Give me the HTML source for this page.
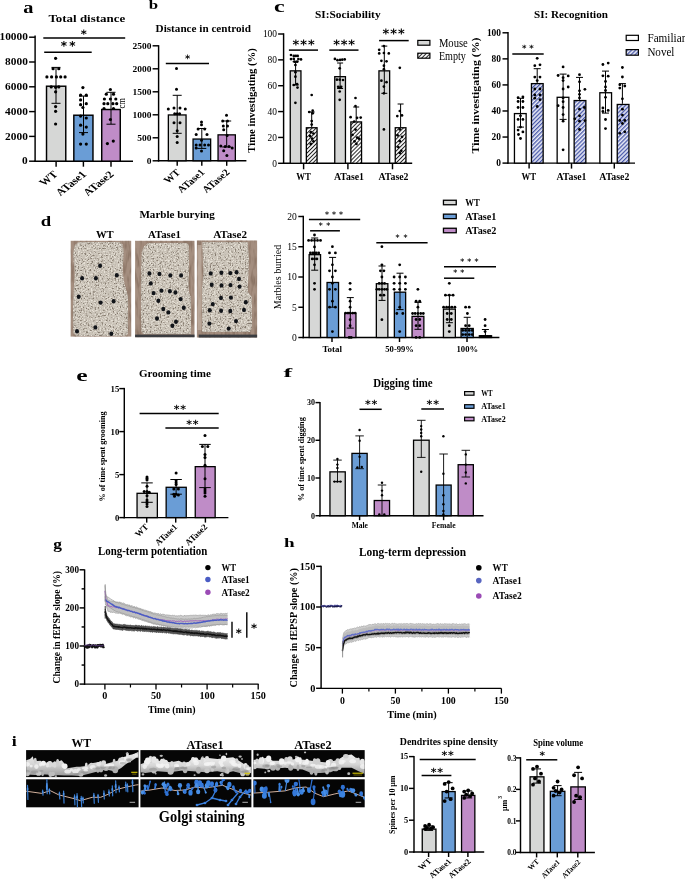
<!DOCTYPE html>
<html><head><meta charset="utf-8"><title>Figure</title>
<style>
html,body{margin:0;padding:0;background:#fff;}
svg{display:block;}
svg text{font-family:'Liberation Serif', 'Times New Roman', serif;font-weight:bold;}
</style></head>
<body>
<svg width="685" height="881" viewBox="0 0 685 881">
<rect width="685" height="881" fill="#ffffff"/>
<defs>
<pattern id="hatchK" patternUnits="userSpaceOnUse" width="2.8" height="2.8" patternTransform="rotate(45)">
<rect width="2.8" height="2.8" fill="#fff"/><rect width="1.0" height="2.8" fill="#222"/></pattern>
<pattern id="hatchB" patternUnits="userSpaceOnUse" width="2.9" height="2.9" patternTransform="rotate(45)">
<rect width="2.9" height="2.9" fill="#eceef8"/><rect width="1.3" height="2.9" fill="#4656a8"/></pattern>
<filter id="speckle" x="0" y="0" width="100%" height="100%" color-interpolation-filters="sRGB">
<feTurbulence type="fractalNoise" baseFrequency="0.6" numOctaves="2" seed="4" result="n"/>
<feColorMatrix in="n" type="matrix" values="0 0 0 0 0.52  0 0 0 0 0.48  0 0 0 0 0.43  5 0 0 0 -2.75" result="s"/>
<feComposite in="s" in2="SourceGraphic" operator="in" result="sp"/>
<feTurbulence type="fractalNoise" baseFrequency="0.7" numOctaves="1" seed="17" result="n2"/>
<feColorMatrix in="n2" type="matrix" values="0 0 0 0 0.90  0 0 0 0 0.88  0 0 0 0 0.84  0 6 0 0 -3.0" result="s2"/>
<feComposite in="s2" in2="SourceGraphic" operator="in" result="sp2"/>
<feMerge result="m"><feMergeNode in="SourceGraphic"/><feMergeNode in="sp2"/><feMergeNode in="sp"/></feMerge>
<feGaussianBlur in="m" stdDeviation="0.35"/>
</filter>
<filter id="grain" x="0" y="0" width="100%" height="100%" color-interpolation-filters="sRGB">
<feTurbulence type="fractalNoise" baseFrequency="0.35 0.08" numOctaves="2" seed="9" result="n"/>
<feColorMatrix in="n" type="matrix" values="0 0 0 0 0.45  0 0 0 0 0.36  0 0 0 0 0.30  3 0 0 0 -1.3" result="s"/>
<feComposite in="s" in2="SourceGraphic" operator="in"/>
</filter>
<linearGradient id="dgrad" x1="0" y1="0" x2="0" y2="1"><stop offset="0" stop-color="#ececec"/><stop offset="0.5" stop-color="#d6d6d6"/><stop offset="1" stop-color="#9a9a9a"/></linearGradient>
<filter id="soft" x="-5%" y="-20%" width="110%" height="140%"><feGaussianBlur stdDeviation="0.6"/></filter>
</defs>
<text x="23.2" y="12.8" font-size="16.5" textLength="10.2" lengthAdjust="spacingAndGlyphs">a</text>
<text x="48.4" y="22.4" font-size="10.5" textLength="76.8" lengthAdjust="spacingAndGlyphs">Total distance</text>
<line x1="35.1" y1="35.48" x2="35.1" y2="161.92" stroke="#000" stroke-width="1.45"/>
<line x1="29.1" y1="161.2" x2="35.1" y2="161.2" stroke="#000" stroke-width="1.45"/>
<text x="27.8" y="164.36" font-size="9.3" text-anchor="end" textLength="5.67" lengthAdjust="spacingAndGlyphs">0</text>
<line x1="29.1" y1="136.4" x2="35.1" y2="136.4" stroke="#000" stroke-width="1.45"/>
<text x="27.8" y="139.56" font-size="9.3" text-anchor="end" textLength="22.69" lengthAdjust="spacingAndGlyphs">2000</text>
<line x1="29.1" y1="111.6" x2="35.1" y2="111.6" stroke="#000" stroke-width="1.45"/>
<text x="27.8" y="114.76" font-size="9.3" text-anchor="end" textLength="22.69" lengthAdjust="spacingAndGlyphs">4000</text>
<line x1="29.1" y1="86.8" x2="35.1" y2="86.8" stroke="#000" stroke-width="1.45"/>
<text x="27.8" y="89.96" font-size="9.3" text-anchor="end" textLength="22.69" lengthAdjust="spacingAndGlyphs">6000</text>
<line x1="29.1" y1="62" x2="35.1" y2="62" stroke="#000" stroke-width="1.45"/>
<text x="27.8" y="65.16" font-size="9.3" text-anchor="end" textLength="22.69" lengthAdjust="spacingAndGlyphs">8000</text>
<line x1="29.1" y1="37.2" x2="35.1" y2="37.2" stroke="#000" stroke-width="1.45"/>
<text x="27.8" y="40.36" font-size="9.3" text-anchor="end" textLength="28.36" lengthAdjust="spacingAndGlyphs">10000</text>
<line x1="34.38" y1="161.2" x2="133" y2="161.2" stroke="#000" stroke-width="1.45"/>
<line x1="56.1" y1="161.2" x2="56.1" y2="166.7" stroke="#000" stroke-width="1.45"/>
<line x1="83.4" y1="161.2" x2="83.4" y2="166.7" stroke="#000" stroke-width="1.45"/>
<line x1="111" y1="161.2" x2="111" y2="166.7" stroke="#000" stroke-width="1.45"/>
<rect x="46.52" y="86.22" width="19.25" height="74.95" fill="#d6d7d6" stroke="#000" stroke-width="1.45"/>
<rect x="73.82" y="115.22" width="19.15" height="45.95" fill="#6a9dd6" stroke="#000" stroke-width="1.45"/>
<rect x="101.72" y="109.52" width="18.55" height="51.65" fill="#bf8cc7" stroke="#000" stroke-width="1.45"/>
<line x1="56" y1="67.4" x2="56" y2="103.3" stroke="#000" stroke-width="1.0"/>
<line x1="51.5" y1="67.4" x2="60.5" y2="67.4" stroke="#000" stroke-width="1.0"/>
<line x1="51.5" y1="103.3" x2="60.5" y2="103.3" stroke="#000" stroke-width="1.0"/>
<line x1="83.5" y1="96.1" x2="83.5" y2="132.6" stroke="#000" stroke-width="1.0"/>
<line x1="79" y1="96.1" x2="88" y2="96.1" stroke="#000" stroke-width="1.0"/>
<line x1="79" y1="132.6" x2="88" y2="132.6" stroke="#000" stroke-width="1.0"/>
<line x1="111" y1="92.3" x2="111" y2="124.2" stroke="#000" stroke-width="1.0"/>
<line x1="106.5" y1="92.3" x2="115.5" y2="92.3" stroke="#000" stroke-width="1.0"/>
<line x1="106.5" y1="124.2" x2="115.5" y2="124.2" stroke="#000" stroke-width="1.0"/>
<circle cx="55.6" cy="58.3" r="1.6" fill="#000"/>
<circle cx="53.1" cy="68.7" r="1.6" fill="#000"/>
<circle cx="58.8" cy="68.7" r="1.6" fill="#000"/>
<circle cx="46.9" cy="76.9" r="1.6" fill="#000"/>
<circle cx="51.6" cy="76.9" r="1.6" fill="#000"/>
<circle cx="56.4" cy="76.9" r="1.6" fill="#000"/>
<circle cx="60.7" cy="76.9" r="1.6" fill="#000"/>
<circle cx="65.1" cy="76.9" r="1.6" fill="#000"/>
<circle cx="51.2" cy="86.9" r="1.6" fill="#000"/>
<circle cx="55.6" cy="87.3" r="1.6" fill="#000"/>
<circle cx="58.8" cy="86.9" r="1.6" fill="#000"/>
<circle cx="55.6" cy="91.8" r="1.6" fill="#000"/>
<circle cx="55.6" cy="106.6" r="1.6" fill="#000"/>
<circle cx="55.6" cy="111.3" r="1.6" fill="#000"/>
<circle cx="55.6" cy="124" r="1.6" fill="#000"/>
<circle cx="82.9" cy="87.6" r="1.6" fill="#000"/>
<circle cx="80.6" cy="95.2" r="1.6" fill="#000"/>
<circle cx="86.3" cy="95.2" r="1.6" fill="#000"/>
<circle cx="80.6" cy="99.9" r="1.6" fill="#000"/>
<circle cx="86.3" cy="103.7" r="1.6" fill="#000"/>
<circle cx="80.6" cy="104.7" r="1.6" fill="#000"/>
<circle cx="82.9" cy="107.5" r="1.6" fill="#000"/>
<circle cx="80.6" cy="116.1" r="1.6" fill="#000"/>
<circle cx="86.3" cy="118" r="1.6" fill="#000"/>
<circle cx="80.6" cy="125.2" r="1.6" fill="#000"/>
<circle cx="86.3" cy="127.1" r="1.6" fill="#000"/>
<circle cx="82.9" cy="134.1" r="1.6" fill="#000"/>
<circle cx="80.6" cy="144.1" r="1.6" fill="#000"/>
<circle cx="86.3" cy="144.1" r="1.6" fill="#000"/>
<circle cx="110.4" cy="89.5" r="1.6" fill="#000"/>
<circle cx="106.3" cy="94.2" r="1.6" fill="#000"/>
<circle cx="113.5" cy="94.2" r="1.6" fill="#000"/>
<circle cx="104.4" cy="99" r="1.6" fill="#000"/>
<circle cx="110.4" cy="99" r="1.6" fill="#000"/>
<circle cx="115.8" cy="99" r="1.6" fill="#000"/>
<circle cx="104" cy="103.7" r="1.6" fill="#000"/>
<circle cx="107.8" cy="103.7" r="1.6" fill="#000"/>
<circle cx="112.9" cy="103.7" r="1.6" fill="#000"/>
<circle cx="116.7" cy="103.7" r="1.6" fill="#000"/>
<circle cx="104" cy="108.5" r="1.6" fill="#000"/>
<circle cx="113.5" cy="108.5" r="1.6" fill="#000"/>
<circle cx="110.4" cy="119.5" r="1.6" fill="#000"/>
<circle cx="107.4" cy="143.6" r="1.6" fill="#000"/>
<circle cx="113.3" cy="141.1" r="1.6" fill="#000"/>
<text x="125.3" y="108.6" font-size="10.5" transform="rotate(-90 125.3 108.6)" style="font-weight:normal" textLength="10.4" lengthAdjust="spacingAndGlyphs">cm</text>
<line x1="43.3" y1="38" x2="125.2" y2="38" stroke="#000" stroke-width="1.5"/>
<text x="80.87" y="38.04" font-size="11.5" text-rendering="geometricPrecision" style="font-family:'DejaVu Sans', sans-serif">*</text>
<line x1="44.2" y1="52.2" x2="91.7" y2="52.2" stroke="#000" stroke-width="1.5"/>
<text x="60.69" y="50.4" font-size="12" text-rendering="geometricPrecision" style="font-family:'DejaVu Sans', sans-serif">*</text>
<text x="69.19" y="50.4" font-size="12" text-rendering="geometricPrecision" style="font-family:'DejaVu Sans', sans-serif">*</text>
<text x="0" y="0" font-size="9.8" transform="translate(58.5 175) scale(1.25 1) rotate(-45)" text-anchor="end">WT</text>
<text x="0" y="0" font-size="9.8" transform="translate(87 175) scale(1.25 1) rotate(-45)" text-anchor="end">ATase1</text>
<text x="0" y="0" font-size="9.8" transform="translate(114.5 175) scale(1.25 1) rotate(-45)" text-anchor="end">ATase2</text>
<text x="148.8" y="9.4" font-size="12.5" textLength="9.38" lengthAdjust="spacingAndGlyphs">b</text>
<text x="155.6" y="32.3" font-size="10.4" textLength="95.3" lengthAdjust="spacingAndGlyphs">Distance in centroid</text>
<line x1="158.6" y1="45.17" x2="158.6" y2="161.53" stroke="#000" stroke-width="1.45"/>
<line x1="152.6" y1="160.8" x2="158.6" y2="160.8" stroke="#000" stroke-width="1.45"/>
<text x="151.5" y="163.86" font-size="9" text-anchor="end" textLength="4.73" lengthAdjust="spacingAndGlyphs">0</text>
<line x1="152.6" y1="137.8" x2="158.6" y2="137.8" stroke="#000" stroke-width="1.45"/>
<text x="151.5" y="140.86" font-size="9" text-anchor="end" textLength="14.18" lengthAdjust="spacingAndGlyphs">500</text>
<line x1="152.6" y1="114.8" x2="158.6" y2="114.8" stroke="#000" stroke-width="1.45"/>
<text x="151.5" y="117.86" font-size="9" text-anchor="end" textLength="18.9" lengthAdjust="spacingAndGlyphs">1000</text>
<line x1="152.6" y1="91.8" x2="158.6" y2="91.8" stroke="#000" stroke-width="1.45"/>
<text x="151.5" y="94.86" font-size="9" text-anchor="end" textLength="18.9" lengthAdjust="spacingAndGlyphs">1500</text>
<line x1="152.6" y1="68.8" x2="158.6" y2="68.8" stroke="#000" stroke-width="1.45"/>
<text x="151.5" y="71.86" font-size="9" text-anchor="end" textLength="18.9" lengthAdjust="spacingAndGlyphs">2000</text>
<line x1="152.6" y1="45.8" x2="158.6" y2="45.8" stroke="#000" stroke-width="1.45"/>
<text x="151.5" y="48.86" font-size="9" text-anchor="end" textLength="18.9" lengthAdjust="spacingAndGlyphs">2500</text>
<line x1="157.88" y1="160.8" x2="246.4" y2="160.8" stroke="#000" stroke-width="1.45"/>
<line x1="177.2" y1="160.8" x2="177.2" y2="165.8" stroke="#000" stroke-width="1.45"/>
<line x1="201.8" y1="160.8" x2="201.8" y2="165.8" stroke="#000" stroke-width="1.45"/>
<line x1="226.7" y1="160.8" x2="226.7" y2="165.8" stroke="#000" stroke-width="1.45"/>
<rect x="168.35" y="114.95" width="17.7" height="45.8" fill="#d6d7d6" stroke="#000" stroke-width="1.3"/>
<rect x="193.05" y="139.05" width="17.6" height="21.7" fill="#6a9dd6" stroke="#000" stroke-width="1.3"/>
<rect x="218.05" y="134.85" width="17.3" height="25.9" fill="#bf8cc7" stroke="#000" stroke-width="1.3"/>
<line x1="177.2" y1="95.3" x2="177.2" y2="133.3" stroke="#000" stroke-width="1.0"/>
<line x1="172.7" y1="95.3" x2="181.7" y2="95.3" stroke="#000" stroke-width="1.0"/>
<line x1="172.7" y1="133.3" x2="181.7" y2="133.3" stroke="#000" stroke-width="1.0"/>
<line x1="201.8" y1="128.5" x2="201.8" y2="148.4" stroke="#000" stroke-width="1.0"/>
<line x1="197.3" y1="128.5" x2="206.3" y2="128.5" stroke="#000" stroke-width="1.0"/>
<line x1="197.3" y1="148.4" x2="206.3" y2="148.4" stroke="#000" stroke-width="1.0"/>
<line x1="226.7" y1="121" x2="226.7" y2="147" stroke="#000" stroke-width="1.0"/>
<line x1="222.2" y1="121" x2="231.2" y2="121" stroke="#000" stroke-width="1.0"/>
<line x1="222.2" y1="147" x2="231.2" y2="147" stroke="#000" stroke-width="1.0"/>
<circle cx="176.5" cy="68.5" r="1.5" fill="#000"/>
<circle cx="176.5" cy="89.3" r="1.5" fill="#000"/>
<circle cx="168.3" cy="109" r="1.5" fill="#000"/>
<circle cx="174" cy="108" r="1.5" fill="#000"/>
<circle cx="180" cy="108" r="1.5" fill="#000"/>
<circle cx="185.3" cy="109" r="1.5" fill="#000"/>
<circle cx="174.7" cy="113.7" r="1.5" fill="#000"/>
<circle cx="177.2" cy="113.7" r="1.5" fill="#000"/>
<circle cx="179.6" cy="113.7" r="1.5" fill="#000"/>
<circle cx="174" cy="122.8" r="1.5" fill="#000"/>
<circle cx="180" cy="122.8" r="1.5" fill="#000"/>
<circle cx="177.2" cy="130.8" r="1.5" fill="#000"/>
<circle cx="177.2" cy="136.5" r="1.5" fill="#000"/>
<circle cx="177.2" cy="142.6" r="1.5" fill="#000"/>
<circle cx="201.5" cy="121.9" r="1.5" fill="#000"/>
<circle cx="201.5" cy="124.7" r="1.5" fill="#000"/>
<circle cx="198.1" cy="128.9" r="1.5" fill="#000"/>
<circle cx="204.7" cy="128.9" r="1.5" fill="#000"/>
<circle cx="196.2" cy="134.6" r="1.5" fill="#000"/>
<circle cx="207" cy="134.6" r="1.5" fill="#000"/>
<circle cx="201.5" cy="140.3" r="1.5" fill="#000"/>
<circle cx="196.2" cy="145" r="1.5" fill="#000"/>
<circle cx="200" cy="145" r="1.5" fill="#000"/>
<circle cx="204.7" cy="145" r="1.5" fill="#000"/>
<circle cx="208.5" cy="145" r="1.5" fill="#000"/>
<circle cx="201.5" cy="151.1" r="1.5" fill="#000"/>
<circle cx="196.2" cy="147.9" r="1.5" fill="#000"/>
<circle cx="226.5" cy="115.2" r="1.5" fill="#000"/>
<circle cx="222.7" cy="120.9" r="1.5" fill="#000"/>
<circle cx="227.5" cy="120.9" r="1.5" fill="#000"/>
<circle cx="223.3" cy="126.1" r="1.5" fill="#000"/>
<circle cx="227.5" cy="126.1" r="1.5" fill="#000"/>
<circle cx="223.7" cy="129.8" r="1.5" fill="#000"/>
<circle cx="227.1" cy="135.5" r="1.5" fill="#000"/>
<circle cx="220.8" cy="146" r="1.5" fill="#000"/>
<circle cx="225.2" cy="146.4" r="1.5" fill="#000"/>
<circle cx="229" cy="146.4" r="1.5" fill="#000"/>
<circle cx="232.2" cy="147.9" r="1.5" fill="#000"/>
<circle cx="223.7" cy="150.7" r="1.5" fill="#000"/>
<circle cx="226.9" cy="155.5" r="1.5" fill="#000"/>
<line x1="165.8" y1="63.6" x2="209" y2="63.6" stroke="#000" stroke-width="1.5"/>
<text x="185.05" y="62.15" font-size="10" text-rendering="geometricPrecision" style="font-family:'DejaVu Sans', sans-serif">*</text>
<text x="0" y="0" font-size="9.4" transform="translate(181 173) scale(1.18 1) rotate(-45)" text-anchor="end">WT</text>
<text x="0" y="0" font-size="9.4" transform="translate(205.5 173) scale(1.18 1) rotate(-45)" text-anchor="end">ATase1</text>
<text x="0" y="0" font-size="9.4" transform="translate(230.5 173) scale(1.18 1) rotate(-45)" text-anchor="end">ATase2</text>
<text x="273.9" y="11.5" font-size="16" textLength="10.65" lengthAdjust="spacingAndGlyphs">c</text>
<text x="314.9" y="18" font-size="10.7" textLength="65.7" lengthAdjust="spacingAndGlyphs">SI:Sociability</text>
<text x="255.5" y="152.7" font-size="11" transform="rotate(-90 255.5 152.7)" textLength="104.5" lengthAdjust="spacingAndGlyphs">Time investigating (%)</text>
<line x1="283.6" y1="33.27" x2="283.6" y2="164.03" stroke="#000" stroke-width="1.45"/>
<line x1="278.1" y1="163.3" x2="283.6" y2="163.3" stroke="#000" stroke-width="1.45"/>
<text x="277" y="166.56" font-size="9.6" style="font-weight:normal" text-anchor="end" textLength="4.7" lengthAdjust="spacingAndGlyphs">0</text>
<line x1="278.1" y1="137.44" x2="283.6" y2="137.44" stroke="#000" stroke-width="1.45"/>
<text x="277" y="140.7" font-size="9.6" style="font-weight:normal" text-anchor="end" textLength="9.41" lengthAdjust="spacingAndGlyphs">20</text>
<line x1="278.1" y1="111.58" x2="283.6" y2="111.58" stroke="#000" stroke-width="1.45"/>
<text x="277" y="114.84" font-size="9.6" style="font-weight:normal" text-anchor="end" textLength="9.41" lengthAdjust="spacingAndGlyphs">40</text>
<line x1="278.1" y1="85.72" x2="283.6" y2="85.72" stroke="#000" stroke-width="1.45"/>
<text x="277" y="88.98" font-size="9.6" style="font-weight:normal" text-anchor="end" textLength="9.41" lengthAdjust="spacingAndGlyphs">60</text>
<line x1="278.1" y1="59.86" x2="283.6" y2="59.86" stroke="#000" stroke-width="1.45"/>
<text x="277" y="63.12" font-size="9.6" style="font-weight:normal" text-anchor="end" textLength="9.41" lengthAdjust="spacingAndGlyphs">80</text>
<line x1="278.1" y1="34" x2="283.6" y2="34" stroke="#000" stroke-width="1.45"/>
<text x="277" y="37.26" font-size="9.6" style="font-weight:normal" text-anchor="end" textLength="14.11" lengthAdjust="spacingAndGlyphs">100</text>
<line x1="282.88" y1="163.3" x2="412.2" y2="163.3" stroke="#000" stroke-width="1.45"/>
<line x1="303.6" y1="163.3" x2="303.6" y2="169.3" stroke="#000" stroke-width="1.45"/>
<line x1="347.9" y1="163.3" x2="347.9" y2="169.3" stroke="#000" stroke-width="1.45"/>
<line x1="392.5" y1="163.3" x2="392.5" y2="169.3" stroke="#000" stroke-width="1.45"/>
<rect x="290.25" y="70.85" width="10.7" height="92.45" fill="#d6d7d6" stroke="#000" stroke-width="1.3"/>
<rect x="334.75" y="76.67" width="10.7" height="86.63" fill="#d6d7d6" stroke="#000" stroke-width="1.3"/>
<rect x="378.95" y="70.85" width="10.7" height="92.45" fill="#d6d7d6" stroke="#000" stroke-width="1.3"/>
<rect x="306.35" y="127.75" width="10.7" height="35.55" fill="url(#hatchK)" stroke="#000" stroke-width="1.3"/>
<rect x="350.85" y="121.93" width="10.7" height="41.37" fill="url(#hatchK)" stroke="#000" stroke-width="1.3"/>
<rect x="395.25" y="127.75" width="10.7" height="35.55" fill="url(#hatchK)" stroke="#000" stroke-width="1.3"/>
<line x1="295.6" y1="61.7" x2="295.6" y2="85" stroke="#000" stroke-width="1.0"/>
<line x1="292.6" y1="61.7" x2="298.6" y2="61.7" stroke="#000" stroke-width="1.0"/>
<line x1="292.6" y1="85" x2="298.6" y2="85" stroke="#000" stroke-width="1.0"/>
<line x1="340.1" y1="63" x2="340.1" y2="88.5" stroke="#000" stroke-width="1.0"/>
<line x1="337.1" y1="63" x2="343.1" y2="63" stroke="#000" stroke-width="1.0"/>
<line x1="337.1" y1="88.5" x2="343.1" y2="88.5" stroke="#000" stroke-width="1.0"/>
<line x1="384.3" y1="46.1" x2="384.3" y2="93.3" stroke="#000" stroke-width="1.0"/>
<line x1="381.3" y1="46.1" x2="387.3" y2="46.1" stroke="#000" stroke-width="1.0"/>
<line x1="381.3" y1="93.3" x2="387.3" y2="93.3" stroke="#000" stroke-width="1.0"/>
<line x1="311.7" y1="112" x2="311.7" y2="127.1" stroke="#000" stroke-width="1.0"/>
<line x1="308.7" y1="112" x2="314.7" y2="112" stroke="#000" stroke-width="1.0"/>
<line x1="356.2" y1="107" x2="356.2" y2="121.28" stroke="#000" stroke-width="1.0"/>
<line x1="353.2" y1="107" x2="359.2" y2="107" stroke="#000" stroke-width="1.0"/>
<line x1="400.6" y1="104" x2="400.6" y2="127.1" stroke="#000" stroke-width="1.0"/>
<line x1="397.6" y1="104" x2="403.6" y2="104" stroke="#000" stroke-width="1.0"/>
<circle cx="291" cy="55" r="1.35" fill="#000"/>
<circle cx="293.8" cy="55.9" r="1.35" fill="#000"/>
<circle cx="295.8" cy="55.9" r="1.35" fill="#000"/>
<circle cx="297.7" cy="55.9" r="1.35" fill="#000"/>
<circle cx="291" cy="59.1" r="1.35" fill="#000"/>
<circle cx="293.8" cy="58.9" r="1.35" fill="#000"/>
<circle cx="298.4" cy="59.1" r="1.35" fill="#000"/>
<circle cx="301" cy="59.4" r="1.35" fill="#000"/>
<circle cx="294.5" cy="61.7" r="1.35" fill="#000"/>
<circle cx="297.1" cy="61.7" r="1.35" fill="#000"/>
<circle cx="295.4" cy="65" r="1.35" fill="#000"/>
<circle cx="295.4" cy="72.2" r="1.35" fill="#000"/>
<circle cx="295.4" cy="76.7" r="1.35" fill="#000"/>
<circle cx="293.8" cy="85" r="1.35" fill="#000"/>
<circle cx="297.1" cy="84.2" r="1.35" fill="#000"/>
<circle cx="297.5" cy="87.6" r="1.35" fill="#000"/>
<circle cx="295.4" cy="102.8" r="1.35" fill="#000"/>
<circle cx="311.7" cy="95" r="1.35" fill="#000"/>
<circle cx="309.2" cy="112" r="1.35" fill="#000"/>
<circle cx="312.7" cy="110.7" r="1.35" fill="#000"/>
<circle cx="312.7" cy="113.3" r="1.35" fill="#000"/>
<circle cx="311.7" cy="121.1" r="1.35" fill="#000"/>
<circle cx="311.7" cy="124.6" r="1.35" fill="#000"/>
<circle cx="310.8" cy="132.2" r="1.35" fill="#000"/>
<circle cx="313.4" cy="133.5" r="1.35" fill="#000"/>
<circle cx="310.1" cy="136.1" r="1.35" fill="#000"/>
<circle cx="312.1" cy="138.7" r="1.35" fill="#000"/>
<circle cx="313.4" cy="141.3" r="1.35" fill="#000"/>
<circle cx="310.8" cy="143.9" r="1.35" fill="#000"/>
<circle cx="334.9" cy="58.9" r="1.35" fill="#000"/>
<circle cx="337.5" cy="60.2" r="1.35" fill="#000"/>
<circle cx="340.1" cy="59.9" r="1.35" fill="#000"/>
<circle cx="342.3" cy="59.7" r="1.35" fill="#000"/>
<circle cx="344.7" cy="59.4" r="1.35" fill="#000"/>
<circle cx="339.7" cy="68.3" r="1.35" fill="#000"/>
<circle cx="336.9" cy="79.7" r="1.35" fill="#000"/>
<circle cx="339.7" cy="79.7" r="1.35" fill="#000"/>
<circle cx="343" cy="80" r="1.35" fill="#000"/>
<circle cx="338.2" cy="86.8" r="1.35" fill="#000"/>
<circle cx="341.2" cy="86.8" r="1.35" fill="#000"/>
<circle cx="339.7" cy="87.8" r="1.35" fill="#000"/>
<circle cx="339.7" cy="91.5" r="1.35" fill="#000"/>
<circle cx="339.7" cy="99.8" r="1.35" fill="#000"/>
<circle cx="355.5" cy="98" r="1.35" fill="#000"/>
<circle cx="355.5" cy="106.1" r="1.35" fill="#000"/>
<circle cx="350.6" cy="117.2" r="1.35" fill="#000"/>
<circle cx="357.1" cy="117.8" r="1.35" fill="#000"/>
<circle cx="360.7" cy="117.6" r="1.35" fill="#000"/>
<circle cx="354.2" cy="121.5" r="1.35" fill="#000"/>
<circle cx="355.5" cy="129.6" r="1.35" fill="#000"/>
<circle cx="352.5" cy="134.8" r="1.35" fill="#000"/>
<circle cx="357.1" cy="137.6" r="1.35" fill="#000"/>
<circle cx="359" cy="138.7" r="1.35" fill="#000"/>
<circle cx="354.5" cy="141.3" r="1.35" fill="#000"/>
<circle cx="356.4" cy="143.9" r="1.35" fill="#000"/>
<circle cx="383.9" cy="46.1" r="1.35" fill="#000"/>
<circle cx="379.2" cy="49.8" r="1.35" fill="#000"/>
<circle cx="379.2" cy="53.4" r="1.35" fill="#000"/>
<circle cx="383.9" cy="53" r="1.35" fill="#000"/>
<circle cx="388.8" cy="53.4" r="1.35" fill="#000"/>
<circle cx="381.4" cy="60.8" r="1.35" fill="#000"/>
<circle cx="386.5" cy="61.3" r="1.35" fill="#000"/>
<circle cx="383.9" cy="65.7" r="1.35" fill="#000"/>
<circle cx="383.9" cy="69.2" r="1.35" fill="#000"/>
<circle cx="381.4" cy="80.7" r="1.35" fill="#000"/>
<circle cx="386.5" cy="82.2" r="1.35" fill="#000"/>
<circle cx="383.9" cy="86.6" r="1.35" fill="#000"/>
<circle cx="383.9" cy="93.3" r="1.35" fill="#000"/>
<circle cx="383.9" cy="129.4" r="1.35" fill="#000"/>
<circle cx="399.8" cy="67.8" r="1.35" fill="#000"/>
<circle cx="399.8" cy="111" r="1.35" fill="#000"/>
<circle cx="397.3" cy="116.1" r="1.35" fill="#000"/>
<circle cx="402" cy="115.4" r="1.35" fill="#000"/>
<circle cx="399.8" cy="129.4" r="1.35" fill="#000"/>
<circle cx="397.6" cy="135.3" r="1.35" fill="#000"/>
<circle cx="402" cy="136.8" r="1.35" fill="#000"/>
<circle cx="399.8" cy="141.2" r="1.35" fill="#000"/>
<circle cx="398.3" cy="147.1" r="1.35" fill="#000"/>
<circle cx="401.3" cy="150.8" r="1.35" fill="#000"/>
<circle cx="399.8" cy="153" r="1.35" fill="#000"/>
<line x1="288.9" y1="50.1" x2="318" y2="50.1" stroke="#000" stroke-width="1.5"/>
<text x="292.39" y="48.52" font-size="12.8" text-rendering="geometricPrecision" style="font-family:'DejaVu Sans', sans-serif">*</text>
<text x="300.24" y="48.52" font-size="12.8" text-rendering="geometricPrecision" style="font-family:'DejaVu Sans', sans-serif">*</text>
<text x="308.09" y="48.52" font-size="12.8" text-rendering="geometricPrecision" style="font-family:'DejaVu Sans', sans-serif">*</text>
<line x1="329.3" y1="50.1" x2="358.5" y2="50.1" stroke="#000" stroke-width="1.5"/>
<text x="333.14" y="48.52" font-size="12.8" text-rendering="geometricPrecision" style="font-family:'DejaVu Sans', sans-serif">*</text>
<text x="340.74" y="48.52" font-size="12.8" text-rendering="geometricPrecision" style="font-family:'DejaVu Sans', sans-serif">*</text>
<text x="348.34" y="48.52" font-size="12.8" text-rendering="geometricPrecision" style="font-family:'DejaVu Sans', sans-serif">*</text>
<line x1="379.1" y1="40.6" x2="408.7" y2="40.6" stroke="#000" stroke-width="1.5"/>
<text x="382.54" y="38.12" font-size="12.8" text-rendering="geometricPrecision" style="font-family:'DejaVu Sans', sans-serif">*</text>
<text x="390.24" y="38.12" font-size="12.8" text-rendering="geometricPrecision" style="font-family:'DejaVu Sans', sans-serif">*</text>
<text x="397.94" y="38.12" font-size="12.8" text-rendering="geometricPrecision" style="font-family:'DejaVu Sans', sans-serif">*</text>
<text x="303.5" y="179.6" font-size="9.6" text-anchor="middle" textLength="14.6" lengthAdjust="spacingAndGlyphs">WT</text>
<text x="349" y="179.6" font-size="9.6" text-anchor="middle" textLength="30" lengthAdjust="spacingAndGlyphs">ATase1</text>
<text x="393.5" y="179.6" font-size="9.6" text-anchor="middle" textLength="30" lengthAdjust="spacingAndGlyphs">ATase2</text>
<rect x="417.8" y="40.4" width="12.1" height="4.8" fill="#d6d7d6" stroke="#000" stroke-width="1.2"/>
<rect x="417.8" y="53.2" width="12.1" height="5" fill="url(#hatchK)" stroke="#000" stroke-width="1.2"/>
<text x="438.9" y="46.7" font-size="11.5" style="font-weight:normal" textLength="28.9" lengthAdjust="spacingAndGlyphs">Mouse</text>
<text x="438.9" y="59.5" font-size="11.5" style="font-weight:normal" textLength="27" lengthAdjust="spacingAndGlyphs">Empty</text>
<text x="534" y="17.7" font-size="10.7" textLength="74" lengthAdjust="spacingAndGlyphs">SI: Recognition</text>
<text x="479.2" y="153.5" font-size="11" transform="rotate(-90 479.2 153.5)" textLength="116" lengthAdjust="spacingAndGlyphs">Time investigating (%)</text>
<line x1="508" y1="32.07" x2="508" y2="163.82" stroke="#000" stroke-width="1.45"/>
<line x1="502.5" y1="163.1" x2="508" y2="163.1" stroke="#000" stroke-width="1.45"/>
<text x="501" y="166.36" font-size="9.6" text-anchor="end" textLength="4.7" lengthAdjust="spacingAndGlyphs">0</text>
<line x1="502.5" y1="137.04" x2="508" y2="137.04" stroke="#000" stroke-width="1.45"/>
<text x="501" y="140.3" font-size="9.6" text-anchor="end" textLength="9.41" lengthAdjust="spacingAndGlyphs">20</text>
<line x1="502.5" y1="110.98" x2="508" y2="110.98" stroke="#000" stroke-width="1.45"/>
<text x="501" y="114.24" font-size="9.6" text-anchor="end" textLength="9.41" lengthAdjust="spacingAndGlyphs">40</text>
<line x1="502.5" y1="84.92" x2="508" y2="84.92" stroke="#000" stroke-width="1.45"/>
<text x="501" y="88.18" font-size="9.6" text-anchor="end" textLength="9.41" lengthAdjust="spacingAndGlyphs">60</text>
<line x1="502.5" y1="58.86" x2="508" y2="58.86" stroke="#000" stroke-width="1.45"/>
<text x="501" y="62.12" font-size="9.6" text-anchor="end" textLength="9.41" lengthAdjust="spacingAndGlyphs">80</text>
<line x1="502.5" y1="32.8" x2="508" y2="32.8" stroke="#000" stroke-width="1.45"/>
<text x="501" y="36.06" font-size="9.6" text-anchor="end" textLength="14.11" lengthAdjust="spacingAndGlyphs">100</text>
<line x1="507.27" y1="163.1" x2="635" y2="163.1" stroke="#000" stroke-width="1.45"/>
<line x1="529.1" y1="163.1" x2="529.1" y2="168.6" stroke="#000" stroke-width="1.45"/>
<line x1="571.5" y1="163.1" x2="571.5" y2="168.6" stroke="#000" stroke-width="1.45"/>
<line x1="614.3" y1="163.1" x2="614.3" y2="168.6" stroke="#000" stroke-width="1.45"/>
<rect x="514.45" y="113.58" width="11.7" height="49.52" fill="#fff" stroke="#000" stroke-width="1.3"/>
<rect x="531.45" y="83.62" width="11.7" height="79.48" fill="url(#hatchB)" stroke="#000" stroke-width="1.3"/>
<rect x="557.15" y="97.3" width="11.7" height="65.8" fill="#fff" stroke="#000" stroke-width="1.3"/>
<rect x="574.15" y="100.55" width="11.7" height="62.55" fill="url(#hatchB)" stroke="#000" stroke-width="1.3"/>
<rect x="599.85" y="92.74" width="11.7" height="70.36" fill="#fff" stroke="#000" stroke-width="1.3"/>
<rect x="617.25" y="104.46" width="11.7" height="58.64" fill="url(#hatchB)" stroke="#000" stroke-width="1.3"/>
<line x1="520.5" y1="98.3" x2="520.5" y2="127.1" stroke="#000" stroke-width="1.0"/>
<line x1="517" y1="98.3" x2="524" y2="98.3" stroke="#000" stroke-width="1.0"/>
<line x1="517" y1="127.1" x2="524" y2="127.1" stroke="#000" stroke-width="1.0"/>
<line x1="563.1" y1="74.1" x2="563.1" y2="119.4" stroke="#000" stroke-width="1.0"/>
<line x1="559.6" y1="74.1" x2="566.6" y2="74.1" stroke="#000" stroke-width="1.0"/>
<line x1="559.6" y1="119.4" x2="566.6" y2="119.4" stroke="#000" stroke-width="1.0"/>
<line x1="605.5" y1="71.1" x2="605.5" y2="113.1" stroke="#000" stroke-width="1.0"/>
<line x1="602" y1="71.1" x2="609" y2="71.1" stroke="#000" stroke-width="1.0"/>
<line x1="602" y1="113.1" x2="609" y2="113.1" stroke="#000" stroke-width="1.0"/>
<line x1="537.2" y1="68.7" x2="537.2" y2="82.97" stroke="#000" stroke-width="1.0"/>
<line x1="533.7" y1="68.7" x2="540.7" y2="68.7" stroke="#000" stroke-width="1.0"/>
<line x1="579.5" y1="77.4" x2="579.5" y2="99.9" stroke="#000" stroke-width="1.0"/>
<line x1="576" y1="77.4" x2="583" y2="77.4" stroke="#000" stroke-width="1.0"/>
<line x1="622.4" y1="83.6" x2="622.4" y2="103.81" stroke="#000" stroke-width="1.0"/>
<line x1="618.9" y1="83.6" x2="625.9" y2="83.6" stroke="#000" stroke-width="1.0"/>
<circle cx="518.1" cy="97.7" r="1.4" fill="#000"/>
<circle cx="522.9" cy="97" r="1.4" fill="#000"/>
<circle cx="518.1" cy="101.5" r="1.4" fill="#000"/>
<circle cx="522.9" cy="101.5" r="1.4" fill="#000"/>
<circle cx="518.1" cy="107.5" r="1.4" fill="#000"/>
<circle cx="522.9" cy="107.5" r="1.4" fill="#000"/>
<circle cx="520.5" cy="115.8" r="1.4" fill="#000"/>
<circle cx="518.1" cy="119.4" r="1.4" fill="#000"/>
<circle cx="522.9" cy="119.4" r="1.4" fill="#000"/>
<circle cx="520.5" cy="127.1" r="1.4" fill="#000"/>
<circle cx="518.1" cy="130.1" r="1.4" fill="#000"/>
<circle cx="522.9" cy="131.9" r="1.4" fill="#000"/>
<circle cx="520.5" cy="138.5" r="1.4" fill="#000"/>
<circle cx="518.5" cy="134.5" r="1.4" fill="#000"/>
<circle cx="537.2" cy="58.3" r="1.4" fill="#000"/>
<circle cx="534.8" cy="65.7" r="1.4" fill="#000"/>
<circle cx="540" cy="64.8" r="1.4" fill="#000"/>
<circle cx="534.8" cy="77.1" r="1.4" fill="#000"/>
<circle cx="540" cy="77.1" r="1.4" fill="#000"/>
<circle cx="537.2" cy="80.6" r="1.4" fill="#000"/>
<circle cx="534.8" cy="89" r="1.4" fill="#000"/>
<circle cx="540" cy="89" r="1.4" fill="#000"/>
<circle cx="534.8" cy="94.9" r="1.4" fill="#000"/>
<circle cx="540" cy="94.9" r="1.4" fill="#000"/>
<circle cx="534.8" cy="98.2" r="1.4" fill="#000"/>
<circle cx="540" cy="99.7" r="1.4" fill="#000"/>
<circle cx="537.2" cy="106.5" r="1.4" fill="#000"/>
<circle cx="563.1" cy="66.9" r="1.4" fill="#000"/>
<circle cx="558.1" cy="75.5" r="1.4" fill="#000"/>
<circle cx="568.2" cy="75.9" r="1.4" fill="#000"/>
<circle cx="563.1" cy="77.7" r="1.4" fill="#000"/>
<circle cx="563.1" cy="80.6" r="1.4" fill="#000"/>
<circle cx="568.2" cy="87" r="1.4" fill="#000"/>
<circle cx="563.1" cy="89" r="1.4" fill="#000"/>
<circle cx="563.1" cy="97.9" r="1.4" fill="#000"/>
<circle cx="563.1" cy="101.7" r="1.4" fill="#000"/>
<circle cx="558.1" cy="105.7" r="1.4" fill="#000"/>
<circle cx="563.1" cy="107.5" r="1.4" fill="#000"/>
<circle cx="563.1" cy="114.6" r="1.4" fill="#000"/>
<circle cx="563.1" cy="121.2" r="1.4" fill="#000"/>
<circle cx="563.1" cy="149.8" r="1.4" fill="#000"/>
<circle cx="579.5" cy="74.7" r="1.4" fill="#000"/>
<circle cx="579.5" cy="81.8" r="1.4" fill="#000"/>
<circle cx="584.9" cy="89.3" r="1.4" fill="#000"/>
<circle cx="579.5" cy="90.8" r="1.4" fill="#000"/>
<circle cx="579.5" cy="94.3" r="1.4" fill="#000"/>
<circle cx="579.5" cy="97.9" r="1.4" fill="#000"/>
<circle cx="579.5" cy="109.2" r="1.4" fill="#000"/>
<circle cx="584.3" cy="107.5" r="1.4" fill="#000"/>
<circle cx="579.5" cy="115.8" r="1.4" fill="#000"/>
<circle cx="574.8" cy="118.8" r="1.4" fill="#000"/>
<circle cx="579.5" cy="121.2" r="1.4" fill="#000"/>
<circle cx="584.9" cy="120.6" r="1.4" fill="#000"/>
<circle cx="579.5" cy="129.5" r="1.4" fill="#000"/>
<circle cx="602.9" cy="64.5" r="1.4" fill="#000"/>
<circle cx="608.2" cy="63.1" r="1.4" fill="#000"/>
<circle cx="602.9" cy="75.8" r="1.4" fill="#000"/>
<circle cx="608.2" cy="76.2" r="1.4" fill="#000"/>
<circle cx="605.5" cy="81.4" r="1.4" fill="#000"/>
<circle cx="605.5" cy="86.9" r="1.4" fill="#000"/>
<circle cx="605.5" cy="90.5" r="1.4" fill="#000"/>
<circle cx="605.5" cy="97.3" r="1.4" fill="#000"/>
<circle cx="602.9" cy="108" r="1.4" fill="#000"/>
<circle cx="602.9" cy="111.5" r="1.4" fill="#000"/>
<circle cx="608.2" cy="110.4" r="1.4" fill="#000"/>
<circle cx="605.5" cy="119.5" r="1.4" fill="#000"/>
<circle cx="605.5" cy="128.6" r="1.4" fill="#000"/>
<circle cx="622.4" cy="67.5" r="1.4" fill="#000"/>
<circle cx="622.4" cy="77" r="1.4" fill="#000"/>
<circle cx="619.8" cy="84.8" r="1.4" fill="#000"/>
<circle cx="624.8" cy="86" r="1.4" fill="#000"/>
<circle cx="619.8" cy="88.1" r="1.4" fill="#000"/>
<circle cx="622.4" cy="98.8" r="1.4" fill="#000"/>
<circle cx="622.4" cy="109.2" r="1.4" fill="#000"/>
<circle cx="622.4" cy="115.1" r="1.4" fill="#000"/>
<circle cx="619.8" cy="120.5" r="1.4" fill="#000"/>
<circle cx="624.8" cy="120.5" r="1.4" fill="#000"/>
<circle cx="622.4" cy="123.5" r="1.4" fill="#000"/>
<circle cx="619.8" cy="133.3" r="1.4" fill="#000"/>
<circle cx="624.8" cy="131.8" r="1.4" fill="#000"/>
<line x1="512.3" y1="54" x2="543.7" y2="54" stroke="#000" stroke-width="1.5"/>
<text x="522.03" y="50.76" font-size="8.5" text-rendering="geometricPrecision" style="font-family:'DejaVu Sans', sans-serif">*</text>
<text x="529.13" y="50.76" font-size="8.5" text-rendering="geometricPrecision" style="font-family:'DejaVu Sans', sans-serif">*</text>
<text x="528.9" y="179.8" font-size="9.6" text-anchor="middle" textLength="14.6" lengthAdjust="spacingAndGlyphs">WT</text>
<text x="571.5" y="179.8" font-size="9.6" text-anchor="middle" textLength="30" lengthAdjust="spacingAndGlyphs">ATase1</text>
<text x="614.3" y="179.8" font-size="9.6" text-anchor="middle" textLength="30" lengthAdjust="spacingAndGlyphs">ATase2</text>
<rect x="626.2" y="35.3" width="12.2" height="5.2" fill="#fff" stroke="#000" stroke-width="1.2"/>
<rect x="626.2" y="49.6" width="12.2" height="5.6" fill="url(#hatchB)" stroke="#000" stroke-width="1.2"/>
<text x="647.4" y="42" font-size="11.5" style="font-weight:normal" textLength="38" lengthAdjust="spacingAndGlyphs">Familiar</text>
<text x="647.4" y="56" font-size="11.5" style="font-weight:normal" textLength="27" lengthAdjust="spacingAndGlyphs">Novel</text>
<text x="40.8" y="225.6" font-size="15" textLength="10.43" lengthAdjust="spacingAndGlyphs">d</text>
<text x="139.4" y="218.3" font-size="10.7" textLength="75.4" lengthAdjust="spacingAndGlyphs">Marble burying</text>
<text x="96" y="237.9" font-size="11.2" textLength="17.7" lengthAdjust="spacingAndGlyphs">WT</text>
<text x="148" y="237.9" font-size="11.2" textLength="33" lengthAdjust="spacingAndGlyphs">ATase1</text>
<text x="213.2" y="237.9" font-size="11.2" textLength="33.8" lengthAdjust="spacingAndGlyphs">ATase2</text>
<rect x="70.7" y="240.8" width="60.5" height="95.8" fill="#a48e7f"/>
<rect x="70.7" y="240.8" width="60.5" height="95.8" fill="#a48e7f" filter="url(#grain)" opacity="0.5"/>
<polygon points="75.5,245.5 79,242.6 118.5,242.4 121.6,244.5 122.9,250.2 121.9,273 123.8,284.3 127.6,297.6 127.8,330 126.5,334.5 123,335.6 77,335.8 74.2,333 73.5,310.9 75.4,273 73.8,254" fill="#cac3b8" filter="url(#speckle)" stroke="#bdb5aa" stroke-width="1.5" stroke-linejoin="round"/>
<ellipse cx="100.1" cy="265.7" rx="2.0" ry="2.2" fill="#111419"/>
<ellipse cx="82.1" cy="278.3" rx="2.0" ry="2.2" fill="#111419"/>
<ellipse cx="95.9" cy="278.3" rx="2.0" ry="2.2" fill="#111419"/>
<ellipse cx="116.8" cy="275.2" rx="2.0" ry="2.2" fill="#111419"/>
<ellipse cx="78.7" cy="296.7" rx="2.0" ry="2.2" fill="#111419"/>
<ellipse cx="100.7" cy="302.6" rx="2.0" ry="2.2" fill="#111419"/>
<ellipse cx="113.6" cy="301.2" rx="2.0" ry="2.2" fill="#111419"/>
<ellipse cx="77" cy="331.2" rx="2.0" ry="2.2" fill="#111419"/>
<ellipse cx="95.4" cy="327.4" rx="2.0" ry="2.2" fill="#111419"/>
<ellipse cx="111.3" cy="333.7" rx="2.0" ry="2.2" fill="#111419"/>
<rect x="135.1" y="240.8" width="59.4" height="96.4" fill="#a48e7f"/>
<rect x="135.1" y="240.8" width="59.4" height="96.4" fill="#a48e7f" filter="url(#grain)" opacity="0.5"/>
<rect x="135.1" y="334.6" width="59.4" height="2.6" fill="#3a3c40"/>
<polygon points="142.5,252 144.5,247 148,244.2 152,243 185.5,243 187.8,245 188.2,260 187.8,290 189.8,297 191,310 190.8,330 189.5,333.8 144,333.8 142.2,331 141.5,300 142,270" fill="#cac3b8" filter="url(#speckle)" stroke="#bdb5aa" stroke-width="1.5" stroke-linejoin="round"/>
<ellipse cx="149.4" cy="273.5" rx="2.0" ry="2.2" fill="#111419"/>
<ellipse cx="159.5" cy="273.9" rx="2.0" ry="2.2" fill="#111419"/>
<ellipse cx="170.3" cy="275.4" rx="2.0" ry="2.2" fill="#111419"/>
<ellipse cx="181.1" cy="275.4" rx="2.0" ry="2.2" fill="#111419"/>
<ellipse cx="150.8" cy="283.4" rx="2.0" ry="2.2" fill="#111419"/>
<ellipse cx="161.4" cy="290.6" rx="2.0" ry="2.2" fill="#111419"/>
<ellipse cx="169.9" cy="291.2" rx="2.0" ry="2.2" fill="#111419"/>
<ellipse cx="175.4" cy="292.5" rx="2.0" ry="2.2" fill="#111419"/>
<ellipse cx="153.6" cy="293.1" rx="2.0" ry="2.2" fill="#111419"/>
<ellipse cx="158.4" cy="300.7" rx="2.0" ry="2.2" fill="#111419"/>
<ellipse cx="180.7" cy="299.1" rx="2.0" ry="2.2" fill="#111419"/>
<ellipse cx="163.3" cy="309" rx="2.0" ry="2.2" fill="#111419"/>
<ellipse cx="168.4" cy="312.4" rx="2.0" ry="2.2" fill="#111419"/>
<ellipse cx="183.8" cy="307.7" rx="2.0" ry="2.2" fill="#111419"/>
<ellipse cx="157" cy="318.5" rx="2.0" ry="2.2" fill="#111419"/>
<ellipse cx="176" cy="321.7" rx="2.0" ry="2.2" fill="#111419"/>
<ellipse cx="172.4" cy="325.7" rx="2.0" ry="2.2" fill="#111419"/>
<rect x="196.9" y="240.5" width="60.2" height="97" fill="#a48e7f"/>
<rect x="196.9" y="240.5" width="60.2" height="97" fill="#a48e7f" filter="url(#grain)" opacity="0.5"/>
<rect x="197.5" y="245" width="4" height="85" fill="#c8b8aa" opacity="0.6"/>
<rect x="198.7" y="334.6" width="58.4" height="2.9" fill="#3a3c40"/>
<polygon points="202.9,242.2 247,242.2 248.2,258.8 247,292.2 251.1,297 251.1,328 249.4,331.5 202.9,331.5 202.3,297 204.1,270.8" fill="#cac3b8" filter="url(#speckle)" stroke="#bdb5aa" stroke-width="1.5" stroke-linejoin="round"/>
<ellipse cx="210.7" cy="273.4" rx="2.0" ry="2.2" fill="#111419"/>
<ellipse cx="221.4" cy="272.7" rx="2.0" ry="2.2" fill="#111419"/>
<ellipse cx="230.3" cy="273.1" rx="2.0" ry="2.2" fill="#111419"/>
<ellipse cx="236.6" cy="272.2" rx="2.0" ry="2.2" fill="#111419"/>
<ellipse cx="239" cy="278.9" rx="2.0" ry="2.2" fill="#111419"/>
<ellipse cx="211.7" cy="284.8" rx="2.0" ry="2.2" fill="#111419"/>
<ellipse cx="221.5" cy="285.4" rx="2.0" ry="2.2" fill="#111419"/>
<ellipse cx="230.5" cy="285.1" rx="2.0" ry="2.2" fill="#111419"/>
<ellipse cx="239.6" cy="286.6" rx="2.0" ry="2.2" fill="#111419"/>
<ellipse cx="221" cy="297.9" rx="2.0" ry="2.2" fill="#111419"/>
<ellipse cx="230.9" cy="297.6" rx="2.0" ry="2.2" fill="#111419"/>
<ellipse cx="245.8" cy="302.3" rx="2.0" ry="2.2" fill="#111419"/>
<ellipse cx="212.8" cy="304.1" rx="2.0" ry="2.2" fill="#111419"/>
<ellipse cx="209.8" cy="310.3" rx="2.0" ry="2.2" fill="#111419"/>
<ellipse cx="221.1" cy="310.7" rx="2.0" ry="2.2" fill="#111419"/>
<ellipse cx="230.3" cy="311" rx="2.0" ry="2.2" fill="#111419"/>
<ellipse cx="244" cy="309.9" rx="2.0" ry="2.2" fill="#111419"/>
<ellipse cx="209.4" cy="323.6" rx="2.0" ry="2.2" fill="#111419"/>
<ellipse cx="236" cy="321.1" rx="2.0" ry="2.2" fill="#111419"/>
<ellipse cx="228.7" cy="328.6" rx="2.0" ry="2.2" fill="#111419"/>
<line x1="303.3" y1="215.78" x2="303.3" y2="338.23" stroke="#000" stroke-width="1.45"/>
<line x1="298.3" y1="337.5" x2="303.3" y2="337.5" stroke="#000" stroke-width="1.45"/>
<text x="296.8" y="340.76" font-size="9.6" style="font-weight:normal" text-anchor="end">0</text>
<line x1="298.3" y1="307.25" x2="303.3" y2="307.25" stroke="#000" stroke-width="1.45"/>
<text x="296.8" y="310.51" font-size="9.6" style="font-weight:normal" text-anchor="end">5</text>
<line x1="298.3" y1="277" x2="303.3" y2="277" stroke="#000" stroke-width="1.45"/>
<text x="296.8" y="280.26" font-size="9.6" style="font-weight:normal" text-anchor="end">10</text>
<line x1="298.3" y1="246.75" x2="303.3" y2="246.75" stroke="#000" stroke-width="1.45"/>
<text x="296.8" y="250.01" font-size="9.6" style="font-weight:normal" text-anchor="end">15</text>
<line x1="298.3" y1="216.5" x2="303.3" y2="216.5" stroke="#000" stroke-width="1.45"/>
<text x="296.8" y="219.76" font-size="9.6" style="font-weight:normal" text-anchor="end">20</text>
<line x1="302.57" y1="337.5" x2="499.4" y2="337.5" stroke="#000" stroke-width="1.45"/>
<line x1="332" y1="337.5" x2="332" y2="342" stroke="#000" stroke-width="1.45"/>
<line x1="399.5" y1="337.5" x2="399.5" y2="342" stroke="#000" stroke-width="1.45"/>
<line x1="467" y1="337.5" x2="467" y2="342" stroke="#000" stroke-width="1.45"/>
<text x="281.2" y="309.2" font-size="10" transform="rotate(-90 281.2 309.2)" style="font-weight:normal" textLength="64.4" lengthAdjust="spacingAndGlyphs">Marbles burried</text>
<rect x="309.15" y="254.66" width="11.4" height="82.84" fill="#d6d7d6" stroke="#000" stroke-width="1.3"/>
<rect x="327.05" y="282.49" width="11.5" height="55.01" fill="#6a9dd6" stroke="#000" stroke-width="1.3"/>
<rect x="344.75" y="313.34" width="11.2" height="24.15" fill="#bf8cc7" stroke="#000" stroke-width="1.3"/>
<rect x="376.35" y="283.7" width="11.5" height="53.8" fill="#d6d7d6" stroke="#000" stroke-width="1.3"/>
<rect x="394.35" y="292.17" width="11.3" height="45.33" fill="#6a9dd6" stroke="#000" stroke-width="1.3"/>
<rect x="412.05" y="316.37" width="11.8" height="21.13" fill="#bf8cc7" stroke="#000" stroke-width="1.3"/>
<rect x="443.45" y="309.11" width="11.9" height="28.39" fill="#d6d7d6" stroke="#000" stroke-width="1.3"/>
<rect x="461.05" y="328.47" width="12.2" height="9.03" fill="#6a9dd6" stroke="#000" stroke-width="1.3"/>
<rect x="479.35" y="335.73" width="12.2" height="1.77" fill="#bf8cc7" stroke="#000" stroke-width="1.3"/>
<line x1="314.7" y1="238" x2="314.7" y2="270.2" stroke="#000" stroke-width="1.0"/>
<line x1="311.2" y1="238" x2="318.2" y2="238" stroke="#000" stroke-width="1.0"/>
<line x1="311.2" y1="270.2" x2="318.2" y2="270.2" stroke="#000" stroke-width="1.0"/>
<line x1="332.6" y1="257.4" x2="332.6" y2="307.2" stroke="#000" stroke-width="1.0"/>
<line x1="329.1" y1="257.4" x2="336.1" y2="257.4" stroke="#000" stroke-width="1.0"/>
<line x1="329.1" y1="307.2" x2="336.1" y2="307.2" stroke="#000" stroke-width="1.0"/>
<line x1="350.3" y1="297.6" x2="350.3" y2="328.1" stroke="#000" stroke-width="1.0"/>
<line x1="346.8" y1="297.6" x2="353.8" y2="297.6" stroke="#000" stroke-width="1.0"/>
<line x1="346.8" y1="328.1" x2="353.8" y2="328.1" stroke="#000" stroke-width="1.0"/>
<line x1="382" y1="266" x2="382" y2="300.4" stroke="#000" stroke-width="1.0"/>
<line x1="378.5" y1="266" x2="385.5" y2="266" stroke="#000" stroke-width="1.0"/>
<line x1="378.5" y1="300.4" x2="385.5" y2="300.4" stroke="#000" stroke-width="1.0"/>
<line x1="400" y1="273.2" x2="400" y2="309.6" stroke="#000" stroke-width="1.0"/>
<line x1="396.5" y1="273.2" x2="403.5" y2="273.2" stroke="#000" stroke-width="1.0"/>
<line x1="396.5" y1="309.6" x2="403.5" y2="309.6" stroke="#000" stroke-width="1.0"/>
<line x1="418" y1="302.4" x2="418" y2="329.3" stroke="#000" stroke-width="1.0"/>
<line x1="414.5" y1="302.4" x2="421.5" y2="302.4" stroke="#000" stroke-width="1.0"/>
<line x1="414.5" y1="329.3" x2="421.5" y2="329.3" stroke="#000" stroke-width="1.0"/>
<line x1="449.4" y1="295.2" x2="449.4" y2="322.7" stroke="#000" stroke-width="1.0"/>
<line x1="445.9" y1="295.2" x2="452.9" y2="295.2" stroke="#000" stroke-width="1.0"/>
<line x1="445.9" y1="322.7" x2="452.9" y2="322.7" stroke="#000" stroke-width="1.0"/>
<line x1="467.2" y1="317.3" x2="467.2" y2="337.5" stroke="#000" stroke-width="1.0"/>
<line x1="463.7" y1="317.3" x2="470.7" y2="317.3" stroke="#000" stroke-width="1.0"/>
<line x1="463.7" y1="337.5" x2="470.7" y2="337.5" stroke="#000" stroke-width="1.0"/>
<line x1="485.4" y1="329.5" x2="485.4" y2="337.5" stroke="#000" stroke-width="1.0"/>
<line x1="481.9" y1="329.5" x2="488.9" y2="329.5" stroke="#000" stroke-width="1.0"/>
<line x1="481.9" y1="337.5" x2="488.9" y2="337.5" stroke="#000" stroke-width="1.0"/>
<circle cx="314.5" cy="235" r="1.4" fill="#000"/>
<circle cx="308.6" cy="240.4" r="1.4" fill="#000"/>
<circle cx="311.6" cy="240.4" r="1.4" fill="#000"/>
<circle cx="314.5" cy="240.4" r="1.4" fill="#000"/>
<circle cx="317.5" cy="240.4" r="1.4" fill="#000"/>
<circle cx="320.5" cy="240.4" r="1.4" fill="#000"/>
<circle cx="314.5" cy="246.9" r="1.4" fill="#000"/>
<circle cx="310.4" cy="252.9" r="1.4" fill="#000"/>
<circle cx="312.8" cy="252.9" r="1.4" fill="#000"/>
<circle cx="314.5" cy="252.9" r="1.4" fill="#000"/>
<circle cx="316.3" cy="252.9" r="1.4" fill="#000"/>
<circle cx="318.7" cy="252.9" r="1.4" fill="#000"/>
<circle cx="312.2" cy="258.9" r="1.4" fill="#000"/>
<circle cx="314.5" cy="258.9" r="1.4" fill="#000"/>
<circle cx="316.9" cy="258.9" r="1.4" fill="#000"/>
<circle cx="314.5" cy="264.8" r="1.4" fill="#000"/>
<circle cx="314.5" cy="283.3" r="1.4" fill="#000"/>
<circle cx="314.5" cy="289.3" r="1.4" fill="#000"/>
<circle cx="332.4" cy="246.7" r="1.4" fill="#000"/>
<circle cx="329.5" cy="252.9" r="1.4" fill="#000"/>
<circle cx="335.4" cy="252.9" r="1.4" fill="#000"/>
<circle cx="332.4" cy="264.8" r="1.4" fill="#000"/>
<circle cx="329.5" cy="270.8" r="1.4" fill="#000"/>
<circle cx="335.4" cy="270.8" r="1.4" fill="#000"/>
<circle cx="332.4" cy="277" r="1.4" fill="#000"/>
<circle cx="332.4" cy="283.3" r="1.4" fill="#000"/>
<circle cx="329.5" cy="289.3" r="1.4" fill="#000"/>
<circle cx="335.4" cy="289.3" r="1.4" fill="#000"/>
<circle cx="332.4" cy="301.2" r="1.4" fill="#000"/>
<circle cx="329.5" cy="307.2" r="1.4" fill="#000"/>
<circle cx="335.4" cy="307.2" r="1.4" fill="#000"/>
<circle cx="332.4" cy="331.6" r="1.4" fill="#000"/>
<circle cx="350.1" cy="283.3" r="1.4" fill="#000"/>
<circle cx="350.1" cy="289.3" r="1.4" fill="#000"/>
<circle cx="350.1" cy="301.2" r="1.4" fill="#000"/>
<circle cx="350.1" cy="307.2" r="1.4" fill="#000"/>
<circle cx="345.6" cy="313.1" r="1.4" fill="#000"/>
<circle cx="348" cy="313.1" r="1.4" fill="#000"/>
<circle cx="350.1" cy="313.1" r="1.4" fill="#000"/>
<circle cx="352.7" cy="313.1" r="1.4" fill="#000"/>
<circle cx="355.1" cy="313.1" r="1.4" fill="#000"/>
<circle cx="350.1" cy="319.7" r="1.4" fill="#000"/>
<circle cx="350.1" cy="325.7" r="1.4" fill="#000"/>
<circle cx="349.2" cy="337.4" r="1.4" fill="#000"/>
<circle cx="351.2" cy="337.4" r="1.4" fill="#000"/>
<circle cx="381.9" cy="246.7" r="1.4" fill="#000"/>
<circle cx="381.9" cy="264.8" r="1.4" fill="#000"/>
<circle cx="380.4" cy="270.8" r="1.4" fill="#000"/>
<circle cx="383.9" cy="270.8" r="1.4" fill="#000"/>
<circle cx="381.9" cy="277" r="1.4" fill="#000"/>
<circle cx="379.2" cy="283.3" r="1.4" fill="#000"/>
<circle cx="381.9" cy="283.3" r="1.4" fill="#000"/>
<circle cx="384.5" cy="283.3" r="1.4" fill="#000"/>
<circle cx="376.8" cy="289.3" r="1.4" fill="#000"/>
<circle cx="379.2" cy="289.3" r="1.4" fill="#000"/>
<circle cx="381.9" cy="289.3" r="1.4" fill="#000"/>
<circle cx="384.5" cy="289.3" r="1.4" fill="#000"/>
<circle cx="386.9" cy="289.3" r="1.4" fill="#000"/>
<circle cx="380.4" cy="295.2" r="1.4" fill="#000"/>
<circle cx="383.9" cy="295.2" r="1.4" fill="#000"/>
<circle cx="381.9" cy="319.7" r="1.4" fill="#000"/>
<circle cx="399.7" cy="264.8" r="1.4" fill="#000"/>
<circle cx="394.1" cy="277" r="1.4" fill="#000"/>
<circle cx="399.7" cy="277" r="1.4" fill="#000"/>
<circle cx="405.4" cy="277" r="1.4" fill="#000"/>
<circle cx="394.1" cy="283.3" r="1.4" fill="#000"/>
<circle cx="399.7" cy="283.3" r="1.4" fill="#000"/>
<circle cx="405.4" cy="283.3" r="1.4" fill="#000"/>
<circle cx="394.1" cy="289.3" r="1.4" fill="#000"/>
<circle cx="399.7" cy="289.3" r="1.4" fill="#000"/>
<circle cx="405.4" cy="289.3" r="1.4" fill="#000"/>
<circle cx="399.7" cy="307.2" r="1.4" fill="#000"/>
<circle cx="396.8" cy="313.5" r="1.4" fill="#000"/>
<circle cx="402.8" cy="313.5" r="1.4" fill="#000"/>
<circle cx="399.7" cy="331.6" r="1.4" fill="#000"/>
<circle cx="417.9" cy="289.3" r="1.4" fill="#000"/>
<circle cx="416.1" cy="301.2" r="1.4" fill="#000"/>
<circle cx="419.7" cy="301.2" r="1.4" fill="#000"/>
<circle cx="417.9" cy="307.2" r="1.4" fill="#000"/>
<circle cx="412.6" cy="313.5" r="1.4" fill="#000"/>
<circle cx="415.2" cy="313.5" r="1.4" fill="#000"/>
<circle cx="417.9" cy="313.5" r="1.4" fill="#000"/>
<circle cx="420.7" cy="313.5" r="1.4" fill="#000"/>
<circle cx="423.3" cy="313.5" r="1.4" fill="#000"/>
<circle cx="416.1" cy="319.5" r="1.4" fill="#000"/>
<circle cx="419.7" cy="319.5" r="1.4" fill="#000"/>
<circle cx="416.1" cy="325.7" r="1.4" fill="#000"/>
<circle cx="419.7" cy="325.7" r="1.4" fill="#000"/>
<circle cx="416.1" cy="337.4" r="1.4" fill="#000"/>
<circle cx="419.7" cy="337.4" r="1.4" fill="#000"/>
<circle cx="449.3" cy="283.3" r="1.4" fill="#000"/>
<circle cx="445.4" cy="295.2" r="1.4" fill="#000"/>
<circle cx="449.3" cy="295.2" r="1.4" fill="#000"/>
<circle cx="453.1" cy="295.2" r="1.4" fill="#000"/>
<circle cx="443.6" cy="307.2" r="1.4" fill="#000"/>
<circle cx="446.6" cy="307.2" r="1.4" fill="#000"/>
<circle cx="449.3" cy="307.2" r="1.4" fill="#000"/>
<circle cx="451.9" cy="307.2" r="1.4" fill="#000"/>
<circle cx="454.9" cy="307.2" r="1.4" fill="#000"/>
<circle cx="447.2" cy="313.5" r="1.4" fill="#000"/>
<circle cx="451.3" cy="313.5" r="1.4" fill="#000"/>
<circle cx="447.2" cy="319.5" r="1.4" fill="#000"/>
<circle cx="451.3" cy="319.5" r="1.4" fill="#000"/>
<circle cx="449.3" cy="325.7" r="1.4" fill="#000"/>
<circle cx="449.3" cy="331.6" r="1.4" fill="#000"/>
<circle cx="465.6" cy="307.2" r="1.4" fill="#000"/>
<circle cx="469.2" cy="307.2" r="1.4" fill="#000"/>
<circle cx="467.4" cy="313.5" r="1.4" fill="#000"/>
<circle cx="465.6" cy="325.7" r="1.4" fill="#000"/>
<circle cx="469.2" cy="325.7" r="1.4" fill="#000"/>
<circle cx="462.7" cy="330.4" r="1.4" fill="#000"/>
<circle cx="465.6" cy="330.4" r="1.4" fill="#000"/>
<circle cx="469.2" cy="330.4" r="1.4" fill="#000"/>
<circle cx="472.2" cy="330.4" r="1.4" fill="#000"/>
<circle cx="462.7" cy="334.6" r="1.4" fill="#000"/>
<circle cx="465.6" cy="334.6" r="1.4" fill="#000"/>
<circle cx="469.2" cy="334.6" r="1.4" fill="#000"/>
<circle cx="472.2" cy="334.6" r="1.4" fill="#000"/>
<circle cx="485.1" cy="319.5" r="1.4" fill="#000"/>
<circle cx="485.1" cy="325.7" r="1.4" fill="#000"/>
<circle cx="485.1" cy="331.6" r="1.4" fill="#000"/>
<circle cx="481" cy="336.3" r="1.4" fill="#000"/>
<circle cx="483.2" cy="336.3" r="1.4" fill="#000"/>
<circle cx="485.4" cy="336.3" r="1.4" fill="#000"/>
<circle cx="487.6" cy="336.3" r="1.4" fill="#000"/>
<circle cx="489.8" cy="336.3" r="1.4" fill="#000"/>
<line x1="308.9" y1="219.4" x2="360.2" y2="219.4" stroke="#000" stroke-width="1.5"/>
<text x="324.96" y="216.99" font-size="7.6" text-rendering="geometricPrecision" style="font-family:'DejaVu Sans', sans-serif">*</text>
<text x="331.96" y="216.99" font-size="7.6" text-rendering="geometricPrecision" style="font-family:'DejaVu Sans', sans-serif">*</text>
<text x="338.96" y="216.99" font-size="7.6" text-rendering="geometricPrecision" style="font-family:'DejaVu Sans', sans-serif">*</text>
<line x1="310.1" y1="230.8" x2="339.9" y2="230.8" stroke="#000" stroke-width="1.5"/>
<text x="318.66" y="227.79" font-size="7.6" text-rendering="geometricPrecision" style="font-family:'DejaVu Sans', sans-serif">*</text>
<text x="326.26" y="227.79" font-size="7.6" text-rendering="geometricPrecision" style="font-family:'DejaVu Sans', sans-serif">*</text>
<line x1="376.3" y1="242.8" x2="427.6" y2="242.8" stroke="#000" stroke-width="1.5"/>
<text x="395.56" y="240.09" font-size="7.6" text-rendering="geometricPrecision" style="font-family:'DejaVu Sans', sans-serif">*</text>
<text x="403.46" y="240.09" font-size="7.6" text-rendering="geometricPrecision" style="font-family:'DejaVu Sans', sans-serif">*</text>
<line x1="444" y1="266.8" x2="496" y2="266.8" stroke="#000" stroke-width="1.5"/>
<text x="460.31" y="263.79" font-size="7.6" text-rendering="geometricPrecision" style="font-family:'DejaVu Sans', sans-serif">*</text>
<text x="467.36" y="263.79" font-size="7.6" text-rendering="geometricPrecision" style="font-family:'DejaVu Sans', sans-serif">*</text>
<text x="474.41" y="263.79" font-size="7.6" text-rendering="geometricPrecision" style="font-family:'DejaVu Sans', sans-serif">*</text>
<line x1="444" y1="278.2" x2="474.3" y2="278.2" stroke="#000" stroke-width="1.5"/>
<text x="453.36" y="275.19" font-size="7.6" text-rendering="geometricPrecision" style="font-family:'DejaVu Sans', sans-serif">*</text>
<text x="460.36" y="275.19" font-size="7.6" text-rendering="geometricPrecision" style="font-family:'DejaVu Sans', sans-serif">*</text>
<text x="332.2" y="351.5" font-size="9.2" text-anchor="middle" textLength="19.6" lengthAdjust="spacingAndGlyphs">Total</text>
<text x="399.6" y="351.5" font-size="9.2" text-anchor="middle" textLength="28.6" lengthAdjust="spacingAndGlyphs">50-99%</text>
<text x="467.3" y="351.5" font-size="9.2" text-anchor="middle" textLength="21.6" lengthAdjust="spacingAndGlyphs">100%</text>
<rect x="443.45" y="200.25" width="12.8" height="4.5" fill="#d6d7d6" stroke="#000" stroke-width="1.3"/>
<text x="465.2" y="205.9" font-size="10" textLength="14.5" lengthAdjust="spacingAndGlyphs">WT</text>
<rect x="443.45" y="214.15" width="12.8" height="4.5" fill="#6a9dd6" stroke="#000" stroke-width="1.3"/>
<text x="465.2" y="219.8" font-size="10" textLength="31.3" lengthAdjust="spacingAndGlyphs">ATase1</text>
<rect x="443.45" y="228.25" width="12.8" height="4.5" fill="#bf8cc7" stroke="#000" stroke-width="1.3"/>
<text x="465.2" y="233.9" font-size="10" textLength="31.3" lengthAdjust="spacingAndGlyphs">ATase2</text>
<text x="76.2" y="380.6" font-size="16" textLength="11.36" lengthAdjust="spacingAndGlyphs">e</text>
<text x="139" y="376.5" font-size="10.9" textLength="71.9" lengthAdjust="spacingAndGlyphs">Grooming time</text>
<line x1="124.3" y1="387.88" x2="124.3" y2="518.33" stroke="#000" stroke-width="1.45"/>
<line x1="119.3" y1="517.6" x2="124.3" y2="517.6" stroke="#000" stroke-width="1.45"/>
<text x="119.3" y="520.73" font-size="9.2" text-anchor="end" textLength="4.37" lengthAdjust="spacingAndGlyphs">0</text>
<line x1="119.3" y1="474.6" x2="124.3" y2="474.6" stroke="#000" stroke-width="1.45"/>
<text x="119.3" y="477.73" font-size="9.2" text-anchor="end" textLength="4.37" lengthAdjust="spacingAndGlyphs">5</text>
<line x1="119.3" y1="431.6" x2="124.3" y2="431.6" stroke="#000" stroke-width="1.45"/>
<text x="119.3" y="434.73" font-size="9.2" text-anchor="end" textLength="8.74" lengthAdjust="spacingAndGlyphs">10</text>
<line x1="119.3" y1="388.6" x2="124.3" y2="388.6" stroke="#000" stroke-width="1.45"/>
<text x="119.3" y="391.73" font-size="9.2" text-anchor="end" textLength="8.74" lengthAdjust="spacingAndGlyphs">15</text>
<line x1="123.58" y1="517.6" x2="228.4" y2="517.6" stroke="#000" stroke-width="1.45"/>
<line x1="146.7" y1="517.6" x2="146.7" y2="522.6" stroke="#000" stroke-width="1.45"/>
<line x1="175.7" y1="517.6" x2="175.7" y2="522.6" stroke="#000" stroke-width="1.45"/>
<line x1="205.4" y1="517.6" x2="205.4" y2="522.6" stroke="#000" stroke-width="1.45"/>
<text x="104.8" y="501.5" font-size="9" transform="rotate(-90 104.8 501.5)" textLength="90" lengthAdjust="spacingAndGlyphs">% of time spent grooming</text>
<rect x="137.05" y="493.31" width="20.3" height="24.29" fill="#d6d7d6" stroke="#000" stroke-width="1.3"/>
<rect x="166.15" y="487.29" width="20.1" height="30.31" fill="#6a9dd6" stroke="#000" stroke-width="1.3"/>
<rect x="195.25" y="466.65" width="19.9" height="50.95" fill="#bf8cc7" stroke="#000" stroke-width="1.3"/>
<line x1="147" y1="482.9" x2="147" y2="502.3" stroke="#000" stroke-width="1.0"/>
<line x1="141.25" y1="482.9" x2="152.75" y2="482.9" stroke="#000" stroke-width="1.0"/>
<line x1="141.25" y1="502.3" x2="152.75" y2="502.3" stroke="#000" stroke-width="1.0"/>
<line x1="176.1" y1="479.5" x2="176.1" y2="494.2" stroke="#000" stroke-width="1.0"/>
<line x1="170.35" y1="479.5" x2="181.85" y2="479.5" stroke="#000" stroke-width="1.0"/>
<line x1="170.35" y1="494.2" x2="181.85" y2="494.2" stroke="#000" stroke-width="1.0"/>
<line x1="205" y1="444.4" x2="205" y2="487.6" stroke="#000" stroke-width="1.0"/>
<line x1="199.25" y1="444.4" x2="210.75" y2="444.4" stroke="#000" stroke-width="1.0"/>
<line x1="199.25" y1="487.6" x2="210.75" y2="487.6" stroke="#000" stroke-width="1.0"/>
<circle cx="147" cy="476.9" r="1.5" fill="#000"/>
<circle cx="147" cy="478.6" r="1.5" fill="#000"/>
<circle cx="147" cy="480.1" r="1.5" fill="#000"/>
<circle cx="147" cy="486.3" r="1.5" fill="#000"/>
<circle cx="144.2" cy="491.4" r="1.5" fill="#000"/>
<circle cx="147" cy="491.4" r="1.5" fill="#000"/>
<circle cx="149.3" cy="492.3" r="1.5" fill="#000"/>
<circle cx="147" cy="495.8" r="1.5" fill="#000"/>
<circle cx="147" cy="500" r="1.5" fill="#000"/>
<circle cx="147" cy="501.9" r="1.5" fill="#000"/>
<circle cx="147" cy="503.9" r="1.5" fill="#000"/>
<circle cx="147" cy="506.4" r="1.5" fill="#000"/>
<circle cx="176.1" cy="473" r="1.5" fill="#000"/>
<circle cx="176.1" cy="480.7" r="1.5" fill="#000"/>
<circle cx="176.1" cy="482.7" r="1.5" fill="#000"/>
<circle cx="176.1" cy="484.6" r="1.5" fill="#000"/>
<circle cx="173.8" cy="489.1" r="1.5" fill="#000"/>
<circle cx="178.4" cy="489.1" r="1.5" fill="#000"/>
<circle cx="173.8" cy="494.2" r="1.5" fill="#000"/>
<circle cx="176.1" cy="494.2" r="1.5" fill="#000"/>
<circle cx="178.4" cy="494.9" r="1.5" fill="#000"/>
<circle cx="174.5" cy="496.2" r="1.5" fill="#000"/>
<circle cx="205" cy="435.5" r="1.5" fill="#000"/>
<circle cx="202.4" cy="446.4" r="1.5" fill="#000"/>
<circle cx="207.8" cy="446.4" r="1.5" fill="#000"/>
<circle cx="205" cy="454.4" r="1.5" fill="#000"/>
<circle cx="205" cy="457.6" r="1.5" fill="#000"/>
<circle cx="205" cy="465.3" r="1.5" fill="#000"/>
<circle cx="205" cy="478.8" r="1.5" fill="#000"/>
<circle cx="205" cy="489.1" r="1.5" fill="#000"/>
<circle cx="205" cy="491" r="1.5" fill="#000"/>
<circle cx="205" cy="492.9" r="1.5" fill="#000"/>
<circle cx="205" cy="496.2" r="1.5" fill="#000"/>
<line x1="139.6" y1="413.5" x2="218.7" y2="413.5" stroke="#000" stroke-width="1.5"/>
<text x="173.84" y="412.97" font-size="11" text-rendering="geometricPrecision" style="font-family:'DejaVu Sans', sans-serif">*</text>
<text x="180.24" y="412.97" font-size="11" text-rendering="geometricPrecision" style="font-family:'DejaVu Sans', sans-serif">*</text>
<line x1="165.4" y1="428" x2="218.7" y2="428" stroke="#000" stroke-width="1.5"/>
<text x="186.34" y="428.17" font-size="11" text-rendering="geometricPrecision" style="font-family:'DejaVu Sans', sans-serif">*</text>
<text x="192.74" y="428.17" font-size="11" text-rendering="geometricPrecision" style="font-family:'DejaVu Sans', sans-serif">*</text>
<text x="0" y="0" font-size="8.6" transform="translate(149 527.5) scale(1.05 1) rotate(-45)" text-anchor="end">WT</text>
<text x="0" y="0" font-size="8.6" transform="translate(178 527.5) scale(1.05 1) rotate(-45)" text-anchor="end">ATase1</text>
<text x="0" y="0" font-size="8.6" transform="translate(208 527.5) scale(1.05 1) rotate(-45)" text-anchor="end">ATase2</text>
<text x="283.5" y="376.7" font-size="12.5" textLength="8.74" lengthAdjust="spacingAndGlyphs">f</text>
<text x="373.2" y="387.4" font-size="11.5" textLength="59.5" lengthAdjust="spacingAndGlyphs">Digging time</text>
<line x1="320" y1="401.97" x2="320" y2="516.43" stroke="#000" stroke-width="1.45"/>
<line x1="315.5" y1="515.7" x2="320" y2="515.7" stroke="#000" stroke-width="1.45"/>
<text x="315" y="518.56" font-size="8.4" text-anchor="end" textLength="3.99" lengthAdjust="spacingAndGlyphs">0</text>
<line x1="315.5" y1="478" x2="320" y2="478" stroke="#000" stroke-width="1.45"/>
<text x="315" y="480.86" font-size="8.4" text-anchor="end" textLength="7.98" lengthAdjust="spacingAndGlyphs">10</text>
<line x1="315.5" y1="440.3" x2="320" y2="440.3" stroke="#000" stroke-width="1.45"/>
<text x="315" y="443.16" font-size="8.4" text-anchor="end" textLength="7.98" lengthAdjust="spacingAndGlyphs">20</text>
<line x1="315.5" y1="402.6" x2="320" y2="402.6" stroke="#000" stroke-width="1.45"/>
<text x="315" y="405.46" font-size="8.4" text-anchor="end" textLength="7.98" lengthAdjust="spacingAndGlyphs">30</text>
<line x1="319.27" y1="515.7" x2="483.5" y2="515.7" stroke="#000" stroke-width="1.45"/>
<line x1="359.6" y1="515.7" x2="359.6" y2="520.2" stroke="#000" stroke-width="1.45"/>
<line x1="443.6" y1="515.7" x2="443.6" y2="520.2" stroke="#000" stroke-width="1.45"/>
<text x="304" y="501.2" font-size="8.6" transform="rotate(-90 304 501.2)" textLength="84" lengthAdjust="spacingAndGlyphs">% of time spent digging</text>
<rect x="329.95" y="471.86" width="15.3" height="43.84" fill="#d6d7d6" stroke="#000" stroke-width="1.3"/>
<rect x="351.95" y="453.39" width="15.2" height="62.31" fill="#6a9dd6" stroke="#000" stroke-width="1.3"/>
<rect x="374.25" y="500.52" width="15.3" height="15.18" fill="#bf8cc7" stroke="#000" stroke-width="1.3"/>
<rect x="413.55" y="440.2" width="15.6" height="75.5" fill="#d6d7d6" stroke="#000" stroke-width="1.3"/>
<rect x="436.15" y="485.06" width="15" height="30.64" fill="#6a9dd6" stroke="#000" stroke-width="1.3"/>
<rect x="458.15" y="464.7" width="15.2" height="51" fill="#bf8cc7" stroke="#000" stroke-width="1.3"/>
<line x1="337.5" y1="460.1" x2="337.5" y2="481.6" stroke="#000" stroke-width="0.9"/>
<line x1="333.25" y1="460.1" x2="341.75" y2="460.1" stroke="#000" stroke-width="0.9"/>
<line x1="333.25" y1="481.6" x2="341.75" y2="481.6" stroke="#000" stroke-width="0.9"/>
<line x1="359.6" y1="435.9" x2="359.6" y2="468.7" stroke="#000" stroke-width="0.9"/>
<line x1="355.35" y1="435.9" x2="363.85" y2="435.9" stroke="#000" stroke-width="0.9"/>
<line x1="355.35" y1="468.7" x2="363.85" y2="468.7" stroke="#000" stroke-width="0.9"/>
<line x1="382" y1="485" x2="382" y2="515.7" stroke="#000" stroke-width="0.9"/>
<line x1="377.75" y1="485" x2="386.25" y2="485" stroke="#000" stroke-width="0.9"/>
<line x1="377.75" y1="515.7" x2="386.25" y2="515.7" stroke="#000" stroke-width="0.9"/>
<line x1="421.3" y1="420.3" x2="421.3" y2="457.4" stroke="#000" stroke-width="0.9"/>
<line x1="417.05" y1="420.3" x2="425.55" y2="420.3" stroke="#000" stroke-width="0.9"/>
<line x1="417.05" y1="457.4" x2="425.55" y2="457.4" stroke="#000" stroke-width="0.9"/>
<line x1="443.6" y1="454" x2="443.6" y2="515.7" stroke="#000" stroke-width="0.9"/>
<line x1="439.35" y1="454" x2="447.85" y2="454" stroke="#000" stroke-width="0.9"/>
<line x1="439.35" y1="515.7" x2="447.85" y2="515.7" stroke="#000" stroke-width="0.9"/>
<line x1="465.8" y1="450.3" x2="465.8" y2="477" stroke="#000" stroke-width="0.9"/>
<line x1="461.55" y1="450.3" x2="470.05" y2="450.3" stroke="#000" stroke-width="0.9"/>
<line x1="461.55" y1="477" x2="470.05" y2="477" stroke="#000" stroke-width="0.9"/>
<circle cx="337.4" cy="458.9" r="1.2" fill="#000"/>
<circle cx="337.4" cy="464.6" r="1.2" fill="#000"/>
<circle cx="337.4" cy="468" r="1.2" fill="#000"/>
<circle cx="334.5" cy="481.6" r="1.2" fill="#000"/>
<circle cx="337.4" cy="481.6" r="1.2" fill="#000"/>
<circle cx="340.4" cy="481.6" r="1.2" fill="#000"/>
<circle cx="359.6" cy="430" r="1.2" fill="#000"/>
<circle cx="359.6" cy="440.8" r="1.2" fill="#000"/>
<circle cx="359.6" cy="456.7" r="1.2" fill="#000"/>
<circle cx="357.4" cy="467.5" r="1.2" fill="#000"/>
<circle cx="361.8" cy="466.9" r="1.2" fill="#000"/>
<circle cx="382" cy="482.7" r="1.2" fill="#000"/>
<circle cx="382" cy="490.6" r="1.2" fill="#000"/>
<circle cx="382" cy="495.2" r="1.2" fill="#000"/>
<circle cx="379.3" cy="514.4" r="1.2" fill="#000"/>
<circle cx="384.3" cy="514.4" r="1.2" fill="#000"/>
<circle cx="421.2" cy="426.1" r="1.2" fill="#000"/>
<circle cx="421.2" cy="429.5" r="1.2" fill="#000"/>
<circle cx="421.2" cy="432.9" r="1.2" fill="#000"/>
<circle cx="421.2" cy="436.3" r="1.2" fill="#000"/>
<circle cx="421.2" cy="471.8" r="1.2" fill="#000"/>
<circle cx="443.4" cy="436.3" r="1.2" fill="#000"/>
<circle cx="443.4" cy="473.7" r="1.2" fill="#000"/>
<circle cx="443.4" cy="495.2" r="1.2" fill="#000"/>
<circle cx="443.4" cy="504.2" r="1.2" fill="#000"/>
<circle cx="443.4" cy="511" r="1.2" fill="#000"/>
<circle cx="443.4" cy="514.4" r="1.2" fill="#000"/>
<circle cx="465.8" cy="454.4" r="1.2" fill="#000"/>
<circle cx="465.8" cy="464.6" r="1.2" fill="#000"/>
<circle cx="465.8" cy="472.5" r="1.2" fill="#000"/>
<circle cx="465.8" cy="483.4" r="1.2" fill="#000"/>
<line x1="359.5" y1="409.3" x2="381.7" y2="409.3" stroke="#000" stroke-width="1.5"/>
<text x="364.89" y="407.97" font-size="11" text-rendering="geometricPrecision" style="font-family:'DejaVu Sans', sans-serif">*</text>
<text x="371.6" y="407.97" font-size="11" text-rendering="geometricPrecision" style="font-family:'DejaVu Sans', sans-serif">*</text>
<line x1="421.3" y1="409" x2="444" y2="409" stroke="#000" stroke-width="1.5"/>
<text x="426.49" y="407.97" font-size="11" text-rendering="geometricPrecision" style="font-family:'DejaVu Sans', sans-serif">*</text>
<text x="433.19" y="407.97" font-size="11" text-rendering="geometricPrecision" style="font-family:'DejaVu Sans', sans-serif">*</text>
<text x="359.8" y="527.6" font-size="8" text-anchor="middle" textLength="16.3" lengthAdjust="spacingAndGlyphs">Male</text>
<text x="443.7" y="527.6" font-size="8" text-anchor="middle" textLength="23.7" lengthAdjust="spacingAndGlyphs">Female</text>
<rect x="464.6" y="391.6" width="9.4" height="3.6" fill="#d6d7d6" stroke="#000" stroke-width="1.2"/>
<text x="481.2" y="396" font-size="8.2" textLength="11.5" lengthAdjust="spacingAndGlyphs">WT</text>
<rect x="464.6" y="404.7" width="9.4" height="3.6" fill="#6a9dd6" stroke="#000" stroke-width="1.2"/>
<text x="481.2" y="409.1" font-size="8.2" textLength="24.5" lengthAdjust="spacingAndGlyphs">ATase1</text>
<rect x="464.6" y="417.2" width="9.4" height="3.6" fill="#bf8cc7" stroke="#000" stroke-width="1.2"/>
<text x="481.2" y="421.6" font-size="8.2" textLength="24.5" lengthAdjust="spacingAndGlyphs">ATase2</text>
<text x="53.2" y="549.1" font-size="14.5" textLength="8.7" lengthAdjust="spacingAndGlyphs">g</text>
<text x="97.9" y="554.5" font-size="12" textLength="109.5" lengthAdjust="spacingAndGlyphs">Long-term potentiation</text>
<line x1="84.6" y1="569.38" x2="84.6" y2="684.83" stroke="#000" stroke-width="1.45"/>
<line x1="79.6" y1="684.1" x2="84.6" y2="684.1" stroke="#000" stroke-width="1.45"/>
<text x="79" y="687.36" font-size="9.6" text-anchor="end" textLength="4.56" lengthAdjust="spacingAndGlyphs">0</text>
<line x1="79.6" y1="646" x2="84.6" y2="646" stroke="#000" stroke-width="1.45"/>
<text x="79" y="649.26" font-size="9.6" text-anchor="end" textLength="13.68" lengthAdjust="spacingAndGlyphs">100</text>
<line x1="79.6" y1="607.9" x2="84.6" y2="607.9" stroke="#000" stroke-width="1.45"/>
<text x="79" y="611.16" font-size="9.6" text-anchor="end" textLength="13.68" lengthAdjust="spacingAndGlyphs">200</text>
<line x1="79.6" y1="569.8" x2="84.6" y2="569.8" stroke="#000" stroke-width="1.45"/>
<text x="79" y="573.06" font-size="9.6" text-anchor="end" textLength="13.68" lengthAdjust="spacingAndGlyphs">300</text>
<line x1="81.6" y1="665.05" x2="84.6" y2="665.05" stroke="#000" stroke-width="1.45"/>
<line x1="81.6" y1="626.95" x2="84.6" y2="626.95" stroke="#000" stroke-width="1.45"/>
<line x1="81.6" y1="588.85" x2="84.6" y2="588.85" stroke="#000" stroke-width="1.45"/>
<line x1="83.95" y1="684.1" x2="258.6" y2="684.1" stroke="#000" stroke-width="1.3"/>
<line x1="104.9" y1="684.1" x2="104.9" y2="689.5" stroke="#000" stroke-width="1.3"/>
<text x="104.9" y="698.9" font-size="9.7" text-anchor="middle" textLength="5.09" lengthAdjust="spacingAndGlyphs">0</text>
<line x1="156" y1="684.1" x2="156" y2="689.5" stroke="#000" stroke-width="1.3"/>
<text x="156" y="698.9" font-size="9.7" text-anchor="middle" textLength="10.19" lengthAdjust="spacingAndGlyphs">50</text>
<line x1="207.1" y1="684.1" x2="207.1" y2="689.5" stroke="#000" stroke-width="1.3"/>
<text x="207.1" y="698.9" font-size="9.7" text-anchor="middle" textLength="15.28" lengthAdjust="spacingAndGlyphs">100</text>
<line x1="258.2" y1="684.1" x2="258.2" y2="689.5" stroke="#000" stroke-width="1.3"/>
<text x="258.2" y="698.9" font-size="9.7" text-anchor="middle" textLength="15.28" lengthAdjust="spacingAndGlyphs">150</text>
<line x1="130.45" y1="684.1" x2="130.45" y2="687.5" stroke="#000" stroke-width="1.2"/>
<line x1="181.55" y1="684.1" x2="181.55" y2="687.5" stroke="#000" stroke-width="1.2"/>
<line x1="232.65" y1="684.1" x2="232.65" y2="687.5" stroke="#000" stroke-width="1.2"/>
<text x="147.9" y="712.8" font-size="10.4" textLength="47.6" lengthAdjust="spacingAndGlyphs">Time (min)</text>
<text x="59.6" y="683.5" font-size="10.2" transform="rotate(-90 59.6 683.5)" textLength="112.5" lengthAdjust="spacingAndGlyphs">Change in fEPSP slope (%)</text>
<polyline points="84.46,647.08 84.97,646.25 85.48,646.71 85.99,646.08 86.5,646.01 87.02,647.49 87.53,647.62 88.04,645.41 88.55,646.95 89.06,647 89.57,644.96 90.08,646.36 90.59,645.37 91.1,646.32 91.61,645.88 92.12,647.17 92.64,645.87 93.15,645.24 93.66,646.15 94.17,645.56 94.68,645.73 95.19,647.34 95.7,645.48 96.21,645.92 96.72,646.68 97.23,647.39 97.75,645.16 98.26,646.2 98.77,645.53 99.28,645.09 99.79,645.52 100.3,644.96 100.81,646.36 101.32,645.26 101.83,646.2 102.34,644.89 102.86,645.03 103.37,647.1 103.88,646.99 104.39,646.76" fill="none" stroke="#111" stroke-width="2.4" stroke-linejoin="round"/>
<polyline points="84.46,645.43 85.48,645.23 86.5,645.13 87.53,644.89 88.55,645.18 89.57,644.88 90.59,646.22 91.61,645.54 92.64,644.79 93.66,645.22 94.68,644.82 95.7,646 96.72,645.44 97.75,645.76 98.77,645.29 99.79,645.22 100.81,646.06 101.83,645.73 102.86,645.61 103.88,644.62" fill="none" stroke="#7a4fb0" stroke-width="0.7" stroke-linejoin="round"/>
<polygon points="104.9,585.27 105.41,589.57 105.92,593.67 106.43,595.54 106.94,597.04 107.46,598.5 107.97,600.33 108.48,600.27 108.99,600.37 109.5,600.44 110.01,601.16 110.52,601.19 111.03,601.54 111.54,601.04 112.05,601.18 112.57,601.72 113.08,601.06 113.59,601.12 114.1,601.4 114.61,601.48 115.12,601.87 115.63,602.06 116.14,601.74 116.65,602.18 117.16,602.15 117.68,602.19 118.19,602.43 118.7,602.17 119.21,602.27 119.72,602.04 120.23,602.36 120.74,602.44 121.25,602.71 121.76,602.76 122.27,603.09 122.79,603.39 123.3,603.01 123.81,603.18 124.32,603.47 124.83,603.74 125.34,604.21 125.85,604.44 126.36,604.57 126.87,604.9 127.38,604.54 127.9,604.99 128.41,604.82 128.92,605.34 129.43,605.07 129.94,605.29 130.45,606.07 130.96,606.04 131.47,605.63 131.98,606.1 132.49,605.84 133,606.42 133.52,606.8 134.03,606.5 134.54,606.52 135.05,607.04 135.56,607.31 136.07,607.25 136.58,606.9 137.09,607.19 137.6,607.81 138.12,607.89 138.63,608.18 139.14,608.4 139.65,608.02 140.16,608.67 140.67,608.56 141.18,608.83 141.69,609.2 142.2,608.97 142.71,609.61 143.23,609.4 143.74,609.98 144.25,609.93 144.76,610.27 145.27,610.41 145.78,610.06 146.29,610.36 146.8,610.93 147.31,610.66 147.82,611.36 148.34,611.36 148.85,611.15 149.36,611.46 149.87,612.01 150.38,611.48 150.89,612.21 151.4,612.32 151.91,612.07 152.42,612.55 152.93,612.72 153.44,613.04 153.96,613.17 154.47,612.93 154.98,613.33 155.49,613.2 156,613.52 156.51,613.54 157.02,613.23 157.53,613.67 158.04,613.67 158.56,613.53 159.07,614.12 159.58,614.22 160.09,613.72 160.6,613.87 161.11,614.38 161.62,614.5 162.13,614.16 162.64,614.08 163.15,614.72 163.67,614.22 164.18,614.35 164.69,614.64 165.2,614.86 165.71,615.17 166.22,615.3 166.73,614.63 167.24,615.22 167.75,614.91 168.26,615.29 168.78,614.89 169.29,615.1 169.8,615.37 170.31,615.5 170.82,615.12 171.33,615.66 171.84,615.57 172.35,615.36 172.86,615.18 173.37,615.39 173.88,615.69 174.4,615.24 174.91,615.82 175.42,616 175.93,615.85 176.44,615.75 176.95,616.05 177.46,615.96 177.97,615.81 178.48,615.66 179,615.99 179.51,615.82 180.02,615.41 180.53,615.34 181.04,615.59 181.55,615.56 182.06,615.65 182.57,615.98 183.08,616.06 183.59,616.08 184.11,615.4 184.62,615.56 185.13,615.36 185.64,616.08 186.15,615.61 186.66,615.72 187.17,615.52 187.68,615.81 188.19,615.27 188.7,615.96 189.22,615.58 189.73,615.42 190.24,615.27 190.75,615.38 191.26,615.38 191.77,615.3 192.28,615.18 192.79,615.59 193.3,615.32 193.81,615.14 194.32,615.14 194.84,615.47 195.35,615.17 195.86,615.09 196.37,615.29 196.88,615.23 197.39,615.42 197.9,615.27 198.41,615.25 198.92,615.65 199.44,615.22 199.95,614.95 200.46,615.04 200.97,615.16 201.48,615.41 201.99,615.15 202.5,615.27 203.01,615.37 203.52,615.07 204.03,615.65 204.55,615.14 205.06,615.69 205.57,615.25 206.08,615.34 206.59,615.54 207.1,615.18 207.61,615.26 208.12,615.09 208.63,614.78 209.14,615.21 209.66,615.32 210.17,615.02 210.68,614.66 211.19,614.95 211.7,614.9 212.21,614.26 212.72,614.37 213.23,614.46 213.74,614.04 214.25,614.39 214.77,614.06 215.28,614.34 215.79,614.09 216.3,613.72 216.81,613.57 217.32,613.52 217.83,613.87 218.34,613.7 218.85,613.89 219.36,614.01 219.88,613.71 220.39,613.43 220.9,613.41 221.41,613.49 221.92,613.29 222.43,613.79 222.94,613.85 223.45,613.61 223.96,613.73 224.47,613.76 224.99,613.59 225.5,613.4 226.01,613.49 226.52,613.6 227.03,613.19 227.54,613.06 227.54,624.11 227.03,624.23 226.52,624.65 226.01,624.54 225.5,624.45 224.99,624.63 224.47,624.81 223.96,624.78 223.45,624.66 222.94,624.9 222.43,624.83 221.92,624.34 221.41,624.54 220.9,624.46 220.39,624.48 219.88,624.76 219.36,625.06 218.85,624.94 218.34,624.75 217.83,624.92 217.32,624.56 216.81,624.62 216.3,624.77 215.79,625.14 215.28,625.39 214.77,625.11 214.25,625.44 213.74,625.09 213.23,625.51 212.72,625.42 212.21,625.31 211.7,625.94 211.19,626 210.68,625.71 210.17,626.07 209.66,626.37 209.14,626.26 208.63,625.83 208.12,626.14 207.61,626.3 207.1,626.23 206.59,626.58 206.08,626.39 205.57,626.3 205.06,626.74 204.55,626.19 204.03,626.7 203.52,626.12 203.01,626.42 202.5,626.32 201.99,626.2 201.48,626.46 200.97,626.2 200.46,626.09 199.95,626 199.44,626.27 198.92,626.7 198.41,626.3 197.9,626.32 197.39,626.47 196.88,626.28 196.37,626.34 195.86,626.14 195.35,626.21 194.84,626.52 194.32,626.19 193.81,626.19 193.3,626.37 192.79,626.64 192.28,626.23 191.77,626.35 191.26,626.43 190.75,626.43 190.24,626.32 189.73,626.46 189.22,626.63 188.7,627.01 188.19,626.32 187.68,626.86 187.17,626.56 186.66,626.77 186.15,626.66 185.64,627.12 185.13,626.41 184.62,626.61 184.11,626.45 183.59,627.13 183.08,627.11 182.57,627.03 182.06,626.7 181.55,626.61 181.04,626.64 180.53,626.39 180.02,626.46 179.51,626.86 179,627.04 178.48,626.7 177.97,626.86 177.46,627.01 176.95,627.09 176.44,626.8 175.93,626.9 175.42,627.05 174.91,626.87 174.4,626.29 173.88,626.74 173.37,626.44 172.86,626.22 172.35,626.41 171.84,626.62 171.33,626.71 170.82,626.17 170.31,626.55 169.8,626.42 169.29,626.15 168.78,625.94 168.26,626.34 167.75,625.96 167.24,626.27 166.73,625.68 166.22,626.35 165.71,626.22 165.2,625.9 164.69,625.69 164.18,625.4 163.67,625.27 163.15,625.77 162.64,625.13 162.13,625.21 161.62,625.55 161.11,625.43 160.6,624.92 160.09,624.77 159.58,625.27 159.07,625.17 158.56,624.58 158.04,624.72 157.53,624.71 157.02,624.28 156.51,624.59 156,624.57 155.49,624.25 154.98,624.38 154.47,623.98 153.96,624.21 153.44,624.08 152.93,623.77 152.42,623.6 151.91,623.12 151.4,623.37 150.89,623.26 150.38,622.53 149.87,623.06 149.36,622.51 148.85,622.2 148.34,622.41 147.82,622.41 147.31,621.71 146.8,621.97 146.29,621.41 145.78,621.1 145.27,621.46 144.76,621.32 144.25,620.98 143.74,621.03 143.23,620.45 142.71,620.66 142.2,620.02 141.69,620.25 141.18,619.87 140.67,619.61 140.16,619.72 139.65,619.07 139.14,619.45 138.63,619.23 138.12,618.94 137.6,618.86 137.09,618.24 136.58,617.95 136.07,618.3 135.56,618.36 135.05,618.09 134.54,617.57 134.03,617.55 133.52,617.85 133,617.47 132.49,616.89 131.98,617.15 131.47,616.68 130.96,617.09 130.45,617.12 129.94,616.34 129.43,616.12 128.92,616.39 128.41,615.87 127.9,616.04 127.38,615.59 126.87,615.95 126.36,615.62 125.85,615.49 125.34,615.26 124.83,614.79 124.32,614.52 123.81,614.23 123.3,614.06 122.79,614.44 122.27,614.13 121.76,613.81 121.25,613.76 120.74,613.49 120.23,613.41 119.72,613.09 119.21,613.32 118.7,613.22 118.19,613.48 117.68,613.24 117.16,613.2 116.65,613.23 116.14,612.79 115.63,613.11 115.12,612.92 114.61,612.53 114.1,612.45 113.59,612.17 113.08,612.1 112.57,612.77 112.05,612.23 111.54,612.09 111.03,612.59 110.52,612.24 110.01,612.21 109.5,611.49 108.99,611.42 108.48,611.32 107.97,611.38 107.46,609.55 106.94,608.08 106.43,606.59 105.92,604.72 105.41,600.62 104.9,596.32" fill="#c6c6c6" opacity="0.9"/>
<polyline points="104.9,585.27 105.41,589.57 105.92,593.67 106.43,595.54 106.94,597.04 107.46,598.5 107.97,600.33 108.48,600.27 108.99,600.37 109.5,600.44 110.01,601.16 110.52,601.19 111.03,601.54 111.54,601.04 112.05,601.18 112.57,601.72 113.08,601.06 113.59,601.12 114.1,601.4 114.61,601.48 115.12,601.87 115.63,602.06 116.14,601.74 116.65,602.18 117.16,602.15 117.68,602.19 118.19,602.43 118.7,602.17 119.21,602.27 119.72,602.04 120.23,602.36 120.74,602.44 121.25,602.71 121.76,602.76 122.27,603.09 122.79,603.39 123.3,603.01 123.81,603.18 124.32,603.47 124.83,603.74 125.34,604.21 125.85,604.44 126.36,604.57 126.87,604.9 127.38,604.54 127.9,604.99 128.41,604.82 128.92,605.34 129.43,605.07 129.94,605.29 130.45,606.07 130.96,606.04 131.47,605.63 131.98,606.1 132.49,605.84 133,606.42 133.52,606.8 134.03,606.5 134.54,606.52 135.05,607.04 135.56,607.31 136.07,607.25 136.58,606.9 137.09,607.19 137.6,607.81 138.12,607.89 138.63,608.18 139.14,608.4 139.65,608.02 140.16,608.67 140.67,608.56 141.18,608.83 141.69,609.2 142.2,608.97 142.71,609.61 143.23,609.4 143.74,609.98 144.25,609.93 144.76,610.27 145.27,610.41 145.78,610.06 146.29,610.36 146.8,610.93 147.31,610.66 147.82,611.36 148.34,611.36 148.85,611.15 149.36,611.46 149.87,612.01 150.38,611.48 150.89,612.21 151.4,612.32 151.91,612.07 152.42,612.55 152.93,612.72 153.44,613.04 153.96,613.17 154.47,612.93 154.98,613.33 155.49,613.2 156,613.52 156.51,613.54 157.02,613.23 157.53,613.67 158.04,613.67 158.56,613.53 159.07,614.12 159.58,614.22 160.09,613.72 160.6,613.87 161.11,614.38 161.62,614.5 162.13,614.16 162.64,614.08 163.15,614.72 163.67,614.22 164.18,614.35 164.69,614.64 165.2,614.86 165.71,615.17 166.22,615.3 166.73,614.63 167.24,615.22 167.75,614.91 168.26,615.29 168.78,614.89 169.29,615.1 169.8,615.37 170.31,615.5 170.82,615.12 171.33,615.66 171.84,615.57 172.35,615.36 172.86,615.18 173.37,615.39 173.88,615.69 174.4,615.24 174.91,615.82 175.42,616 175.93,615.85 176.44,615.75 176.95,616.05 177.46,615.96 177.97,615.81 178.48,615.66 179,615.99 179.51,615.82 180.02,615.41 180.53,615.34 181.04,615.59 181.55,615.56 182.06,615.65 182.57,615.98 183.08,616.06 183.59,616.08 184.11,615.4 184.62,615.56 185.13,615.36 185.64,616.08 186.15,615.61 186.66,615.72 187.17,615.52 187.68,615.81 188.19,615.27 188.7,615.96 189.22,615.58 189.73,615.42 190.24,615.27 190.75,615.38 191.26,615.38 191.77,615.3 192.28,615.18 192.79,615.59 193.3,615.32 193.81,615.14 194.32,615.14 194.84,615.47 195.35,615.17 195.86,615.09 196.37,615.29 196.88,615.23 197.39,615.42 197.9,615.27 198.41,615.25 198.92,615.65 199.44,615.22 199.95,614.95 200.46,615.04 200.97,615.16 201.48,615.41 201.99,615.15 202.5,615.27 203.01,615.37 203.52,615.07 204.03,615.65 204.55,615.14 205.06,615.69 205.57,615.25 206.08,615.34 206.59,615.54 207.1,615.18 207.61,615.26 208.12,615.09 208.63,614.78 209.14,615.21 209.66,615.32 210.17,615.02 210.68,614.66 211.19,614.95 211.7,614.9 212.21,614.26 212.72,614.37 213.23,614.46 213.74,614.04 214.25,614.39 214.77,614.06 215.28,614.34 215.79,614.09 216.3,613.72 216.81,613.57 217.32,613.52 217.83,613.87 218.34,613.7 218.85,613.89 219.36,614.01 219.88,613.71 220.39,613.43 220.9,613.41 221.41,613.49 221.92,613.29 222.43,613.79 222.94,613.85 223.45,613.61 223.96,613.73 224.47,613.76 224.99,613.59 225.5,613.4 226.01,613.49 226.52,613.6 227.03,613.19 227.54,613.06" fill="none" stroke="#8a8a8a" stroke-width="0.7" stroke-linejoin="round" opacity="0.8"/>
<polyline points="104.9,596.32 105.41,600.62 105.92,604.72 106.43,606.59 106.94,608.08 107.46,609.55 107.97,611.38 108.48,611.32 108.99,611.42 109.5,611.49 110.01,612.21 110.52,612.24 111.03,612.59 111.54,612.09 112.05,612.23 112.57,612.77 113.08,612.1 113.59,612.17 114.1,612.45 114.61,612.53 115.12,612.92 115.63,613.11 116.14,612.79 116.65,613.23 117.16,613.2 117.68,613.24 118.19,613.48 118.7,613.22 119.21,613.32 119.72,613.09 120.23,613.41 120.74,613.49 121.25,613.76 121.76,613.81 122.27,614.13 122.79,614.44 123.3,614.06 123.81,614.23 124.32,614.52 124.83,614.79 125.34,615.26 125.85,615.49 126.36,615.62 126.87,615.95 127.38,615.59 127.9,616.04 128.41,615.87 128.92,616.39 129.43,616.12 129.94,616.34 130.45,617.12 130.96,617.09 131.47,616.68 131.98,617.15 132.49,616.89 133,617.47 133.52,617.85 134.03,617.55 134.54,617.57 135.05,618.09 135.56,618.36 136.07,618.3 136.58,617.95 137.09,618.24 137.6,618.86 138.12,618.94 138.63,619.23 139.14,619.45 139.65,619.07 140.16,619.72 140.67,619.61 141.18,619.87 141.69,620.25 142.2,620.02 142.71,620.66 143.23,620.45 143.74,621.03 144.25,620.98 144.76,621.32 145.27,621.46 145.78,621.1 146.29,621.41 146.8,621.97 147.31,621.71 147.82,622.41 148.34,622.41 148.85,622.2 149.36,622.51 149.87,623.06 150.38,622.53 150.89,623.26 151.4,623.37 151.91,623.12 152.42,623.6 152.93,623.77 153.44,624.08 153.96,624.21 154.47,623.98 154.98,624.38 155.49,624.25 156,624.57 156.51,624.59 157.02,624.28 157.53,624.71 158.04,624.72 158.56,624.58 159.07,625.17 159.58,625.27 160.09,624.77 160.6,624.92 161.11,625.43 161.62,625.55 162.13,625.21 162.64,625.13 163.15,625.77 163.67,625.27 164.18,625.4 164.69,625.69 165.2,625.9 165.71,626.22 166.22,626.35 166.73,625.68 167.24,626.27 167.75,625.96 168.26,626.34 168.78,625.94 169.29,626.15 169.8,626.42 170.31,626.55 170.82,626.17 171.33,626.71 171.84,626.62 172.35,626.41 172.86,626.22 173.37,626.44 173.88,626.74 174.4,626.29 174.91,626.87 175.42,627.05 175.93,626.9 176.44,626.8 176.95,627.09 177.46,627.01 177.97,626.86 178.48,626.7 179,627.04 179.51,626.86 180.02,626.46 180.53,626.39 181.04,626.64 181.55,626.61 182.06,626.7 182.57,627.03 183.08,627.11 183.59,627.13 184.11,626.45 184.62,626.61 185.13,626.41 185.64,627.12 186.15,626.66 186.66,626.77 187.17,626.56 187.68,626.86 188.19,626.32 188.7,627.01 189.22,626.63 189.73,626.46 190.24,626.32 190.75,626.43 191.26,626.43 191.77,626.35 192.28,626.23 192.79,626.64 193.3,626.37 193.81,626.19 194.32,626.19 194.84,626.52 195.35,626.21 195.86,626.14 196.37,626.34 196.88,626.28 197.39,626.47 197.9,626.32 198.41,626.3 198.92,626.7 199.44,626.27 199.95,626 200.46,626.09 200.97,626.2 201.48,626.46 201.99,626.2 202.5,626.32 203.01,626.42 203.52,626.12 204.03,626.7 204.55,626.19 205.06,626.74 205.57,626.3 206.08,626.39 206.59,626.58 207.1,626.23 207.61,626.3 208.12,626.14 208.63,625.83 209.14,626.26 209.66,626.37 210.17,626.07 210.68,625.71 211.19,626 211.7,625.94 212.21,625.31 212.72,625.42 213.23,625.51 213.74,625.09 214.25,625.44 214.77,625.11 215.28,625.39 215.79,625.14 216.3,624.77 216.81,624.62 217.32,624.56 217.83,624.92 218.34,624.75 218.85,624.94 219.36,625.06 219.88,624.76 220.39,624.48 220.9,624.46 221.41,624.54 221.92,624.34 222.43,624.83 222.94,624.9 223.45,624.66 223.96,624.78 224.47,624.81 224.99,624.63 225.5,624.45 226.01,624.54 226.52,624.65 227.03,624.23 227.54,624.11" fill="none" stroke="#8a8a8a" stroke-width="0.7" stroke-linejoin="round" opacity="0.8"/>
<polygon points="104.9,594.96 105.41,595.23 105.92,595.61 106.43,596.31 106.94,596.77 107.46,596.93 107.97,597.37 108.48,597.36 108.99,597.75 109.5,598.12 110.01,598.47 110.52,598.72 111.03,599.35 111.54,599.51 112.05,600.01 112.57,599.89 113.08,600.74 113.59,600.61 114.1,601.4 114.61,601.36 115.12,601.9 115.63,602.01 116.14,601.9 116.65,602.55 117.16,602.68 117.68,602.31 118.19,602.71 118.7,603.12 119.21,602.73 119.72,602.9 120.23,603.56 120.74,603.54 121.25,603.89 121.76,603.95 122.27,603.93 122.79,604.38 123.3,604.22 123.81,604.79 124.32,604.88 124.83,604.66 125.34,605.08 125.85,605.24 126.36,605.3 126.87,605.54 127.38,605.77 127.9,606.15 128.41,605.9 128.92,605.92 129.43,606.09 129.94,606.41 130.45,606.73 130.96,606.85 131.47,606.78 131.98,606.92 132.49,607.4 133,607.45 133.52,607.51 134.03,607.55 134.54,607.5 135.05,607.82 135.56,608.24 136.07,607.88 136.58,608.25 137.09,608.33 137.6,608.64 138.12,608.7 138.63,608.9 139.14,608.85 139.65,609.44 140.16,609.35 140.67,609.75 141.18,609.62 141.69,610.2 142.2,610.24 142.71,610.38 143.23,610.38 143.74,610.92 144.25,610.85 144.76,611.18 145.27,611.32 145.78,611.38 146.29,611.27 146.8,611.74 147.31,611.63 147.82,612.29 148.34,611.99 148.85,612.48 149.36,612.74 149.87,612.56 150.38,612.61 150.89,613.32 151.4,613.32 151.91,613.16 152.42,613.58 152.93,613.8 153.44,614.09 153.96,614.23 154.47,614.03 154.98,613.96 155.49,614.11 156,614.57 156.51,614.98 157.02,614.92 157.53,614.76 158.04,614.86 158.56,615.1 159.07,615.48 159.58,615.42 160.09,615.57 160.6,615.6 161.11,615.95 161.62,615.66 162.13,615.81 162.64,616.38 163.15,616.43 163.67,616.2 164.18,616.68 164.69,616.4 165.2,616.79 165.71,616.8 166.22,616.92 166.73,617.31 167.24,617.37 167.75,617.48 168.26,617.31 168.78,617.4 169.29,617.84 169.8,617.48 170.31,617.85 170.82,618.06 171.33,618.04 171.84,617.8 172.35,618.15 172.86,618.21 173.37,618.12 173.88,618.19 174.4,618.41 174.91,618.71 175.42,618.7 175.93,618.61 176.44,618.77 176.95,618.91 177.46,619.06 177.97,619.06 178.48,618.84 179,618.96 179.51,619.3 180.02,618.89 180.53,618.78 181.04,618.85 181.55,618.8 182.06,618.8 182.57,619.04 183.08,618.9 183.59,619.16 184.11,619.34 184.62,619.19 185.13,619.23 185.64,618.86 186.15,619.01 186.66,619.11 187.17,619.03 187.68,619.29 188.19,619 188.7,618.86 189.22,619.01 189.73,619.07 190.24,618.93 190.75,618.94 191.26,618.68 191.77,618.98 192.28,618.97 192.79,618.8 193.3,618.52 193.81,618.45 194.32,618.47 194.84,618.26 195.35,618.57 195.86,618.74 196.37,618.42 196.88,618.41 197.39,618.49 197.9,618.1 198.41,618.22 198.92,618.19 199.44,618.05 199.95,617.59 200.46,618.08 200.97,617.78 201.48,617.74 201.99,617.7 202.5,617.48 203.01,617.52 203.52,617.01 204.03,617.18 204.55,616.97 205.06,617.21 205.57,616.94 206.08,616.77 206.59,616.54 207.1,616.82 207.61,616.62 208.12,616.31 208.63,616.26 209.14,616.56 209.66,616.31 210.17,616.1 210.68,616.26 211.19,616.02 211.7,615.96 212.21,615.71 212.72,615.9 213.23,615.75 213.74,615.89 214.25,615.59 214.77,615.77 215.28,615.6 215.79,615.61 216.3,615.58 216.81,615.62 217.32,615.5 217.83,615.31 218.34,615.5 218.85,615.63 219.36,615.18 219.88,615.51 220.39,615.12 220.9,615.34 221.41,615.47 221.92,615.19 222.43,615.18 222.94,615.54 223.45,615.67 223.96,615.37 224.47,615.25 224.99,615.41 225.5,615.31 226.01,615.54 226.52,615.43 227.03,615.65 227.54,615.58 227.54,624.72 227.03,624.8 226.52,624.57 226.01,624.69 225.5,624.45 224.99,624.55 224.47,624.4 223.96,624.51 223.45,624.82 222.94,624.69 222.43,624.33 221.92,624.33 221.41,624.62 220.9,624.48 220.39,624.26 219.88,624.65 219.36,624.33 218.85,624.78 218.34,624.64 217.83,624.46 217.32,624.64 216.81,624.76 216.3,624.72 215.79,624.76 215.28,624.74 214.77,624.92 214.25,624.73 213.74,625.03 213.23,624.9 212.72,625.04 212.21,624.85 211.7,625.11 211.19,625.17 210.68,625.4 210.17,625.25 209.66,625.45 209.14,625.71 208.63,625.4 208.12,625.46 207.61,625.76 207.1,625.96 206.59,625.68 206.08,625.91 205.57,626.09 205.06,626.36 204.55,626.11 204.03,626.32 203.52,626.15 203.01,626.66 202.5,626.62 201.99,626.85 201.48,626.88 200.97,626.92 200.46,627.22 199.95,626.74 199.44,627.2 198.92,627.34 198.41,627.36 197.9,627.25 197.39,627.63 196.88,627.56 196.37,627.57 195.86,627.88 195.35,627.72 194.84,627.41 194.32,627.61 193.81,627.59 193.3,627.67 192.79,627.94 192.28,628.11 191.77,628.12 191.26,627.83 190.75,628.09 190.24,628.07 189.73,628.21 189.22,628.16 188.7,628.01 188.19,628.15 187.68,628.44 187.17,628.17 186.66,628.26 186.15,628.16 185.64,628 185.13,628.37 184.62,628.33 184.11,628.48 183.59,628.3 183.08,628.04 182.57,628.19 182.06,627.95 181.55,627.95 181.04,628 180.53,627.92 180.02,628.03 179.51,628.44 179,628.1 178.48,627.99 177.97,628.2 177.46,628.21 176.95,628.05 176.44,627.92 175.93,627.75 175.42,627.85 174.91,627.86 174.4,627.55 173.88,627.34 173.37,627.27 172.86,627.35 172.35,627.29 171.84,626.94 171.33,627.18 170.82,627.2 170.31,627 169.8,626.62 169.29,626.98 168.78,626.55 168.26,626.46 167.75,626.62 167.24,626.51 166.73,626.46 166.22,626.06 165.71,625.94 165.2,625.93 164.69,625.55 164.18,625.83 163.67,625.34 163.15,625.57 162.64,625.53 162.13,624.96 161.62,624.8 161.11,625.09 160.6,624.75 160.09,624.72 159.58,624.56 159.07,624.62 158.56,624.25 158.04,624 157.53,623.91 157.02,624.07 156.51,624.13 156,623.71 155.49,623.25 154.98,623.11 154.47,623.17 153.96,623.37 153.44,623.24 152.93,622.94 152.42,622.72 151.91,622.31 151.4,622.46 150.89,622.46 150.38,621.76 149.87,621.7 149.36,621.89 148.85,621.63 148.34,621.13 147.82,621.44 147.31,620.78 146.8,620.88 146.29,620.41 145.78,620.53 145.27,620.46 144.76,620.33 144.25,619.99 143.74,620.06 143.23,619.52 142.71,619.52 142.2,619.38 141.69,619.35 141.18,618.76 140.67,618.9 140.16,618.49 139.65,618.58 139.14,617.99 138.63,618.05 138.12,617.84 137.6,617.78 137.09,617.47 136.58,617.4 136.07,617.03 135.56,617.38 135.05,616.96 134.54,616.64 134.03,616.69 133.52,616.65 133,616.6 132.49,616.54 131.98,616.07 131.47,615.93 130.96,616 130.45,615.87 129.94,615.55 129.43,615.23 128.92,615.07 128.41,615.04 127.9,615.3 127.38,614.91 126.87,614.69 126.36,614.45 125.85,614.38 125.34,614.23 124.83,613.8 124.32,614.03 123.81,613.93 123.3,613.37 122.79,613.52 122.27,613.08 121.76,613.09 121.25,613.03 120.74,612.69 120.23,612.71 119.72,612.05 119.21,611.87 118.7,612.26 118.19,611.86 117.68,611.46 117.16,611.83 116.65,611.7 116.14,611.04 115.63,611.16 115.12,611.05 114.61,610.5 114.1,610.54 113.59,609.75 113.08,609.88 112.57,609.03 112.05,609.15 111.54,608.65 111.03,608.5 110.52,607.87 110.01,607.61 109.5,607.27 108.99,606.89 108.48,606.5 107.97,606.51 107.46,606.07 106.94,605.91 106.43,605.45 105.92,604.75 105.41,604.38 104.9,604.11" fill="#b0b0b0" opacity="0.45"/>
<polyline points="104.9,594.96 105.41,595.23 105.92,595.61 106.43,596.31 106.94,596.77 107.46,596.93 107.97,597.37 108.48,597.36 108.99,597.75 109.5,598.12 110.01,598.47 110.52,598.72 111.03,599.35 111.54,599.51 112.05,600.01 112.57,599.89 113.08,600.74 113.59,600.61 114.1,601.4 114.61,601.36 115.12,601.9 115.63,602.01 116.14,601.9 116.65,602.55 117.16,602.68 117.68,602.31 118.19,602.71 118.7,603.12 119.21,602.73 119.72,602.9 120.23,603.56 120.74,603.54 121.25,603.89 121.76,603.95 122.27,603.93 122.79,604.38 123.3,604.22 123.81,604.79 124.32,604.88 124.83,604.66 125.34,605.08 125.85,605.24 126.36,605.3 126.87,605.54 127.38,605.77 127.9,606.15 128.41,605.9 128.92,605.92 129.43,606.09 129.94,606.41 130.45,606.73 130.96,606.85 131.47,606.78 131.98,606.92 132.49,607.4 133,607.45 133.52,607.51 134.03,607.55 134.54,607.5 135.05,607.82 135.56,608.24 136.07,607.88 136.58,608.25 137.09,608.33 137.6,608.64 138.12,608.7 138.63,608.9 139.14,608.85 139.65,609.44 140.16,609.35 140.67,609.75 141.18,609.62 141.69,610.2 142.2,610.24 142.71,610.38 143.23,610.38 143.74,610.92 144.25,610.85 144.76,611.18 145.27,611.32 145.78,611.38 146.29,611.27 146.8,611.74 147.31,611.63 147.82,612.29 148.34,611.99 148.85,612.48 149.36,612.74 149.87,612.56 150.38,612.61 150.89,613.32 151.4,613.32 151.91,613.16 152.42,613.58 152.93,613.8 153.44,614.09 153.96,614.23 154.47,614.03 154.98,613.96 155.49,614.11 156,614.57 156.51,614.98 157.02,614.92 157.53,614.76 158.04,614.86 158.56,615.1 159.07,615.48 159.58,615.42 160.09,615.57 160.6,615.6 161.11,615.95 161.62,615.66 162.13,615.81 162.64,616.38 163.15,616.43 163.67,616.2 164.18,616.68 164.69,616.4 165.2,616.79 165.71,616.8 166.22,616.92 166.73,617.31 167.24,617.37 167.75,617.48 168.26,617.31 168.78,617.4 169.29,617.84 169.8,617.48 170.31,617.85 170.82,618.06 171.33,618.04 171.84,617.8 172.35,618.15 172.86,618.21 173.37,618.12 173.88,618.19 174.4,618.41 174.91,618.71 175.42,618.7 175.93,618.61 176.44,618.77 176.95,618.91 177.46,619.06 177.97,619.06 178.48,618.84 179,618.96 179.51,619.3 180.02,618.89 180.53,618.78 181.04,618.85 181.55,618.8 182.06,618.8 182.57,619.04 183.08,618.9 183.59,619.16 184.11,619.34 184.62,619.19 185.13,619.23 185.64,618.86 186.15,619.01 186.66,619.11 187.17,619.03 187.68,619.29 188.19,619 188.7,618.86 189.22,619.01 189.73,619.07 190.24,618.93 190.75,618.94 191.26,618.68 191.77,618.98 192.28,618.97 192.79,618.8 193.3,618.52 193.81,618.45 194.32,618.47 194.84,618.26 195.35,618.57 195.86,618.74 196.37,618.42 196.88,618.41 197.39,618.49 197.9,618.1 198.41,618.22 198.92,618.19 199.44,618.05 199.95,617.59 200.46,618.08 200.97,617.78 201.48,617.74 201.99,617.7 202.5,617.48 203.01,617.52 203.52,617.01 204.03,617.18 204.55,616.97 205.06,617.21 205.57,616.94 206.08,616.77 206.59,616.54 207.1,616.82 207.61,616.62 208.12,616.31 208.63,616.26 209.14,616.56 209.66,616.31 210.17,616.1 210.68,616.26 211.19,616.02 211.7,615.96 212.21,615.71 212.72,615.9 213.23,615.75 213.74,615.89 214.25,615.59 214.77,615.77 215.28,615.6 215.79,615.61 216.3,615.58 216.81,615.62 217.32,615.5 217.83,615.31 218.34,615.5 218.85,615.63 219.36,615.18 219.88,615.51 220.39,615.12 220.9,615.34 221.41,615.47 221.92,615.19 222.43,615.18 222.94,615.54 223.45,615.67 223.96,615.37 224.47,615.25 224.99,615.41 225.5,615.31 226.01,615.54 226.52,615.43 227.03,615.65 227.54,615.58" fill="none" stroke="#909090" stroke-width="0.7" stroke-linejoin="round" opacity="0.8"/>
<polyline points="104.9,604.11 105.41,604.38 105.92,604.75 106.43,605.45 106.94,605.91 107.46,606.07 107.97,606.51 108.48,606.5 108.99,606.89 109.5,607.27 110.01,607.61 110.52,607.87 111.03,608.5 111.54,608.65 112.05,609.15 112.57,609.03 113.08,609.88 113.59,609.75 114.1,610.54 114.61,610.5 115.12,611.05 115.63,611.16 116.14,611.04 116.65,611.7 117.16,611.83 117.68,611.46 118.19,611.86 118.7,612.26 119.21,611.87 119.72,612.05 120.23,612.71 120.74,612.69 121.25,613.03 121.76,613.09 122.27,613.08 122.79,613.52 123.3,613.37 123.81,613.93 124.32,614.03 124.83,613.8 125.34,614.23 125.85,614.38 126.36,614.45 126.87,614.69 127.38,614.91 127.9,615.3 128.41,615.04 128.92,615.07 129.43,615.23 129.94,615.55 130.45,615.87 130.96,616 131.47,615.93 131.98,616.07 132.49,616.54 133,616.6 133.52,616.65 134.03,616.69 134.54,616.64 135.05,616.96 135.56,617.38 136.07,617.03 136.58,617.4 137.09,617.47 137.6,617.78 138.12,617.84 138.63,618.05 139.14,617.99 139.65,618.58 140.16,618.49 140.67,618.9 141.18,618.76 141.69,619.35 142.2,619.38 142.71,619.52 143.23,619.52 143.74,620.06 144.25,619.99 144.76,620.33 145.27,620.46 145.78,620.53 146.29,620.41 146.8,620.88 147.31,620.78 147.82,621.44 148.34,621.13 148.85,621.63 149.36,621.89 149.87,621.7 150.38,621.76 150.89,622.46 151.4,622.46 151.91,622.31 152.42,622.72 152.93,622.94 153.44,623.24 153.96,623.37 154.47,623.17 154.98,623.11 155.49,623.25 156,623.71 156.51,624.13 157.02,624.07 157.53,623.91 158.04,624 158.56,624.25 159.07,624.62 159.58,624.56 160.09,624.72 160.6,624.75 161.11,625.09 161.62,624.8 162.13,624.96 162.64,625.53 163.15,625.57 163.67,625.34 164.18,625.83 164.69,625.55 165.2,625.93 165.71,625.94 166.22,626.06 166.73,626.46 167.24,626.51 167.75,626.62 168.26,626.46 168.78,626.55 169.29,626.98 169.8,626.62 170.31,627 170.82,627.2 171.33,627.18 171.84,626.94 172.35,627.29 172.86,627.35 173.37,627.27 173.88,627.34 174.4,627.55 174.91,627.86 175.42,627.85 175.93,627.75 176.44,627.92 176.95,628.05 177.46,628.21 177.97,628.2 178.48,627.99 179,628.1 179.51,628.44 180.02,628.03 180.53,627.92 181.04,628 181.55,627.95 182.06,627.95 182.57,628.19 183.08,628.04 183.59,628.3 184.11,628.48 184.62,628.33 185.13,628.37 185.64,628 186.15,628.16 186.66,628.26 187.17,628.17 187.68,628.44 188.19,628.15 188.7,628.01 189.22,628.16 189.73,628.21 190.24,628.07 190.75,628.09 191.26,627.83 191.77,628.12 192.28,628.11 192.79,627.94 193.3,627.67 193.81,627.59 194.32,627.61 194.84,627.41 195.35,627.72 195.86,627.88 196.37,627.57 196.88,627.56 197.39,627.63 197.9,627.25 198.41,627.36 198.92,627.34 199.44,627.2 199.95,626.74 200.46,627.22 200.97,626.92 201.48,626.88 201.99,626.85 202.5,626.62 203.01,626.66 203.52,626.15 204.03,626.32 204.55,626.11 205.06,626.36 205.57,626.09 206.08,625.91 206.59,625.68 207.1,625.96 207.61,625.76 208.12,625.46 208.63,625.4 209.14,625.71 209.66,625.45 210.17,625.25 210.68,625.4 211.19,625.17 211.7,625.11 212.21,624.85 212.72,625.04 213.23,624.9 213.74,625.03 214.25,624.73 214.77,624.92 215.28,624.74 215.79,624.76 216.3,624.72 216.81,624.76 217.32,624.64 217.83,624.46 218.34,624.64 218.85,624.78 219.36,624.33 219.88,624.65 220.39,624.26 220.9,624.48 221.41,624.62 221.92,624.33 222.43,624.33 222.94,624.69 223.45,624.82 223.96,624.51 224.47,624.4 224.99,624.55 225.5,624.45 226.01,624.69 226.52,624.57 227.03,624.8 227.54,624.72" fill="none" stroke="#909090" stroke-width="0.7" stroke-linejoin="round" opacity="0.8"/>
<polyline points="104.9,590.79 105.41,595.09 105.92,599.19 106.43,601.07 106.94,602.56 107.46,604.02 107.97,605.85 108.48,605.8 108.99,605.9 109.5,605.96 110.01,606.69 110.52,606.72 111.03,607.07 111.54,606.57 112.05,606.7 112.57,607.25 113.08,606.58 113.59,606.64 114.1,606.93 114.61,607 115.12,607.4 115.63,607.58 116.14,607.27 116.65,607.7 117.16,607.68 117.68,607.72 118.19,607.95 118.7,607.7 119.21,607.79 119.72,607.56 120.23,607.89 120.74,607.96 121.25,608.24 121.76,608.28 122.27,608.61 122.79,608.92 123.3,608.54 123.81,608.71 124.32,609 124.83,609.27 125.34,609.73 125.85,609.97 126.36,610.09 126.87,610.43 127.38,610.07 127.9,610.52 128.41,610.35 128.92,610.87 129.43,610.6 129.94,610.81 130.45,611.59 130.96,611.56 131.47,611.16 131.98,611.63 132.49,611.37 133,611.94 133.52,612.32 134.03,612.03 134.54,612.05 135.05,612.56 135.56,612.83 136.07,612.78 136.58,612.43 137.09,612.72 137.6,613.33 138.12,613.42 138.63,613.71 139.14,613.92 139.65,613.54 140.16,614.19 140.67,614.08 141.18,614.35 141.69,614.73 142.2,614.5 142.71,615.13 143.23,614.92 143.74,615.51 144.25,615.46 144.76,615.8 145.27,615.93 145.78,615.58 146.29,615.89 146.8,616.45 147.31,616.19 147.82,616.88 148.34,616.89 148.85,616.68 149.36,616.98 149.87,617.54 150.38,617 150.89,617.74 151.4,617.85 151.91,617.6 152.42,618.08 152.93,618.25 153.44,618.56 153.96,618.69 154.47,618.46 154.98,618.86 155.49,618.73 156,619.05 156.51,619.06 157.02,618.75 157.53,619.19 158.04,619.2 158.56,619.05 159.07,619.65 159.58,619.75 160.09,619.25 160.6,619.39 161.11,619.9 161.62,620.02 162.13,619.68 162.64,619.6 163.15,620.25 163.67,619.75 164.18,619.88 164.69,620.17 165.2,620.38 165.71,620.7 166.22,620.82 166.73,620.16 167.24,620.75 167.75,620.43 168.26,620.81 168.78,620.42 169.29,620.63 169.8,620.9 170.31,621.03 170.82,620.65 171.33,621.18 171.84,621.1 172.35,620.88 172.86,620.7 173.37,620.92 173.88,621.21 174.4,620.76 174.91,621.35 175.42,621.53 175.93,621.37 176.44,621.28 176.95,621.57 177.46,621.48 177.97,621.33 178.48,621.18 179,621.52 179.51,621.34 180.02,620.94 180.53,620.87 181.04,621.12 181.55,621.09 182.06,621.17 182.57,621.51 183.08,621.59 183.59,621.6 184.11,620.92 184.62,621.08 185.13,620.88 185.64,621.6 186.15,621.13 186.66,621.25 187.17,621.04 187.68,621.33 188.19,620.8 188.7,621.48 189.22,621.1 189.73,620.94 190.24,620.8 190.75,620.9 191.26,620.91 191.77,620.82 192.28,620.71 192.79,621.12 193.3,620.85 193.81,620.66 194.32,620.67 194.84,620.99 195.35,620.69 195.86,620.62 196.37,620.82 196.88,620.76 197.39,620.94 197.9,620.79 198.41,620.77 198.92,621.17 199.44,620.75 199.95,620.48 200.46,620.56 200.97,620.68 201.48,620.94 201.99,620.67 202.5,620.79 203.01,620.9 203.52,620.6 204.03,621.17 204.55,620.66 205.06,621.21 205.57,620.78 206.08,620.87 206.59,621.06 207.1,620.7 207.61,620.78 208.12,620.61 208.63,620.31 209.14,620.74 209.66,620.85 210.17,620.55 210.68,620.18 211.19,620.47 211.7,620.42 212.21,619.78 212.72,619.89 213.23,619.98 213.74,619.56 214.25,619.92 214.77,619.58 215.28,619.86 215.79,619.61 216.3,619.25 216.81,619.09 217.32,619.04 217.83,619.4 218.34,619.23 218.85,619.41 219.36,619.53 219.88,619.24 220.39,618.96 220.9,618.93 221.41,619.02 221.92,618.82 222.43,619.31 222.94,619.37 223.45,619.14 223.96,619.25 224.47,619.28 224.99,619.11 225.5,618.93 226.01,619.01 226.52,619.13 227.03,618.71 227.54,618.58" fill="none" stroke="#9b55c0" stroke-width="0.9" stroke-linejoin="round"/>
<polyline points="104.9,599.53 105.41,599.8 105.92,600.18 106.43,600.88 106.94,601.34 107.46,601.5 107.97,601.94 108.48,601.93 108.99,602.32 109.5,602.69 110.01,603.04 110.52,603.29 111.03,603.93 111.54,604.08 112.05,604.58 112.57,604.46 113.08,605.31 113.59,605.18 114.1,605.97 114.61,605.93 115.12,606.48 115.63,606.59 116.14,606.47 116.65,607.13 117.16,607.25 117.68,606.88 118.19,607.28 118.7,607.69 119.21,607.3 119.72,607.48 120.23,608.14 120.74,608.12 121.25,608.46 121.76,608.52 122.27,608.5 122.79,608.95 123.3,608.8 123.81,609.36 124.32,609.46 124.83,609.23 125.34,609.65 125.85,609.81 126.36,609.87 126.87,610.12 127.38,610.34 127.9,610.73 128.41,610.47 128.92,610.49 129.43,610.66 129.94,610.98 130.45,611.3 130.96,611.42 131.47,611.36 131.98,611.5 132.49,611.97 133,612.03 133.52,612.08 134.03,612.12 134.54,612.07 135.05,612.39 135.56,612.81 136.07,612.45 136.58,612.82 137.09,612.9 137.6,613.21 138.12,613.27 138.63,613.47 139.14,613.42 139.65,614.01 140.16,613.92 140.67,614.33 141.18,614.19 141.69,614.77 142.2,614.81 142.71,614.95 143.23,614.95 143.74,615.49 144.25,615.42 144.76,615.75 145.27,615.89 145.78,615.95 146.29,615.84 146.8,616.31 147.31,616.2 147.82,616.87 148.34,616.56 148.85,617.06 149.36,617.32 149.87,617.13 150.38,617.19 150.89,617.89 151.4,617.89 151.91,617.74 152.42,618.15 152.93,618.37 153.44,618.67 153.96,618.8 154.47,618.6 154.98,618.54 155.49,618.68 156,619.14 156.51,619.55 157.02,619.5 157.53,619.34 158.04,619.43 158.56,619.67 159.07,620.05 159.58,619.99 160.09,620.14 160.6,620.18 161.11,620.52 161.62,620.23 162.13,620.39 162.64,620.96 163.15,621 163.67,620.77 164.18,621.26 164.69,620.97 165.2,621.36 165.71,621.37 166.22,621.49 166.73,621.89 167.24,621.94 167.75,622.05 168.26,621.89 168.78,621.97 169.29,622.41 169.8,622.05 170.31,622.43 170.82,622.63 171.33,622.61 171.84,622.37 172.35,622.72 172.86,622.78 173.37,622.69 173.88,622.76 174.4,622.98 174.91,623.29 175.42,623.28 175.93,623.18 176.44,623.34 176.95,623.48 177.46,623.63 177.97,623.63 178.48,623.42 179,623.53 179.51,623.87 180.02,623.46 180.53,623.35 181.04,623.43 181.55,623.37 182.06,623.38 182.57,623.61 183.08,623.47 183.59,623.73 184.11,623.91 184.62,623.76 185.13,623.8 185.64,623.43 186.15,623.59 186.66,623.69 187.17,623.6 187.68,623.86 188.19,623.58 188.7,623.44 189.22,623.59 189.73,623.64 190.24,623.5 190.75,623.51 191.26,623.26 191.77,623.55 192.28,623.54 192.79,623.37 193.3,623.1 193.81,623.02 194.32,623.04 194.84,622.84 195.35,623.15 195.86,623.31 196.37,623 196.88,622.98 197.39,623.06 197.9,622.68 198.41,622.79 198.92,622.77 199.44,622.63 199.95,622.16 200.46,622.65 200.97,622.35 201.48,622.31 201.99,622.27 202.5,622.05 203.01,622.09 203.52,621.58 204.03,621.75 204.55,621.54 205.06,621.78 205.57,621.51 206.08,621.34 206.59,621.11 207.1,621.39 207.61,621.19 208.12,620.89 208.63,620.83 209.14,621.13 209.66,620.88 210.17,620.68 210.68,620.83 211.19,620.6 211.7,620.54 212.21,620.28 212.72,620.47 213.23,620.32 213.74,620.46 214.25,620.16 214.77,620.34 215.28,620.17 215.79,620.19 216.3,620.15 216.81,620.19 217.32,620.07 217.83,619.88 218.34,620.07 218.85,620.21 219.36,619.75 219.88,620.08 220.39,619.69 220.9,619.91 221.41,620.05 221.92,619.76 222.43,619.75 222.94,620.12 223.45,620.24 223.96,619.94 224.47,619.83 224.99,619.98 225.5,619.88 226.01,620.12 226.52,620 227.03,620.23 227.54,620.15" fill="none" stroke="#4a5cc4" stroke-width="1.4" stroke-linejoin="round"/>
<line x1="105.21" y1="584.28" x2="105.21" y2="602.19" stroke="#888" stroke-width="0.8"/>
<polygon points="104.9,610.03 105.41,608.87 105.92,612.3 106.43,613.49 106.94,615.43 107.46,616.15 107.97,616.99 108.48,617.68 108.99,617.97 109.5,619.19 110.01,619.49 110.52,620.45 111.03,621.04 111.54,621.49 112.05,621.69 112.57,622.47 113.08,623.58 113.59,623.63 114.1,624.03 114.61,623.66 115.12,624 115.63,624.03 116.14,624.04 116.65,624.14 117.16,623.99 117.68,624.16 118.19,624.68 118.7,624.16 119.21,624.52 119.72,624.31 120.23,624.51 120.74,624.66 121.25,624.75 121.76,624.72 122.27,624.85 122.79,625.06 123.3,624.45 123.81,624.5 124.32,624.35 124.83,624.65 125.34,624.8 125.85,624.66 126.36,625.25 126.87,624.78 127.38,625.02 127.9,625.29 128.41,625.3 128.92,625.03 129.43,625.31 129.94,625.15 130.45,625.04 130.96,625.26 131.47,625.54 131.98,625.23 132.49,625.5 133,625.52 133.52,625.59 134.03,625.46 134.54,625.76 135.05,625.26 135.56,625.01 136.07,625.56 136.58,625.3 137.09,625.14 137.6,626 138.12,625.94 138.63,625.37 139.14,625.38 139.65,625.6 140.16,626.08 140.67,625.89 141.18,625.51 141.69,625.53 142.2,625.64 142.71,626.23 143.23,625.67 143.74,626.15 144.25,625.88 144.76,626.44 145.27,625.72 145.78,626.09 146.29,626.01 146.8,626.51 147.31,626.17 147.82,626.23 148.34,626.25 148.85,626.49 149.36,626.18 149.87,626.56 150.38,626.63 150.89,626.78 151.4,626.33 151.91,626.89 152.42,626.81 152.93,626.98 153.44,626.49 153.96,626.59 154.47,626.63 154.98,627.12 155.49,626.79 156,626.9 156.51,627.17 157.02,627.29 157.53,626.42 158.04,627.26 158.56,627.13 159.07,627.2 159.58,626.94 160.09,627.45 160.6,627.13 161.11,627.26 161.62,626.87 162.13,627.67 162.64,627.41 163.15,627.3 163.67,626.9 164.18,627.35 164.69,627.43 165.2,627.29 165.71,627.67 166.22,627.95 166.73,627.57 167.24,627.24 167.75,627.45 168.26,627.93 168.78,627.59 169.29,627.49 169.8,628.08 170.31,627.82 170.82,628.08 171.33,628.23 171.84,628.24 172.35,628.36 172.86,628.28 173.37,628.61 173.88,628.33 174.4,628.66 174.91,628.1 175.42,628.29 175.93,628.88 176.44,628.22 176.95,628.81 177.46,628.61 177.97,628.6 178.48,628.86 179,628.95 179.51,628.88 180.02,629.21 180.53,628.6 181.04,629.34 181.55,628.75 182.06,629.36 182.57,629.34 183.08,629.32 183.59,629.7 184.11,629.67 184.62,629.52 185.13,629.5 185.64,629.16 186.15,629.11 186.66,630.03 187.17,629.64 187.68,630.07 188.19,629.51 188.7,630.01 189.22,629.54 189.73,629.92 190.24,630.36 190.75,630.53 191.26,630.36 191.77,629.85 192.28,630.57 192.79,630.32 193.3,630.48 193.81,630.56 194.32,630.2 194.84,630.79 195.35,630.39 195.86,630.49 196.37,630.3 196.88,630.74 197.39,630.41 197.9,630.89 198.41,630.81 198.92,630.8 199.44,630.64 199.95,630.63 200.46,631.38 200.97,631.4 201.48,631.07 201.99,630.86 202.5,631.15 203.01,631.4 203.52,630.83 204.03,631.48 204.55,631.71 205.06,631.78 205.57,631.84 206.08,631.24 206.59,631.84 207.1,631.32 207.61,631.24 208.12,631.18 208.63,631.41 209.14,631.82 209.66,631.7 210.17,631.56 210.68,631.72 211.19,632.17 211.7,631.8 212.21,632.45 212.72,632.33 213.23,631.75 213.74,632.29 214.25,632.53 214.77,632.12 215.28,632.48 215.79,632.95 216.3,632.98 216.81,632.83 217.32,632.82 217.83,632.31 218.34,632.99 218.85,632.49 219.36,632.53 219.88,632.98 220.39,632.5 220.9,632.76 221.41,633.06 221.92,633.31 222.43,633.18 222.94,632.82 223.45,633.2 223.96,633.56 224.47,633.45 224.99,633.4 225.5,633.71 226.01,633.41 226.52,633.95 227.03,633.28 227.54,633.91 227.54,639.25 227.03,638.61 226.52,639.28 226.01,638.74 225.5,639.04 224.99,638.74 224.47,638.78 223.96,638.9 223.45,638.54 222.94,638.16 222.43,638.51 221.92,638.65 221.41,638.39 220.9,638.09 220.39,637.83 219.88,638.31 219.36,637.87 218.85,637.82 218.34,638.33 217.83,637.65 217.32,638.15 216.81,638.16 216.3,638.32 215.79,638.28 215.28,637.82 214.77,637.45 214.25,637.87 213.74,637.63 213.23,637.09 212.72,637.66 212.21,637.78 211.7,637.13 211.19,637.5 210.68,637.06 210.17,636.89 209.66,637.03 209.14,637.15 208.63,636.74 208.12,636.51 207.61,636.58 207.1,636.66 206.59,637.18 206.08,636.57 205.57,637.17 205.06,637.11 204.55,637.04 204.03,636.81 203.52,636.17 203.01,636.73 202.5,636.48 201.99,636.19 201.48,636.41 200.97,636.73 200.46,636.71 199.95,635.96 199.44,635.97 198.92,636.14 198.41,636.14 197.9,636.22 197.39,635.75 196.88,636.08 196.37,635.64 195.86,635.83 195.35,635.72 194.84,636.13 194.32,635.53 193.81,635.89 193.3,635.81 192.79,635.66 192.28,635.9 191.77,635.19 191.26,635.7 190.75,635.86 190.24,635.69 189.73,635.25 189.22,634.88 188.7,635.34 188.19,634.84 187.68,635.4 187.17,634.98 186.66,635.37 186.15,634.45 185.64,634.49 185.13,634.83 184.62,634.85 184.11,635.01 183.59,635.03 183.08,634.65 182.57,634.67 182.06,634.69 181.55,634.08 181.04,634.68 180.53,633.93 180.02,634.54 179.51,634.21 179,634.29 178.48,634.19 177.97,633.93 177.46,633.94 176.95,634.15 176.44,633.56 175.93,634.21 175.42,633.62 174.91,633.43 174.4,634 173.88,633.66 173.37,633.94 172.86,633.61 172.35,633.7 171.84,633.57 171.33,633.57 170.82,633.42 170.31,633.16 169.8,633.41 169.29,632.82 168.78,632.93 168.26,633.27 167.75,632.78 167.24,632.58 166.73,632.9 166.22,633.28 165.71,633 165.2,632.62 164.69,632.76 164.18,632.69 163.67,632.24 163.15,632.63 162.64,632.74 162.13,633 161.62,632.21 161.11,632.6 160.6,632.46 160.09,632.78 159.58,632.27 159.07,632.53 158.56,632.47 158.04,632.59 157.53,631.75 157.02,632.62 156.51,632.5 156,632.24 155.49,632.12 154.98,632.46 154.47,631.97 153.96,631.93 153.44,631.82 152.93,632.32 152.42,632.14 151.91,632.22 151.4,631.67 150.89,632.11 150.38,631.97 149.87,631.9 149.36,631.51 148.85,631.82 148.34,631.58 147.82,631.56 147.31,631.5 146.8,631.84 146.29,631.35 145.78,631.43 145.27,631.05 144.76,631.78 144.25,631.21 143.74,631.48 143.23,631.01 142.71,631.56 142.2,630.98 141.69,630.86 141.18,630.84 140.67,631.22 140.16,631.41 139.65,630.94 139.14,630.72 138.63,630.71 138.12,631.28 137.6,631.33 137.09,630.48 136.58,630.64 136.07,630.9 135.56,630.35 135.05,630.59 134.54,631.09 134.03,630.8 133.52,630.93 133,630.86 132.49,630.83 131.98,630.57 131.47,630.87 130.96,630.6 130.45,630.38 129.94,630.48 129.43,630.64 128.92,630.37 128.41,630.63 127.9,630.63 127.38,630.35 126.87,630.11 126.36,630.58 125.85,629.99 125.34,630.14 124.83,629.99 124.32,629.69 123.81,629.83 123.3,629.78 122.79,630.4 122.27,630.19 121.76,630.05 121.25,630.08 120.74,630 120.23,629.84 119.72,629.64 119.21,629.86 118.7,629.5 118.19,630.01 117.68,629.49 117.16,629.32 116.65,629.48 116.14,629.38 115.63,629.37 115.12,629.33 114.61,628.99 114.1,629.37 113.59,628.96 113.08,628.92 112.57,627.8 112.05,627.02 111.54,626.82 111.03,626.38 110.52,625.78 110.01,624.83 109.5,624.53 108.99,623.31 108.48,623.01 107.97,622.32 107.46,621.48 106.94,620.76 106.43,618.82 105.92,617.64 105.41,614.21 104.9,615.36" fill="#2a2a2a" opacity="0.8"/>
<polyline points="104.9,610.03 105.41,608.87 105.92,612.3 106.43,613.49 106.94,615.43 107.46,616.15 107.97,616.99 108.48,617.68 108.99,617.97 109.5,619.19 110.01,619.49 110.52,620.45 111.03,621.04 111.54,621.49 112.05,621.69 112.57,622.47 113.08,623.58 113.59,623.63 114.1,624.03 114.61,623.66 115.12,624 115.63,624.03 116.14,624.04 116.65,624.14 117.16,623.99 117.68,624.16 118.19,624.68 118.7,624.16 119.21,624.52 119.72,624.31 120.23,624.51 120.74,624.66 121.25,624.75 121.76,624.72 122.27,624.85 122.79,625.06 123.3,624.45 123.81,624.5 124.32,624.35 124.83,624.65 125.34,624.8 125.85,624.66 126.36,625.25 126.87,624.78 127.38,625.02 127.9,625.29 128.41,625.3 128.92,625.03 129.43,625.31 129.94,625.15 130.45,625.04 130.96,625.26 131.47,625.54 131.98,625.23 132.49,625.5 133,625.52 133.52,625.59 134.03,625.46 134.54,625.76 135.05,625.26 135.56,625.01 136.07,625.56 136.58,625.3 137.09,625.14 137.6,626 138.12,625.94 138.63,625.37 139.14,625.38 139.65,625.6 140.16,626.08 140.67,625.89 141.18,625.51 141.69,625.53 142.2,625.64 142.71,626.23 143.23,625.67 143.74,626.15 144.25,625.88 144.76,626.44 145.27,625.72 145.78,626.09 146.29,626.01 146.8,626.51 147.31,626.17 147.82,626.23 148.34,626.25 148.85,626.49 149.36,626.18 149.87,626.56 150.38,626.63 150.89,626.78 151.4,626.33 151.91,626.89 152.42,626.81 152.93,626.98 153.44,626.49 153.96,626.59 154.47,626.63 154.98,627.12 155.49,626.79 156,626.9 156.51,627.17 157.02,627.29 157.53,626.42 158.04,627.26 158.56,627.13 159.07,627.2 159.58,626.94 160.09,627.45 160.6,627.13 161.11,627.26 161.62,626.87 162.13,627.67 162.64,627.41 163.15,627.3 163.67,626.9 164.18,627.35 164.69,627.43 165.2,627.29 165.71,627.67 166.22,627.95 166.73,627.57 167.24,627.24 167.75,627.45 168.26,627.93 168.78,627.59 169.29,627.49 169.8,628.08 170.31,627.82 170.82,628.08 171.33,628.23 171.84,628.24 172.35,628.36 172.86,628.28 173.37,628.61 173.88,628.33 174.4,628.66 174.91,628.1 175.42,628.29 175.93,628.88 176.44,628.22 176.95,628.81 177.46,628.61 177.97,628.6 178.48,628.86 179,628.95 179.51,628.88 180.02,629.21 180.53,628.6 181.04,629.34 181.55,628.75 182.06,629.36 182.57,629.34 183.08,629.32 183.59,629.7 184.11,629.67 184.62,629.52 185.13,629.5 185.64,629.16 186.15,629.11 186.66,630.03 187.17,629.64 187.68,630.07 188.19,629.51 188.7,630.01 189.22,629.54 189.73,629.92 190.24,630.36 190.75,630.53 191.26,630.36 191.77,629.85 192.28,630.57 192.79,630.32 193.3,630.48 193.81,630.56 194.32,630.2 194.84,630.79 195.35,630.39 195.86,630.49 196.37,630.3 196.88,630.74 197.39,630.41 197.9,630.89 198.41,630.81 198.92,630.8 199.44,630.64 199.95,630.63 200.46,631.38 200.97,631.4 201.48,631.07 201.99,630.86 202.5,631.15 203.01,631.4 203.52,630.83 204.03,631.48 204.55,631.71 205.06,631.78 205.57,631.84 206.08,631.24 206.59,631.84 207.1,631.32 207.61,631.24 208.12,631.18 208.63,631.41 209.14,631.82 209.66,631.7 210.17,631.56 210.68,631.72 211.19,632.17 211.7,631.8 212.21,632.45 212.72,632.33 213.23,631.75 213.74,632.29 214.25,632.53 214.77,632.12 215.28,632.48 215.79,632.95 216.3,632.98 216.81,632.83 217.32,632.82 217.83,632.31 218.34,632.99 218.85,632.49 219.36,632.53 219.88,632.98 220.39,632.5 220.9,632.76 221.41,633.06 221.92,633.31 222.43,633.18 222.94,632.82 223.45,633.2 223.96,633.56 224.47,633.45 224.99,633.4 225.5,633.71 226.01,633.41 226.52,633.95 227.03,633.28 227.54,633.91" fill="none" stroke="#333" stroke-width="0.7" stroke-linejoin="round" opacity="0.8"/>
<polyline points="104.9,615.36 105.41,614.21 105.92,617.64 106.43,618.82 106.94,620.76 107.46,621.48 107.97,622.32 108.48,623.01 108.99,623.31 109.5,624.53 110.01,624.83 110.52,625.78 111.03,626.38 111.54,626.82 112.05,627.02 112.57,627.8 113.08,628.92 113.59,628.96 114.1,629.37 114.61,628.99 115.12,629.33 115.63,629.37 116.14,629.38 116.65,629.48 117.16,629.32 117.68,629.49 118.19,630.01 118.7,629.5 119.21,629.86 119.72,629.64 120.23,629.84 120.74,630 121.25,630.08 121.76,630.05 122.27,630.19 122.79,630.4 123.3,629.78 123.81,629.83 124.32,629.69 124.83,629.99 125.34,630.14 125.85,629.99 126.36,630.58 126.87,630.11 127.38,630.35 127.9,630.63 128.41,630.63 128.92,630.37 129.43,630.64 129.94,630.48 130.45,630.38 130.96,630.6 131.47,630.87 131.98,630.57 132.49,630.83 133,630.86 133.52,630.93 134.03,630.8 134.54,631.09 135.05,630.59 135.56,630.35 136.07,630.9 136.58,630.64 137.09,630.48 137.6,631.33 138.12,631.28 138.63,630.71 139.14,630.72 139.65,630.94 140.16,631.41 140.67,631.22 141.18,630.84 141.69,630.86 142.2,630.98 142.71,631.56 143.23,631.01 143.74,631.48 144.25,631.21 144.76,631.78 145.27,631.05 145.78,631.43 146.29,631.35 146.8,631.84 147.31,631.5 147.82,631.56 148.34,631.58 148.85,631.82 149.36,631.51 149.87,631.9 150.38,631.97 150.89,632.11 151.4,631.67 151.91,632.22 152.42,632.14 152.93,632.32 153.44,631.82 153.96,631.93 154.47,631.97 154.98,632.46 155.49,632.12 156,632.24 156.51,632.5 157.02,632.62 157.53,631.75 158.04,632.59 158.56,632.47 159.07,632.53 159.58,632.27 160.09,632.78 160.6,632.46 161.11,632.6 161.62,632.21 162.13,633 162.64,632.74 163.15,632.63 163.67,632.24 164.18,632.69 164.69,632.76 165.2,632.62 165.71,633 166.22,633.28 166.73,632.9 167.24,632.58 167.75,632.78 168.26,633.27 168.78,632.93 169.29,632.82 169.8,633.41 170.31,633.16 170.82,633.42 171.33,633.57 171.84,633.57 172.35,633.7 172.86,633.61 173.37,633.94 173.88,633.66 174.4,634 174.91,633.43 175.42,633.62 175.93,634.21 176.44,633.56 176.95,634.15 177.46,633.94 177.97,633.93 178.48,634.19 179,634.29 179.51,634.21 180.02,634.54 180.53,633.93 181.04,634.68 181.55,634.08 182.06,634.69 182.57,634.67 183.08,634.65 183.59,635.03 184.11,635.01 184.62,634.85 185.13,634.83 185.64,634.49 186.15,634.45 186.66,635.37 187.17,634.98 187.68,635.4 188.19,634.84 188.7,635.34 189.22,634.88 189.73,635.25 190.24,635.69 190.75,635.86 191.26,635.7 191.77,635.19 192.28,635.9 192.79,635.66 193.3,635.81 193.81,635.89 194.32,635.53 194.84,636.13 195.35,635.72 195.86,635.83 196.37,635.64 196.88,636.08 197.39,635.75 197.9,636.22 198.41,636.14 198.92,636.14 199.44,635.97 199.95,635.96 200.46,636.71 200.97,636.73 201.48,636.41 201.99,636.19 202.5,636.48 203.01,636.73 203.52,636.17 204.03,636.81 204.55,637.04 205.06,637.11 205.57,637.17 206.08,636.57 206.59,637.18 207.1,636.66 207.61,636.58 208.12,636.51 208.63,636.74 209.14,637.15 209.66,637.03 210.17,636.89 210.68,637.06 211.19,637.5 211.7,637.13 212.21,637.78 212.72,637.66 213.23,637.09 213.74,637.63 214.25,637.87 214.77,637.45 215.28,637.82 215.79,638.28 216.3,638.32 216.81,638.16 217.32,638.15 217.83,637.65 218.34,638.33 218.85,637.82 219.36,637.87 219.88,638.31 220.39,637.83 220.9,638.09 221.41,638.39 221.92,638.65 222.43,638.51 222.94,638.16 223.45,638.54 223.96,638.9 224.47,638.78 224.99,638.74 225.5,639.04 226.01,638.74 226.52,639.28 227.03,638.61 227.54,639.25" fill="none" stroke="#333" stroke-width="0.7" stroke-linejoin="round" opacity="0.8"/>
<polyline points="104.9,612.69 105.41,611.54 105.92,614.97 106.43,616.15 106.94,618.09 107.46,618.81 107.97,619.65 108.48,620.34 108.99,620.64 109.5,621.86 110.01,622.16 110.52,623.12 111.03,623.71 111.54,624.16 112.05,624.36 112.57,625.14 113.08,626.25 113.59,626.3 114.1,626.7 114.61,626.32 115.12,626.67 115.63,626.7 116.14,626.71 116.65,626.81 117.16,626.65 117.68,626.82 118.19,627.34 118.7,626.83 119.21,627.19 119.72,626.97 120.23,627.18 120.74,627.33 121.25,627.42 121.76,627.39 122.27,627.52 122.79,627.73 123.3,627.11 123.81,627.16 124.32,627.02 124.83,627.32 125.34,627.47 125.85,627.32 126.36,627.91 126.87,627.45 127.38,627.69 127.9,627.96 128.41,627.96 128.92,627.7 129.43,627.98 129.94,627.82 130.45,627.71 130.96,627.93 131.47,628.2 131.98,627.9 132.49,628.16 133,628.19 133.52,628.26 134.03,628.13 134.54,628.43 135.05,627.93 135.56,627.68 136.07,628.23 136.58,627.97 137.09,627.81 137.6,628.66 138.12,628.61 138.63,628.04 139.14,628.05 139.65,628.27 140.16,628.75 140.67,628.55 141.18,628.18 141.69,628.2 142.2,628.31 142.71,628.9 143.23,628.34 143.74,628.82 144.25,628.54 144.76,629.11 145.27,628.39 145.78,628.76 146.29,628.68 146.8,629.18 147.31,628.83 147.82,628.9 148.34,628.91 148.85,629.16 149.36,628.85 149.87,629.23 150.38,629.3 150.89,629.45 151.4,629 151.91,629.55 152.42,629.48 152.93,629.65 153.44,629.15 153.96,629.26 154.47,629.3 154.98,629.79 155.49,629.45 156,629.57 156.51,629.84 157.02,629.96 157.53,629.09 158.04,629.92 158.56,629.8 159.07,629.87 159.58,629.6 160.09,630.12 160.6,629.8 161.11,629.93 161.62,629.54 162.13,630.34 162.64,630.07 163.15,629.96 163.67,629.57 164.18,630.02 164.69,630.1 165.2,629.96 165.71,630.34 166.22,630.62 166.73,630.23 167.24,629.91 167.75,630.11 168.26,630.6 168.78,630.26 169.29,630.16 169.8,630.74 170.31,630.49 170.82,630.75 171.33,630.9 171.84,630.91 172.35,631.03 172.86,630.94 173.37,631.28 173.88,631 174.4,631.33 174.91,630.76 175.42,630.95 175.93,631.55 176.44,630.89 176.95,631.48 177.46,631.27 177.97,631.26 178.48,631.52 179,631.62 179.51,631.54 180.02,631.87 180.53,631.27 181.04,632.01 181.55,631.42 182.06,632.03 182.57,632.01 183.08,631.99 183.59,632.37 184.11,632.34 184.62,632.18 185.13,632.17 185.64,631.83 186.15,631.78 186.66,632.7 187.17,632.31 187.68,632.74 188.19,632.18 188.7,632.67 189.22,632.21 189.73,632.59 190.24,633.03 190.75,633.19 191.26,633.03 191.77,632.52 192.28,633.23 192.79,632.99 193.3,633.14 193.81,633.23 194.32,632.87 194.84,633.46 195.35,633.06 195.86,633.16 196.37,632.97 196.88,633.41 197.39,633.08 197.9,633.56 198.41,633.47 198.92,633.47 199.44,633.31 199.95,633.29 200.46,634.05 200.97,634.06 201.48,633.74 201.99,633.52 202.5,633.82 203.01,634.07 203.52,633.5 204.03,634.15 204.55,634.38 205.06,634.45 205.57,634.5 206.08,633.91 206.59,634.51 207.1,633.99 207.61,633.91 208.12,633.85 208.63,634.08 209.14,634.49 209.66,634.36 210.17,634.23 210.68,634.39 211.19,634.84 211.7,634.46 212.21,635.12 212.72,634.99 213.23,634.42 213.74,634.96 214.25,635.2 214.77,634.79 215.28,635.15 215.79,635.61 216.3,635.65 216.81,635.5 217.32,635.49 217.83,634.98 218.34,635.66 218.85,635.15 219.36,635.2 219.88,635.65 220.39,635.17 220.9,635.43 221.41,635.73 221.92,635.98 222.43,635.84 222.94,635.49 223.45,635.87 223.96,636.23 224.47,636.11 224.99,636.07 225.5,636.38 226.01,636.07 226.52,636.62 227.03,635.94 227.54,636.58" fill="none" stroke="#111" stroke-width="1.4" stroke-linejoin="round"/>
<line x1="105.21" y1="606" x2="105.21" y2="618.57" stroke="#222" stroke-width="0.9"/>
<circle cx="207.9" cy="567.6" r="2.7" fill="#000"/>
<text x="221.6" y="570.8" font-size="9.6" textLength="14.5" lengthAdjust="spacingAndGlyphs">WT</text>
<circle cx="207.9" cy="579.5" r="2.7" fill="#4a5cc4"/>
<text x="221.6" y="582.7" font-size="9.6" textLength="28.1" lengthAdjust="spacingAndGlyphs">ATase1</text>
<circle cx="207.9" cy="592.3" r="2.7" fill="#9b4bb5"/>
<text x="221.6" y="595.5" font-size="9.6" textLength="28.1" lengthAdjust="spacingAndGlyphs">ATase2</text>
<line x1="232" y1="621.7" x2="232" y2="637.8" stroke="#000" stroke-width="1.4"/>
<text x="235.77" y="636.64" font-size="11.5" text-rendering="geometricPrecision" style="font-family:'DejaVu Sans', sans-serif">*</text>
<line x1="246.8" y1="612.2" x2="246.8" y2="637.8" stroke="#000" stroke-width="1.4"/>
<text x="250.97" y="631.54" font-size="11.5" text-rendering="geometricPrecision" style="font-family:'DejaVu Sans', sans-serif">*</text>
<text x="284" y="546.9" font-size="13.2" textLength="10.64" lengthAdjust="spacingAndGlyphs">h</text>
<text x="358.9" y="555.6" font-size="12.1" textLength="107.2" lengthAdjust="spacingAndGlyphs">Long-term depression</text>
<line x1="321.1" y1="565.67" x2="321.1" y2="689.02" stroke="#000" stroke-width="1.45"/>
<line x1="316.1" y1="688.3" x2="321.1" y2="688.3" stroke="#000" stroke-width="1.45"/>
<text x="315.3" y="691.63" font-size="9.8" text-anchor="end" textLength="5.15" lengthAdjust="spacingAndGlyphs">0</text>
<line x1="316.1" y1="647.65" x2="321.1" y2="647.65" stroke="#000" stroke-width="1.45"/>
<text x="315.3" y="650.98" font-size="9.8" text-anchor="end" textLength="10.29" lengthAdjust="spacingAndGlyphs">50</text>
<line x1="316.1" y1="607" x2="321.1" y2="607" stroke="#000" stroke-width="1.45"/>
<text x="315.3" y="610.33" font-size="9.8" text-anchor="end" textLength="15.44" lengthAdjust="spacingAndGlyphs">100</text>
<line x1="316.1" y1="566.35" x2="321.1" y2="566.35" stroke="#000" stroke-width="1.45"/>
<text x="315.3" y="569.68" font-size="9.8" text-anchor="end" textLength="15.44" lengthAdjust="spacingAndGlyphs">150</text>
<line x1="320.45" y1="688.3" x2="501.3" y2="688.3" stroke="#000" stroke-width="1.3"/>
<line x1="342.4" y1="688.3" x2="342.4" y2="693.6" stroke="#000" stroke-width="1.3"/>
<text x="342.4" y="704" font-size="9.8" text-anchor="middle" textLength="4.9" lengthAdjust="spacingAndGlyphs">0</text>
<line x1="395.4" y1="688.3" x2="395.4" y2="693.6" stroke="#000" stroke-width="1.3"/>
<text x="395.4" y="704" font-size="9.8" text-anchor="middle" textLength="9.8" lengthAdjust="spacingAndGlyphs">50</text>
<line x1="448.4" y1="688.3" x2="448.4" y2="693.6" stroke="#000" stroke-width="1.3"/>
<text x="448.4" y="704" font-size="9.8" text-anchor="middle" textLength="14.7" lengthAdjust="spacingAndGlyphs">100</text>
<line x1="501.4" y1="688.3" x2="501.4" y2="693.6" stroke="#000" stroke-width="1.3"/>
<text x="501.4" y="704" font-size="9.8" text-anchor="middle" textLength="14.7" lengthAdjust="spacingAndGlyphs">150</text>
<line x1="368.9" y1="688.3" x2="368.9" y2="691.5" stroke="#000" stroke-width="1.2"/>
<line x1="421.9" y1="688.3" x2="421.9" y2="691.5" stroke="#000" stroke-width="1.2"/>
<line x1="474.9" y1="688.3" x2="474.9" y2="691.5" stroke="#000" stroke-width="1.2"/>
<text x="387.3" y="718.3" font-size="10.8" textLength="49.3" lengthAdjust="spacingAndGlyphs">Time (min)</text>
<text x="297" y="687.5" font-size="10.2" transform="rotate(-90 297 687.5)" textLength="119.5" lengthAdjust="spacingAndGlyphs">Change in fEPSP slope (%)</text>
<polyline points="321.2,606.62 321.73,605.94 322.26,606.01 322.79,606.21 323.32,606.56 323.85,605.81 324.38,605.79 324.91,606.17 325.44,606.18 325.97,606.53 326.5,606.83 327.03,606.35 327.56,606.08 328.09,606.75 328.62,605.8 329.15,606.54 329.68,606.53 330.21,606.78 330.74,605.54 331.27,605.88 331.8,605.7 332.33,606.04 332.86,606.79 333.39,606.41 333.92,606.19 334.45,606.69 334.98,605.6 335.51,606.36 336.04,606.64 336.57,605.77 337.1,606.67 337.63,605.63 338.16,606.25 338.69,606.12 339.22,606.39 339.75,606.21 340.28,606.59 340.81,606.79 341.34,605.71 341.87,606.53" fill="none" stroke="#1a1a4a" stroke-width="1.6" stroke-linejoin="round"/>
<polyline points="321.2,604.95 322.26,606.28 323.32,606.47 324.38,604.89 325.44,606.21 326.5,606.32 327.56,605.45 328.62,605.95 329.68,605.07 330.74,606.14 331.8,604.95 332.86,605.99 333.92,605.53 334.98,605 336.04,605.4 337.1,605.01 338.16,605.36 339.22,606.43 340.28,605.08 341.34,605.55" fill="none" stroke="#5a5ac0" stroke-width="0.6" stroke-linejoin="round"/>
<polygon points="342.4,639.18 342.93,636.65 343.46,633.93 343.99,632.43 344.52,631.74 345.05,631.5 345.58,631.11 346.11,630.33 346.64,630.65 347.17,629.8 347.7,629.61 348.23,630 348.76,629.49 349.29,629.45 349.82,629.36 350.35,628.67 350.88,629.43 351.41,629.38 351.94,628.36 352.47,628.76 353,628.84 353.53,628.59 354.06,628.43 354.59,627.73 355.12,628.34 355.65,628.21 356.18,627.73 356.71,627.64 357.24,627.13 357.77,627.12 358.3,627.47 358.83,627.49 359.36,626.75 359.89,626.48 360.42,627.3 360.95,626.49 361.48,626.23 362.01,626.32 362.54,626.62 363.07,625.94 363.6,625.88 364.13,626.3 364.66,625.76 365.19,626.07 365.72,626.15 366.25,625.76 366.78,625.66 367.31,625.5 367.84,625.15 368.37,624.86 368.9,624.64 369.43,624.52 369.96,624.4 370.49,624.5 371.02,624.87 371.55,624.9 372.08,624.36 372.61,624.33 373.14,624.11 373.67,624.57 374.2,624.37 374.73,623.64 375.26,623.93 375.79,623.82 376.32,624.39 376.85,624.07 377.38,623.55 377.91,623.79 378.44,623.43 378.97,624.19 379.5,623.91 380.03,623.56 380.56,623.88 381.09,623.53 381.62,623.73 382.15,624.14 382.68,624.14 383.21,623.26 383.74,624.08 384.27,623.99 384.8,623.83 385.33,623.46 385.86,623.33 386.39,623.7 386.92,623.68 387.45,623.4 387.98,623.9 388.51,623.81 389.04,623.58 389.57,623.56 390.1,624.14 390.63,624.07 391.16,624.05 391.69,623.48 392.22,623.51 392.75,623.24 393.28,623.45 393.81,623.95 394.34,623.45 394.87,623.24 395.4,623.86 395.93,624.2 396.46,623.84 396.99,623.94 397.52,624.04 398.05,624.17 398.58,624.1 399.11,623.38 399.64,624.18 400.17,623.63 400.7,624.03 401.23,624.04 401.76,623.43 402.29,623.95 402.82,624.06 403.35,623.8 403.88,623.57 404.41,623.74 404.94,623.41 405.47,623.86 406,623.74 406.53,623.56 407.06,623.81 407.59,623.56 408.12,623.81 408.65,624.14 409.18,624.15 409.71,623.51 410.24,623.55 410.77,623.36 411.3,623.61 411.83,623.72 412.36,624.12 412.89,623.46 413.42,624.18 413.95,623.88 414.48,624.16 415.01,623.93 415.54,624 416.07,623.89 416.6,623.61 417.13,623.78 417.66,624.07 418.19,623.55 418.72,623.6 419.25,623.51 419.78,624.29 420.31,623.72 420.84,623.45 421.37,624.08 421.9,624.13 422.43,623.54 422.96,623.98 423.49,623.95 424.02,623.54 424.55,623.97 425.08,624.15 425.61,624.14 426.14,624.02 426.67,623.67 427.2,624 427.73,623.61 428.26,624.3 428.79,624.12 429.32,623.76 429.85,623.9 430.38,623.89 430.91,623.46 431.44,624.11 431.97,624.2 432.5,624.35 433.03,623.91 433.56,624.1 434.09,623.93 434.62,624.39 435.15,624.4 435.68,624.03 436.21,623.66 436.74,624.11 437.27,623.52 437.8,623.84 438.33,624.02 438.86,623.66 439.39,624.19 439.92,623.83 440.45,623.6 440.98,623.9 441.51,624.11 442.04,624.34 442.57,623.87 443.1,624.25 443.63,624.07 444.16,623.91 444.69,623.52 445.22,623.79 445.75,623.94 446.28,623.61 446.81,624.15 447.34,624.08 447.87,623.8 448.4,623.92 448.93,624.25 449.46,624.06 449.99,623.66 450.52,624.23 451.05,623.78 451.58,624.43 452.11,623.55 452.64,623.81 453.17,624.17 453.7,623.53 454.23,623.71 454.76,624.43 455.29,624.25 455.82,624.02 456.35,623.52 456.88,624.36 457.41,624.46 457.94,624.2 458.47,624.46 459,624.11 459.53,623.99 460.06,624.09 460.59,624.38 461.12,624.5 461.65,623.74 462.18,624.1 462.71,624.06 463.24,624.06 463.77,623.86 464.3,623.66 464.83,623.73 465.36,623.83 465.89,624.21 466.42,624.38 466.95,624.46 467.48,623.71 468.01,624.5 468.54,624 469.07,623.67 469.6,624.25 469.6,637.25 469.07,636.68 468.54,637.01 468.01,637.51 467.48,636.72 466.95,637.47 466.42,637.39 465.89,637.22 465.36,636.84 464.83,636.74 464.3,636.66 463.77,636.87 463.24,637.07 462.71,637.07 462.18,637.1 461.65,636.75 461.12,637.51 460.59,637.39 460.06,637.09 459.53,637 459,637.12 458.47,637.47 457.94,637.21 457.41,637.46 456.88,637.37 456.35,636.53 455.82,637.02 455.29,637.26 454.76,637.44 454.23,636.72 453.7,636.53 453.17,637.17 452.64,636.82 452.11,636.55 451.58,637.44 451.05,636.79 450.52,637.24 449.99,636.67 449.46,637.07 448.93,637.25 448.4,636.93 447.87,636.8 447.34,637.08 446.81,637.16 446.28,636.62 445.75,636.95 445.22,636.79 444.69,636.53 444.16,636.92 443.63,637.08 443.1,637.26 442.57,636.88 442.04,637.34 441.51,637.12 440.98,636.9 440.45,636.6 439.92,636.84 439.39,637.2 438.86,636.66 438.33,637.03 437.8,636.85 437.27,636.52 436.74,637.12 436.21,636.67 435.68,637.04 435.15,637.4 434.62,637.4 434.09,636.94 433.56,637.11 433.03,636.92 432.5,637.36 431.97,637.21 431.44,637.12 430.91,636.47 430.38,636.89 429.85,636.91 429.32,636.77 428.79,637.13 428.26,637.31 427.73,636.62 427.2,637.01 426.67,636.68 426.14,637.02 425.61,637.15 425.08,637.16 424.55,636.98 424.02,636.55 423.49,636.96 422.96,636.99 422.43,636.55 421.9,637.14 421.37,637.09 420.84,636.46 420.31,636.73 419.78,637.3 419.25,636.52 418.72,636.61 418.19,636.56 417.66,637.08 417.13,636.79 416.6,636.62 416.07,636.9 415.54,637.01 415.01,636.94 414.48,637.17 413.95,636.89 413.42,637.18 412.89,636.46 412.36,637.13 411.83,636.73 411.3,636.62 410.77,636.37 410.24,636.56 409.71,636.52 409.18,637.16 408.65,637.15 408.12,636.82 407.59,636.57 407.06,636.82 406.53,636.57 406,636.75 405.47,636.87 404.94,636.42 404.41,636.74 403.88,636.58 403.35,636.81 402.82,637.07 402.29,636.95 401.76,636.44 401.23,637.05 400.7,637.04 400.17,636.64 399.64,637.18 399.11,636.39 398.58,637.11 398.05,637.18 397.52,637.05 396.99,636.95 396.46,636.85 395.93,637.2 395.4,636.87 394.87,636.25 394.34,636.46 393.81,636.96 393.28,636.45 392.75,636.25 392.22,636.52 391.69,636.49 391.16,637.06 390.63,637.08 390.1,637.15 389.57,636.56 389.04,636.58 388.51,636.82 387.98,636.91 387.45,636.41 386.92,636.69 386.39,636.71 385.86,636.33 385.33,636.47 384.8,636.84 384.27,636.99 383.74,637.09 383.21,636.26 382.68,637.15 382.15,637.15 381.62,636.74 381.09,636.53 380.56,636.89 380.03,636.56 379.5,636.92 378.97,637.19 378.44,636.44 377.91,636.79 377.38,636.56 376.85,637.08 376.32,637.39 375.79,636.83 375.26,636.94 374.73,636.65 374.2,637.38 373.67,637.58 373.14,637.11 372.61,637.34 372.08,637.37 371.55,637.9 371.02,637.88 370.49,637.51 369.96,637.41 369.43,637.53 368.9,637.65 368.37,637.87 367.84,638.16 367.31,638.5 366.78,638.67 366.25,638.77 365.72,639.15 365.19,639.08 364.66,638.77 364.13,639.31 363.6,638.89 363.07,638.95 362.54,639.63 362.01,639.33 361.48,639.24 360.95,639.49 360.42,640.3 359.89,639.49 359.36,639.76 358.83,640.5 358.3,640.47 357.77,640.12 357.24,640.13 356.71,640.65 356.18,640.74 355.65,641.22 355.12,641.35 354.59,640.74 354.06,641.44 353.53,641.6 353,641.85 352.47,641.77 351.94,641.37 351.41,642.39 350.88,642.44 350.35,641.68 349.82,642.37 349.29,642.46 348.76,642.49 348.23,643 347.7,642.61 347.17,642.81 346.64,643.66 346.11,643.33 345.58,644.12 345.05,644.51 344.52,644.75 343.99,645.44 343.46,646.94 342.93,649.65 342.4,652.19" fill="#c0c0c0" opacity="0.8"/>
<polyline points="342.4,639.18 342.93,636.65 343.46,633.93 343.99,632.43 344.52,631.74 345.05,631.5 345.58,631.11 346.11,630.33 346.64,630.65 347.17,629.8 347.7,629.61 348.23,630 348.76,629.49 349.29,629.45 349.82,629.36 350.35,628.67 350.88,629.43 351.41,629.38 351.94,628.36 352.47,628.76 353,628.84 353.53,628.59 354.06,628.43 354.59,627.73 355.12,628.34 355.65,628.21 356.18,627.73 356.71,627.64 357.24,627.13 357.77,627.12 358.3,627.47 358.83,627.49 359.36,626.75 359.89,626.48 360.42,627.3 360.95,626.49 361.48,626.23 362.01,626.32 362.54,626.62 363.07,625.94 363.6,625.88 364.13,626.3 364.66,625.76 365.19,626.07 365.72,626.15 366.25,625.76 366.78,625.66 367.31,625.5 367.84,625.15 368.37,624.86 368.9,624.64 369.43,624.52 369.96,624.4 370.49,624.5 371.02,624.87 371.55,624.9 372.08,624.36 372.61,624.33 373.14,624.11 373.67,624.57 374.2,624.37 374.73,623.64 375.26,623.93 375.79,623.82 376.32,624.39 376.85,624.07 377.38,623.55 377.91,623.79 378.44,623.43 378.97,624.19 379.5,623.91 380.03,623.56 380.56,623.88 381.09,623.53 381.62,623.73 382.15,624.14 382.68,624.14 383.21,623.26 383.74,624.08 384.27,623.99 384.8,623.83 385.33,623.46 385.86,623.33 386.39,623.7 386.92,623.68 387.45,623.4 387.98,623.9 388.51,623.81 389.04,623.58 389.57,623.56 390.1,624.14 390.63,624.07 391.16,624.05 391.69,623.48 392.22,623.51 392.75,623.24 393.28,623.45 393.81,623.95 394.34,623.45 394.87,623.24 395.4,623.86 395.93,624.2 396.46,623.84 396.99,623.94 397.52,624.04 398.05,624.17 398.58,624.1 399.11,623.38 399.64,624.18 400.17,623.63 400.7,624.03 401.23,624.04 401.76,623.43 402.29,623.95 402.82,624.06 403.35,623.8 403.88,623.57 404.41,623.74 404.94,623.41 405.47,623.86 406,623.74 406.53,623.56 407.06,623.81 407.59,623.56 408.12,623.81 408.65,624.14 409.18,624.15 409.71,623.51 410.24,623.55 410.77,623.36 411.3,623.61 411.83,623.72 412.36,624.12 412.89,623.46 413.42,624.18 413.95,623.88 414.48,624.16 415.01,623.93 415.54,624 416.07,623.89 416.6,623.61 417.13,623.78 417.66,624.07 418.19,623.55 418.72,623.6 419.25,623.51 419.78,624.29 420.31,623.72 420.84,623.45 421.37,624.08 421.9,624.13 422.43,623.54 422.96,623.98 423.49,623.95 424.02,623.54 424.55,623.97 425.08,624.15 425.61,624.14 426.14,624.02 426.67,623.67 427.2,624 427.73,623.61 428.26,624.3 428.79,624.12 429.32,623.76 429.85,623.9 430.38,623.89 430.91,623.46 431.44,624.11 431.97,624.2 432.5,624.35 433.03,623.91 433.56,624.1 434.09,623.93 434.62,624.39 435.15,624.4 435.68,624.03 436.21,623.66 436.74,624.11 437.27,623.52 437.8,623.84 438.33,624.02 438.86,623.66 439.39,624.19 439.92,623.83 440.45,623.6 440.98,623.9 441.51,624.11 442.04,624.34 442.57,623.87 443.1,624.25 443.63,624.07 444.16,623.91 444.69,623.52 445.22,623.79 445.75,623.94 446.28,623.61 446.81,624.15 447.34,624.08 447.87,623.8 448.4,623.92 448.93,624.25 449.46,624.06 449.99,623.66 450.52,624.23 451.05,623.78 451.58,624.43 452.11,623.55 452.64,623.81 453.17,624.17 453.7,623.53 454.23,623.71 454.76,624.43 455.29,624.25 455.82,624.02 456.35,623.52 456.88,624.36 457.41,624.46 457.94,624.2 458.47,624.46 459,624.11 459.53,623.99 460.06,624.09 460.59,624.38 461.12,624.5 461.65,623.74 462.18,624.1 462.71,624.06 463.24,624.06 463.77,623.86 464.3,623.66 464.83,623.73 465.36,623.83 465.89,624.21 466.42,624.38 466.95,624.46 467.48,623.71 468.01,624.5 468.54,624 469.07,623.67 469.6,624.25" fill="none" stroke="#999" stroke-width="0.7" stroke-linejoin="round" opacity="0.8"/>
<polyline points="342.4,652.19 342.93,649.65 343.46,646.94 343.99,645.44 344.52,644.75 345.05,644.51 345.58,644.12 346.11,643.33 346.64,643.66 347.17,642.81 347.7,642.61 348.23,643 348.76,642.49 349.29,642.46 349.82,642.37 350.35,641.68 350.88,642.44 351.41,642.39 351.94,641.37 352.47,641.77 353,641.85 353.53,641.6 354.06,641.44 354.59,640.74 355.12,641.35 355.65,641.22 356.18,640.74 356.71,640.65 357.24,640.13 357.77,640.12 358.3,640.47 358.83,640.5 359.36,639.76 359.89,639.49 360.42,640.3 360.95,639.49 361.48,639.24 362.01,639.33 362.54,639.63 363.07,638.95 363.6,638.89 364.13,639.31 364.66,638.77 365.19,639.08 365.72,639.15 366.25,638.77 366.78,638.67 367.31,638.5 367.84,638.16 368.37,637.87 368.9,637.65 369.43,637.53 369.96,637.41 370.49,637.51 371.02,637.88 371.55,637.9 372.08,637.37 372.61,637.34 373.14,637.11 373.67,637.58 374.2,637.38 374.73,636.65 375.26,636.94 375.79,636.83 376.32,637.39 376.85,637.08 377.38,636.56 377.91,636.79 378.44,636.44 378.97,637.19 379.5,636.92 380.03,636.56 380.56,636.89 381.09,636.53 381.62,636.74 382.15,637.15 382.68,637.15 383.21,636.26 383.74,637.09 384.27,636.99 384.8,636.84 385.33,636.47 385.86,636.33 386.39,636.71 386.92,636.69 387.45,636.41 387.98,636.91 388.51,636.82 389.04,636.58 389.57,636.56 390.1,637.15 390.63,637.08 391.16,637.06 391.69,636.49 392.22,636.52 392.75,636.25 393.28,636.45 393.81,636.96 394.34,636.46 394.87,636.25 395.4,636.87 395.93,637.2 396.46,636.85 396.99,636.95 397.52,637.05 398.05,637.18 398.58,637.11 399.11,636.39 399.64,637.18 400.17,636.64 400.7,637.04 401.23,637.05 401.76,636.44 402.29,636.95 402.82,637.07 403.35,636.81 403.88,636.58 404.41,636.74 404.94,636.42 405.47,636.87 406,636.75 406.53,636.57 407.06,636.82 407.59,636.57 408.12,636.82 408.65,637.15 409.18,637.16 409.71,636.52 410.24,636.56 410.77,636.37 411.3,636.62 411.83,636.73 412.36,637.13 412.89,636.46 413.42,637.18 413.95,636.89 414.48,637.17 415.01,636.94 415.54,637.01 416.07,636.9 416.6,636.62 417.13,636.79 417.66,637.08 418.19,636.56 418.72,636.61 419.25,636.52 419.78,637.3 420.31,636.73 420.84,636.46 421.37,637.09 421.9,637.14 422.43,636.55 422.96,636.99 423.49,636.96 424.02,636.55 424.55,636.98 425.08,637.16 425.61,637.15 426.14,637.02 426.67,636.68 427.2,637.01 427.73,636.62 428.26,637.31 428.79,637.13 429.32,636.77 429.85,636.91 430.38,636.89 430.91,636.47 431.44,637.12 431.97,637.21 432.5,637.36 433.03,636.92 433.56,637.11 434.09,636.94 434.62,637.4 435.15,637.4 435.68,637.04 436.21,636.67 436.74,637.12 437.27,636.52 437.8,636.85 438.33,637.03 438.86,636.66 439.39,637.2 439.92,636.84 440.45,636.6 440.98,636.9 441.51,637.12 442.04,637.34 442.57,636.88 443.1,637.26 443.63,637.08 444.16,636.92 444.69,636.53 445.22,636.79 445.75,636.95 446.28,636.62 446.81,637.16 447.34,637.08 447.87,636.8 448.4,636.93 448.93,637.25 449.46,637.07 449.99,636.67 450.52,637.24 451.05,636.79 451.58,637.44 452.11,636.55 452.64,636.82 453.17,637.17 453.7,636.53 454.23,636.72 454.76,637.44 455.29,637.26 455.82,637.02 456.35,636.53 456.88,637.37 457.41,637.46 457.94,637.21 458.47,637.47 459,637.12 459.53,637 460.06,637.09 460.59,637.39 461.12,637.51 461.65,636.75 462.18,637.1 462.71,637.07 463.24,637.07 463.77,636.87 464.3,636.66 464.83,636.74 465.36,636.84 465.89,637.22 466.42,637.39 466.95,637.47 467.48,636.72 468.01,637.51 468.54,637.01 469.07,636.68 469.6,637.25" fill="none" stroke="#999" stroke-width="0.7" stroke-linejoin="round" opacity="0.8"/>
<polygon points="342.4,639.93 342.93,637.77 343.46,635.65 343.99,634.05 344.52,633.43 345.05,632.94 345.58,633.27 346.11,632.6 346.64,632 347.17,632.05 347.7,631.36 348.23,631.3 348.76,631.68 349.29,631.92 349.82,631.06 350.35,631.55 350.88,631.54 351.41,630.72 351.94,630.49 352.47,630.37 353,630.13 353.53,630.75 354.06,630.74 354.59,630.58 355.12,629.62 355.65,630.35 356.18,630.18 356.71,630.19 357.24,630.04 357.77,629.93 358.3,629.5 358.83,629.56 359.36,629.3 359.89,628.57 360.42,629.19 360.95,628.44 361.48,628.39 362.01,628.44 362.54,628.31 363.07,628 363.6,628.05 364.13,628.28 364.66,628.06 365.19,628.02 365.72,627.75 366.25,627.05 366.78,627.48 367.31,627.7 367.84,627.19 368.37,626.74 368.9,626.97 369.43,626.6 369.96,627.07 370.49,626.98 371.02,626.27 371.55,626.75 372.08,626.38 372.61,626.18 373.14,626.24 373.67,626.27 374.2,626.18 374.73,625.25 375.26,625.49 375.79,625.22 376.32,625.66 376.85,625.19 377.38,625.27 377.91,625.5 378.44,625.58 378.97,625.58 379.5,625.84 380.03,625.69 380.56,625.34 381.09,625.84 381.62,625.19 382.15,625.51 382.68,625.4 383.21,625.18 383.74,625.34 384.27,625.82 384.8,625.7 385.33,625.94 385.86,625.92 386.39,625.02 386.92,625.37 387.45,625.01 387.98,625.19 388.51,625.65 389.04,625.01 389.57,625.06 390.1,625.51 390.63,625.88 391.16,625.65 391.69,625.8 392.22,625.61 392.75,625.89 393.28,625.27 393.81,625.01 394.34,625.76 394.87,625.21 395.4,625.4 395.93,625.5 396.46,625.09 396.99,625.61 397.52,625.18 398.05,625.95 398.58,625.04 399.11,625.81 399.64,625.98 400.17,625.13 400.7,625.28 401.23,625.33 401.76,625.24 402.29,625.63 402.82,625.88 403.35,625.69 403.88,625.07 404.41,625.04 404.94,625.78 405.47,625.57 406,625.56 406.53,625.12 407.06,626 407.59,625.2 408.12,625.76 408.65,625.48 409.18,625.89 409.71,625.93 410.24,625.15 410.77,625.53 411.3,625.07 411.83,625.18 412.36,625.29 412.89,625.95 413.42,625.45 413.95,625.06 414.48,625.54 415.01,625.97 415.54,625.85 416.07,625.07 416.6,625.08 417.13,625.79 417.66,625.73 418.19,625.34 418.72,625.55 419.25,625.86 419.78,625.08 420.31,625.44 420.84,625.69 421.37,626.03 421.9,625.55 422.43,625.32 422.96,625.88 423.49,625.97 424.02,625.35 424.55,625.16 425.08,625.69 425.61,625.6 426.14,625.44 426.67,625.56 427.2,625.94 427.73,625.8 428.26,625.87 428.79,625.88 429.32,625.98 429.85,625.69 430.38,625.86 430.91,625.25 431.44,625.76 431.97,625.14 432.5,625.29 433.03,625.82 433.56,625.93 434.09,625.53 434.62,625.62 435.15,625.57 435.68,625.97 436.21,625.57 436.74,625.35 437.27,625.66 437.8,625.85 438.33,625.2 438.86,625.81 439.39,625.13 439.92,625.43 440.45,626.1 440.98,625.67 441.51,625.96 442.04,625.34 442.57,625.7 443.1,626.03 443.63,625.18 444.16,625.33 444.69,625.52 445.22,625.56 445.75,626.05 446.28,625.16 446.81,625.83 447.34,625.61 447.87,625.65 448.4,625.66 448.93,626.11 449.46,625.26 449.99,625.65 450.52,625.75 451.05,625.29 451.58,625.3 452.11,625.44 452.64,625.25 453.17,625.8 453.7,626.04 454.23,625.8 454.76,625.56 455.29,625.38 455.82,625.43 456.35,625.53 456.88,625.56 457.41,625.5 457.94,625.59 458.47,626.14 459,625.62 459.53,625.89 460.06,626.09 460.59,625.56 461.12,625.34 461.65,625.89 462.18,625.51 462.71,625.56 463.24,625.5 463.77,625.32 464.3,625.49 464.83,626.1 465.36,625.57 465.89,625.84 466.42,625.77 466.95,625.52 467.48,626.01 468.01,625.57 468.54,625.27 469.07,626.11 469.6,625.36 469.6,633.49 469.07,634.24 468.54,633.4 468.01,633.7 467.48,634.14 466.95,633.65 466.42,633.9 465.89,633.97 465.36,633.7 464.83,634.23 464.3,633.62 463.77,633.45 463.24,633.63 462.71,633.69 462.18,633.64 461.65,634.02 461.12,633.47 460.59,633.69 460.06,634.22 459.53,634.02 459,633.75 458.47,634.27 457.94,633.72 457.41,633.63 456.88,633.69 456.35,633.66 455.82,633.56 455.29,633.51 454.76,633.69 454.23,633.93 453.7,634.17 453.17,633.93 452.64,633.38 452.11,633.57 451.58,633.43 451.05,633.42 450.52,633.88 449.99,633.78 449.46,633.39 448.93,634.24 448.4,633.79 447.87,633.78 447.34,633.74 446.81,633.96 446.28,633.29 445.75,634.18 445.22,633.69 444.69,633.65 444.16,633.46 443.63,633.31 443.1,634.16 442.57,633.83 442.04,633.47 441.51,634.09 440.98,633.8 440.45,634.23 439.92,633.56 439.39,633.26 438.86,633.94 438.33,633.33 437.8,633.98 437.27,633.79 436.74,633.48 436.21,633.7 435.68,634.1 435.15,633.7 434.62,633.75 434.09,633.66 433.56,634.06 433.03,633.95 432.5,633.42 431.97,633.27 431.44,633.89 430.91,633.38 430.38,633.99 429.85,633.82 429.32,634.11 428.79,634.01 428.26,634 427.73,633.93 427.2,634.07 426.67,633.69 426.14,633.57 425.61,633.73 425.08,633.82 424.55,633.29 424.02,633.48 423.49,634.1 422.96,634.01 422.43,633.45 421.9,633.68 421.37,634.16 420.84,633.82 420.31,633.57 419.78,633.21 419.25,633.99 418.72,633.68 418.19,633.47 417.66,633.86 417.13,633.92 416.6,633.21 416.07,633.2 415.54,633.98 415.01,634.1 414.48,633.67 413.95,633.19 413.42,633.58 412.89,634.08 412.36,633.42 411.83,633.31 411.3,633.2 410.77,633.66 410.24,633.28 409.71,634.06 409.18,634.02 408.65,633.61 408.12,633.89 407.59,633.33 407.06,634.13 406.53,633.25 406,633.69 405.47,633.7 404.94,633.91 404.41,633.17 403.88,633.2 403.35,633.82 402.82,634.01 402.29,633.76 401.76,633.37 401.23,633.46 400.7,633.41 400.17,633.26 399.64,634.11 399.11,633.94 398.58,633.17 398.05,634.08 397.52,633.31 396.99,633.74 396.46,633.22 395.93,633.63 395.4,633.53 394.87,633.34 394.34,633.89 393.81,633.14 393.28,633.4 392.75,634.02 392.22,633.74 391.69,633.93 391.16,633.78 390.63,634.01 390.1,633.64 389.57,633.19 389.04,633.14 388.51,633.78 387.98,633.32 387.45,633.14 386.92,633.5 386.39,633.15 385.86,634.05 385.33,634.07 384.8,633.83 384.27,633.95 383.74,633.47 383.21,633.31 382.68,633.53 382.15,633.64 381.62,633.32 381.09,633.97 380.56,633.47 380.03,633.82 379.5,633.97 378.97,633.71 378.44,633.71 377.91,633.63 377.38,633.4 376.85,633.32 376.32,633.79 375.79,633.35 375.26,633.62 374.73,633.38 374.2,634.31 373.67,634.4 373.14,634.37 372.61,634.31 372.08,634.51 371.55,634.88 371.02,634.4 370.49,635.11 369.96,635.2 369.43,634.73 368.9,635.1 368.37,634.87 367.84,635.32 367.31,635.83 366.78,635.61 366.25,635.18 365.72,635.88 365.19,636.15 364.66,636.19 364.13,636.41 363.6,636.18 363.07,636.13 362.54,636.44 362.01,636.57 361.48,636.52 360.95,636.57 360.42,637.32 359.89,636.7 359.36,637.43 358.83,637.69 358.3,637.63 357.77,638.06 357.24,638.17 356.71,638.32 356.18,638.31 355.65,638.48 355.12,637.75 354.59,638.71 354.06,638.87 353.53,638.88 353,638.26 352.47,638.5 351.94,638.62 351.41,638.85 350.88,639.67 350.35,639.68 349.82,639.19 349.29,640.05 348.76,639.81 348.23,639.43 347.7,639.49 347.17,640.18 346.64,640.13 346.11,640.73 345.58,641.4 345.05,641.07 344.52,641.56 343.99,642.18 343.46,643.78 342.93,645.9 342.4,648.06" fill="#a8a8a8" opacity="0.45"/>
<polygon points="342.4,648.8 342.93,645.49 343.46,642.06 343.99,640.96 344.52,638.97 345.05,638.33 345.58,637.9 346.11,638.2 346.64,637.34 347.17,637.17 347.7,637.08 348.23,636.42 348.76,636.65 349.29,636.63 349.82,636.04 350.35,636.24 350.88,636.46 351.41,636.35 351.94,636.07 352.47,636.4 353,635.76 353.53,635.47 354.06,635.61 354.59,635.04 355.12,634.79 355.65,634.99 356.18,634.71 356.71,635.1 357.24,634.99 357.77,633.93 358.3,634.45 358.83,634.35 359.36,633.52 359.89,633.5 360.42,633.95 360.95,633.6 361.48,633.51 362.01,633.32 362.54,633.42 363.07,632.75 363.6,632.8 364.13,632.67 364.66,632.84 365.19,632.87 365.72,632.9 366.25,632.04 366.78,632.12 367.31,632.27 367.84,632.65 368.37,632.59 368.9,632.57 369.43,632.34 369.96,632.55 370.49,632.3 371.02,632.33 371.55,632.3 372.08,631.81 372.61,631.96 373.14,631.9 373.67,631.98 374.2,631.76 374.73,631.48 375.26,631.9 375.79,632.09 376.32,631.65 376.85,631.71 377.38,631.28 377.91,631.89 378.44,631.11 378.97,631.9 379.5,631.35 380.03,631.4 380.56,631.49 381.09,630.89 381.62,631.03 382.15,631.52 382.68,631.15 383.21,631 383.74,631.52 384.27,631.43 384.8,630.88 385.33,630.75 385.86,631 386.39,631.03 386.92,630.94 387.45,631.17 387.98,630.56 388.51,630.46 389.04,630.92 389.57,631.36 390.1,630.98 390.63,630.58 391.16,631.03 391.69,631.24 392.22,631.15 392.75,630.62 393.28,630.7 393.81,631.02 394.34,630.68 394.87,630.54 395.4,630.33 395.93,630.45 396.46,630.82 396.99,630.45 397.52,630.32 398.05,630.37 398.58,630.47 399.11,630.62 399.64,630.69 400.17,630.35 400.7,630.56 401.23,630.45 401.76,630.92 402.29,631.05 402.82,630.86 403.35,630.55 403.88,630.55 404.41,630.9 404.94,630.9 405.47,630.15 406,631 406.53,630.17 407.06,630.33 407.59,630.54 408.12,630.13 408.65,630.45 409.18,631.12 409.71,630.22 410.24,630.74 410.77,630.26 411.3,630.37 411.83,631.04 412.36,631.15 412.89,631.18 413.42,630.45 413.95,630.45 414.48,631 415.01,631.13 415.54,630.89 416.07,630.48 416.6,630.55 417.13,630.43 417.66,630.34 418.19,630.56 418.72,630.49 419.25,631.3 419.78,631.32 420.31,630.5 420.84,630.75 421.37,631.04 421.9,631.24 422.43,631.06 422.96,631.06 423.49,630.92 424.02,630.97 424.55,631.22 425.08,631.35 425.61,631.24 426.14,631.33 426.67,631.36 427.2,631.07 427.73,631.34 428.26,630.69 428.79,630.94 429.32,631.02 429.85,630.85 430.38,631.24 430.91,631.45 431.44,631.39 431.97,631.14 432.5,631.12 433.03,631.22 433.56,631.17 434.09,630.66 434.62,631.46 435.15,631.03 435.68,631.1 436.21,631.2 436.74,630.76 437.27,631.25 437.8,631.43 438.33,631.32 438.86,630.52 439.39,631.13 439.92,631.36 440.45,630.52 440.98,630.84 441.51,630.54 442.04,631.15 442.57,630.68 443.1,631.43 443.63,631.24 444.16,630.7 444.69,630.97 445.22,630.7 445.75,631.09 446.28,630.62 446.81,631.4 447.34,630.86 447.87,631.29 448.4,631.28 448.93,630.61 449.46,631.05 449.99,630.68 450.52,631.19 451.05,630.76 451.58,630.59 452.11,630.86 452.64,631.24 453.17,630.82 453.7,630.54 454.23,630.69 454.76,631.04 455.29,631.08 455.82,631.38 456.35,630.72 456.88,631.32 457.41,631.26 457.94,631.44 458.47,631.31 459,631.1 459.53,631.01 460.06,631.3 460.59,631.06 461.12,630.73 461.65,631.38 462.18,631.34 462.71,630.96 463.24,630.59 463.77,630.58 464.3,630.92 464.83,631.38 465.36,630.62 465.89,630.5 466.42,630.59 466.95,630.95 467.48,631.1 468.01,630.9 468.54,630.7 469.07,630.5 469.6,630.99 469.6,635.05 469.07,634.57 468.54,634.77 468.01,634.96 467.48,635.16 466.95,635.02 466.42,634.66 465.89,634.57 465.36,634.68 464.83,635.45 464.3,634.98 463.77,634.64 463.24,634.65 462.71,635.03 462.18,635.4 461.65,635.44 461.12,634.8 460.59,635.12 460.06,635.37 459.53,635.07 459,635.16 458.47,635.38 457.94,635.5 457.41,635.32 456.88,635.38 456.35,634.79 455.82,635.44 455.29,635.15 454.76,635.1 454.23,634.75 453.7,634.61 453.17,634.88 452.64,635.31 452.11,634.92 451.58,634.65 451.05,634.82 450.52,635.26 449.99,634.74 449.46,635.12 448.93,634.67 448.4,635.34 447.87,635.35 447.34,634.93 446.81,635.46 446.28,634.68 445.75,635.16 445.22,634.77 444.69,635.03 444.16,634.76 443.63,635.3 443.1,635.5 442.57,634.75 442.04,635.21 441.51,634.6 440.98,634.91 440.45,634.59 439.92,635.42 439.39,635.2 438.86,634.58 438.33,635.38 437.8,635.5 437.27,635.32 436.74,634.83 436.21,635.26 435.68,635.16 435.15,635.1 434.62,635.53 434.09,634.72 433.56,635.24 433.03,635.29 432.5,635.18 431.97,635.21 431.44,635.46 430.91,635.51 430.38,635.31 429.85,634.91 429.32,635.09 428.79,635 428.26,634.76 427.73,635.41 427.2,635.13 426.67,635.43 426.14,635.39 425.61,635.31 425.08,635.42 424.55,635.29 424.02,635.04 423.49,634.98 422.96,635.12 422.43,635.12 421.9,635.31 421.37,635.11 420.84,634.81 420.31,634.56 419.78,635.39 419.25,635.37 418.72,634.56 418.19,634.63 417.66,634.41 417.13,634.5 416.6,634.61 416.07,634.54 415.54,634.96 415.01,635.19 414.48,635.07 413.95,634.51 413.42,634.51 412.89,635.24 412.36,635.21 411.83,635.11 411.3,634.44 410.77,634.33 410.24,634.81 409.71,634.28 409.18,635.18 408.65,634.52 408.12,634.2 407.59,634.6 407.06,634.4 406.53,634.24 406,635.06 405.47,634.21 404.94,634.97 404.41,634.97 403.88,634.61 403.35,634.61 402.82,634.93 402.29,635.11 401.76,634.99 401.23,634.52 400.7,634.62 400.17,634.41 399.64,634.75 399.11,634.69 398.58,634.54 398.05,634.43 397.52,634.39 396.99,634.51 396.46,634.89 395.93,634.51 395.4,634.39 394.87,634.6 394.34,634.75 393.81,635.08 393.28,634.77 392.75,634.69 392.22,635.21 391.69,635.3 391.16,635.1 390.63,634.64 390.1,635.05 389.57,635.42 389.04,634.98 388.51,634.53 387.98,634.62 387.45,635.23 386.92,635 386.39,635.09 385.86,635.06 385.33,634.81 384.8,634.95 384.27,635.49 383.74,635.58 383.21,635.06 382.68,635.22 382.15,635.58 381.62,635.1 381.09,634.95 380.56,635.55 380.03,635.47 379.5,635.41 378.97,635.97 378.44,635.17 377.91,635.96 377.38,635.34 376.85,635.78 376.32,635.72 375.79,636.16 375.26,635.97 374.73,635.54 374.2,635.82 373.67,636.04 373.14,635.97 372.61,636.02 372.08,635.87 371.55,636.36 371.02,636.4 370.49,636.37 369.96,636.62 369.43,636.41 368.9,636.64 368.37,636.65 367.84,636.72 367.31,636.33 366.78,636.19 366.25,636.11 365.72,636.97 365.19,636.93 364.66,636.9 364.13,636.74 363.6,636.87 363.07,636.81 362.54,637.48 362.01,637.38 361.48,637.58 360.95,637.66 360.42,638.02 359.89,637.57 359.36,637.59 358.83,638.42 358.3,638.51 357.77,637.99 357.24,639.06 356.71,639.16 356.18,638.77 355.65,639.06 355.12,638.86 354.59,639.1 354.06,639.67 353.53,639.53 353,639.82 352.47,640.46 351.94,640.13 351.41,640.42 350.88,640.53 350.35,640.3 349.82,640.1 349.29,640.69 348.76,640.71 348.23,640.49 347.7,641.14 347.17,641.23 346.64,641.4 346.11,642.26 345.58,641.97 345.05,642.39 344.52,643.03 343.99,645.02 343.46,646.12 342.93,649.55 342.4,652.87" fill="#555" opacity="0.3"/>
<polyline points="342.4,645.69 342.93,643.15 343.46,640.44 343.99,638.93 344.52,638.25 345.05,638 345.58,637.61 346.11,636.83 346.64,637.15 347.17,636.3 347.7,636.11 348.23,636.5 348.76,635.99 349.29,635.95 349.82,635.87 350.35,635.17 350.88,635.93 351.41,635.88 351.94,634.86 352.47,635.27 353,635.34 353.53,635.09 354.06,634.94 354.59,634.24 355.12,634.84 355.65,634.71 356.18,634.23 356.71,634.15 357.24,633.63 357.77,633.62 358.3,633.97 358.83,634 359.36,633.26 359.89,632.99 360.42,633.8 360.95,632.99 361.48,632.74 362.01,632.83 362.54,633.13 363.07,632.44 363.6,632.39 364.13,632.81 364.66,632.27 365.19,632.58 365.72,632.65 366.25,632.26 366.78,632.16 367.31,632 367.84,631.65 368.37,631.37 368.9,631.14 369.43,631.03 369.96,630.91 370.49,631.01 371.02,631.38 371.55,631.4 372.08,630.86 372.61,630.84 373.14,630.61 373.67,631.08 374.2,630.88 374.73,630.15 375.26,630.44 375.79,630.33 376.32,630.89 376.85,630.57 377.38,630.05 377.91,630.29 378.44,629.93 378.97,630.69 379.5,630.42 380.03,630.06 380.56,630.39 381.09,630.03 381.62,630.23 382.15,630.64 382.68,630.64 383.21,629.76 383.74,630.58 384.27,630.49 384.8,630.33 385.33,629.96 385.86,629.83 386.39,630.2 386.92,630.18 387.45,629.9 387.98,630.4 388.51,630.31 389.04,630.08 389.57,630.06 390.1,630.65 390.63,630.58 391.16,630.55 391.69,629.98 392.22,630.02 392.75,629.75 393.28,629.95 393.81,630.45 394.34,629.96 394.87,629.75 395.4,630.37 395.93,630.7 396.46,630.35 396.99,630.44 397.52,630.55 398.05,630.68 398.58,630.6 399.11,629.88 399.64,630.68 400.17,630.13 400.7,630.53 401.23,630.55 401.76,629.94 402.29,630.45 402.82,630.57 403.35,630.3 403.88,630.07 404.41,630.24 404.94,629.92 405.47,630.37 406,630.25 406.53,630.06 407.06,630.31 407.59,630.07 408.12,630.31 408.65,630.64 409.18,630.65 409.71,630.01 410.24,630.05 410.77,629.86 411.3,630.11 411.83,630.22 412.36,630.63 412.89,629.96 413.42,630.68 413.95,630.38 414.48,630.66 415.01,630.43 415.54,630.51 416.07,630.39 416.6,630.12 417.13,630.28 417.66,630.58 418.19,630.06 418.72,630.1 419.25,630.02 419.78,630.79 420.31,630.23 420.84,629.96 421.37,630.58 421.9,630.64 422.43,630.04 422.96,630.49 423.49,630.45 424.02,630.05 424.55,630.47 425.08,630.66 425.61,630.64 426.14,630.52 426.67,630.18 427.2,630.5 427.73,630.11 428.26,630.8 428.79,630.63 429.32,630.26 429.85,630.41 430.38,630.39 430.91,629.97 431.44,630.61 431.97,630.71 432.5,630.85 433.03,630.42 433.56,630.6 434.09,630.43 434.62,630.89 435.15,630.9 435.68,630.53 436.21,630.17 436.74,630.61 437.27,630.02 437.8,630.35 438.33,630.52 438.86,630.16 439.39,630.69 439.92,630.33 440.45,630.1 440.98,630.4 441.51,630.62 442.04,630.84 442.57,630.38 443.1,630.75 443.63,630.58 444.16,630.41 444.69,630.03 445.22,630.29 445.75,630.44 446.28,630.12 446.81,630.65 447.34,630.58 447.87,630.3 448.4,630.42 448.93,630.75 449.46,630.57 449.99,630.17 450.52,630.74 451.05,630.29 451.58,630.93 452.11,630.05 452.64,630.32 453.17,630.67 453.7,630.03 454.23,630.21 454.76,630.93 455.29,630.75 455.82,630.52 456.35,630.03 456.88,630.87 457.41,630.96 457.94,630.7 458.47,630.97 459,630.62 459.53,630.49 460.06,630.59 460.59,630.88 461.12,631 461.65,630.24 462.18,630.6 462.71,630.56 463.24,630.57 463.77,630.37 464.3,630.16 464.83,630.24 465.36,630.34 465.89,630.72 466.42,630.88 466.95,630.96 467.48,630.22 468.01,631 468.54,630.5 469.07,630.17 469.6,630.75" fill="none" stroke="#a070c8" stroke-width="0.8" stroke-linejoin="round"/>
<polyline points="342.4,644 342.93,641.83 343.46,639.71 343.99,638.11 344.52,637.49 345.05,637 345.58,637.34 346.11,636.67 346.64,636.07 347.17,636.11 347.7,635.43 348.23,635.37 348.76,635.74 349.29,635.98 349.82,635.12 350.35,635.62 350.88,635.61 351.41,634.78 351.94,634.55 352.47,634.44 353,634.2 353.53,634.81 354.06,634.81 354.59,634.65 355.12,633.69 355.65,634.41 356.18,634.24 356.71,634.26 357.24,634.11 357.77,633.99 358.3,633.57 358.83,633.63 359.36,633.36 359.89,632.64 360.42,633.26 360.95,632.51 361.48,632.46 362.01,632.5 362.54,632.37 363.07,632.06 363.6,632.12 364.13,632.35 364.66,632.13 365.19,632.09 365.72,631.81 366.25,631.12 366.78,631.54 367.31,631.77 367.84,631.25 368.37,630.8 368.9,631.04 369.43,630.66 369.96,631.14 370.49,631.04 371.02,630.34 371.55,630.81 372.08,630.44 372.61,630.24 373.14,630.31 373.67,630.34 374.2,630.25 374.73,629.31 375.26,629.56 375.79,629.29 376.32,629.72 376.85,629.26 377.38,629.34 377.91,629.56 378.44,629.64 378.97,629.65 379.5,629.91 380.03,629.75 380.56,629.4 381.09,629.9 381.62,629.25 382.15,629.57 382.68,629.47 383.21,629.24 383.74,629.4 384.27,629.89 384.8,629.77 385.33,630.01 385.86,629.98 386.39,629.08 386.92,629.44 387.45,629.07 387.98,629.26 388.51,629.71 389.04,629.08 389.57,629.12 390.1,629.58 390.63,629.94 391.16,629.72 391.69,629.87 392.22,629.67 392.75,629.95 393.28,629.34 393.81,629.08 394.34,629.83 394.87,629.28 395.4,629.47 395.93,629.57 396.46,629.16 396.99,629.67 397.52,629.24 398.05,630.01 398.58,629.11 399.11,629.87 399.64,630.05 400.17,629.19 400.7,629.35 401.23,629.4 401.76,629.31 402.29,629.69 402.82,629.95 403.35,629.75 403.88,629.13 404.41,629.11 404.94,629.84 405.47,629.64 406,629.63 406.53,629.19 407.06,630.07 407.59,629.26 408.12,629.83 408.65,629.54 409.18,629.95 409.71,630 410.24,629.22 410.77,629.59 411.3,629.14 411.83,629.24 412.36,629.35 412.89,630.02 413.42,629.52 413.95,629.12 414.48,629.6 415.01,630.03 415.54,629.92 416.07,629.13 416.6,629.15 417.13,629.86 417.66,629.79 418.19,629.41 418.72,629.61 419.25,629.93 419.78,629.15 420.31,629.5 420.84,629.76 421.37,630.09 421.9,629.62 422.43,629.38 422.96,629.94 423.49,630.03 424.02,629.41 424.55,629.22 425.08,629.76 425.61,629.66 426.14,629.51 426.67,629.62 427.2,630 427.73,629.86 428.26,629.93 428.79,629.94 429.32,630.05 429.85,629.76 430.38,629.93 430.91,629.31 431.44,629.83 431.97,629.2 432.5,629.35 433.03,629.88 433.56,630 434.09,629.59 434.62,629.69 435.15,629.63 435.68,630.03 436.21,629.64 436.74,629.42 437.27,629.72 437.8,629.91 438.33,629.26 438.86,629.87 439.39,629.19 439.92,629.49 440.45,630.17 440.98,629.73 441.51,630.03 442.04,629.41 442.57,629.76 443.1,630.09 443.63,629.25 444.16,629.4 444.69,629.59 445.22,629.63 445.75,630.11 446.28,629.23 446.81,629.89 447.34,629.68 447.87,629.71 448.4,629.73 448.93,630.17 449.46,629.32 449.99,629.71 450.52,629.81 451.05,629.36 451.58,629.36 452.11,629.5 452.64,629.32 453.17,629.86 453.7,630.1 454.23,629.87 454.76,629.62 455.29,629.44 455.82,629.5 456.35,629.6 456.88,629.63 457.41,629.57 457.94,629.66 458.47,630.2 459,629.69 459.53,629.95 460.06,630.15 460.59,629.63 461.12,629.41 461.65,629.95 462.18,629.58 462.71,629.62 463.24,629.57 463.77,629.38 464.3,629.56 464.83,630.16 465.36,629.64 465.89,629.9 466.42,629.84 466.95,629.59 467.48,630.08 468.01,629.64 468.54,629.33 469.07,630.18 469.6,629.42" fill="none" stroke="#6070c8" stroke-width="1.2" stroke-linejoin="round"/>
<polyline points="342.4,650.83 342.93,647.52 343.46,644.09 343.99,642.99 344.52,641 345.05,640.36 345.58,639.93 346.11,640.23 346.64,639.37 347.17,639.2 347.7,639.11 348.23,638.46 348.76,638.68 349.29,638.66 349.82,638.07 350.35,638.27 350.88,638.49 351.41,638.38 351.94,638.1 352.47,638.43 353,637.79 353.53,637.5 354.06,637.64 354.59,637.07 355.12,636.83 355.65,637.03 356.18,636.74 356.71,637.13 357.24,637.03 357.77,635.96 358.3,636.48 358.83,636.39 359.36,635.56 359.89,635.54 360.42,635.99 360.95,635.63 361.48,635.54 362.01,635.35 362.54,635.45 363.07,634.78 363.6,634.83 364.13,634.7 364.66,634.87 365.19,634.9 365.72,634.94 366.25,634.08 366.78,634.16 367.31,634.3 367.84,634.68 368.37,634.62 368.9,634.61 369.43,634.37 369.96,634.59 370.49,634.33 371.02,634.36 371.55,634.33 372.08,633.84 372.61,633.99 373.14,633.94 373.67,634.01 374.2,633.79 374.73,633.51 375.26,633.94 375.79,634.13 376.32,633.68 376.85,633.74 377.38,633.31 377.91,633.92 378.44,633.14 378.97,633.94 379.5,633.38 380.03,633.44 380.56,633.52 381.09,632.92 381.62,633.06 382.15,633.55 382.68,633.18 383.21,633.03 383.74,633.55 384.27,633.46 384.8,632.92 385.33,632.78 385.86,633.03 386.39,633.06 386.92,632.97 387.45,633.2 387.98,632.59 388.51,632.49 389.04,632.95 389.57,633.39 390.1,633.01 390.63,632.61 391.16,633.06 391.69,633.27 392.22,633.18 392.75,632.66 393.28,632.73 393.81,633.05 394.34,632.71 394.87,632.57 395.4,632.36 395.93,632.48 396.46,632.86 396.99,632.48 397.52,632.36 398.05,632.4 398.58,632.51 399.11,632.66 399.64,632.72 400.17,632.38 400.7,632.59 401.23,632.49 401.76,632.96 402.29,633.08 402.82,632.89 403.35,632.58 403.88,632.58 404.41,632.93 404.94,632.93 405.47,632.18 406,633.03 406.53,632.2 407.06,632.36 407.59,632.57 408.12,632.17 408.65,632.48 409.18,633.15 409.71,632.25 410.24,632.78 410.77,632.29 411.3,632.4 411.83,633.07 412.36,633.18 412.89,633.21 413.42,632.48 413.95,632.48 414.48,633.04 415.01,633.16 415.54,632.92 416.07,632.51 416.6,632.58 417.13,632.46 417.66,632.38 418.19,632.59 418.72,632.53 419.25,633.34 419.78,633.36 420.31,632.53 420.84,632.78 421.37,633.07 421.9,633.28 422.43,633.09 422.96,633.09 423.49,632.95 424.02,633 424.55,633.26 425.08,633.38 425.61,633.28 426.14,633.36 426.67,633.4 427.2,633.1 427.73,633.38 428.26,632.72 428.79,632.97 429.32,633.05 429.85,632.88 430.38,633.27 430.91,633.48 431.44,633.43 431.97,633.17 432.5,633.15 433.03,633.26 433.56,633.2 434.09,632.69 434.62,633.5 435.15,633.07 435.68,633.13 436.21,633.23 436.74,632.8 437.27,633.28 437.8,633.46 438.33,633.35 438.86,632.55 439.39,633.17 439.92,633.39 440.45,632.56 440.98,632.87 441.51,632.57 442.04,633.18 442.57,632.71 443.1,633.46 443.63,633.27 444.16,632.73 444.69,633 445.22,632.73 445.75,633.13 446.28,632.65 446.81,633.43 447.34,632.9 447.87,633.32 448.4,633.31 448.93,632.64 449.46,633.08 449.99,632.71 450.52,633.23 451.05,632.79 451.58,632.62 452.11,632.89 452.64,633.27 453.17,632.85 453.7,632.58 454.23,632.72 454.76,633.07 455.29,633.11 455.82,633.41 456.35,632.75 456.88,633.35 457.41,633.29 457.94,633.47 458.47,633.34 459,633.13 459.53,633.04 460.06,633.33 460.59,633.09 461.12,632.76 461.65,633.41 462.18,633.37 462.71,632.99 463.24,632.62 463.77,632.61 464.3,632.95 464.83,633.41 465.36,632.65 465.89,632.54 466.42,632.63 466.95,632.99 467.48,633.13 468.01,632.93 468.54,632.73 469.07,632.53 469.6,633.02" fill="none" stroke="#111" stroke-width="1.4" stroke-linejoin="round"/>
<line x1="342.61" y1="641.15" x2="342.61" y2="657.41" stroke="#777" stroke-width="0.8"/>
<circle cx="478.8" cy="567.7" r="2.8" fill="#000"/>
<text x="492.6" y="571" font-size="9.8" textLength="15.1" lengthAdjust="spacingAndGlyphs">WT</text>
<circle cx="478.8" cy="580.6" r="2.8" fill="#5865c0"/>
<text x="492.6" y="583.6" font-size="9.8" textLength="29.1" lengthAdjust="spacingAndGlyphs">ATase1</text>
<circle cx="478.8" cy="596" r="2.8" fill="#9b4bb5"/>
<text x="492.6" y="598.8" font-size="9.8" textLength="29.1" lengthAdjust="spacingAndGlyphs">ATase2</text>
<text x="11.7" y="745.5" font-size="15" textLength="5" lengthAdjust="spacingAndGlyphs">i</text>
<text x="71.5" y="747.4" font-size="12" textLength="19.6" lengthAdjust="spacingAndGlyphs">WT</text>
<text x="186.4" y="748.6" font-size="12" textLength="37.2" lengthAdjust="spacingAndGlyphs">ATase1</text>
<text x="294.3" y="748.6" font-size="12" textLength="37.3" lengthAdjust="spacingAndGlyphs">ATase2</text>
<rect x="26.1" y="750.1" width="112.5" height="27" fill="#060606"/>
<svg x="26.1" y="750.1" width="112.5" height="27" viewBox="26.1 750.1 112.5 27" overflow="hidden"><g filter="url(#soft)">
<polygon points="26.1,760.3 30,759 32.8,756.3 33.6,759.4 37,761 40.6,760.7 44,764 49.4,763.3 55,764 58,761.5 61.7,760.3 64,763 66,768.6 72,767.5 76.5,766.8 80,766.8 88.8,765.5 93,763 99.3,762 106.3,763.8 111,762.5 116.8,761.1 122,758.5 127.3,755.4 132,754.5 136.9,752.8 138.6,752 138.6,757 137.8,756.8 132.5,760.3 126,764 121.2,768.1 115,771.6 106.3,769.5 97.5,771.6 88,774 80,776 72,775.5 64,775.5 55,775 45,774.5 35,775 26.1,774.5" fill="url(#dgrad)"/>
<ellipse cx="91.48" cy="765.82" rx="2.15" ry="2.99" fill="#dadada"/>
<ellipse cx="50.23" cy="763.63" rx="1.93" ry="2.59" fill="#e6e6e6"/>
<ellipse cx="54.81" cy="764.59" rx="1.71" ry="3.22" fill="#dadada"/>
<ellipse cx="52.97" cy="774.05" rx="2.09" ry="2.35" fill="#bdbdbd"/>
<ellipse cx="38.56" cy="773.46" rx="2.77" ry="2.28" fill="#c8c8c8"/>
<ellipse cx="114.11" cy="761.44" rx="1.41" ry="2.64" fill="#cfcfcf"/>
<ellipse cx="86.3" cy="765.42" rx="1.42" ry="2.82" fill="#dadada"/>
<ellipse cx="43.35" cy="763.32" rx="2.62" ry="2.53" fill="#f2f2f2"/>
<ellipse cx="137.58" cy="755.16" rx="2.16" ry="2.7" fill="#c8c8c8"/>
<ellipse cx="124.64" cy="758.63" rx="2.93" ry="1.92" fill="#f2f2f2"/>
<ellipse cx="90.86" cy="765.53" rx="2.74" ry="2.01" fill="#cfcfcf"/>
<ellipse cx="105.49" cy="768.07" rx="1.62" ry="2.12" fill="#c8c8c8"/>
<ellipse cx="115.26" cy="769.67" rx="2.96" ry="3.54" fill="#b0b0b0"/>
<ellipse cx="35.24" cy="760.45" rx="1.51" ry="2.79" fill="#cfcfcf"/>
<ellipse cx="103.64" cy="762.76" rx="2.49" ry="2.39" fill="#dadada"/>
<ellipse cx="57.61" cy="762.49" rx="1.58" ry="3.57" fill="#cfcfcf"/>
<ellipse cx="127.47" cy="755.11" rx="1.42" ry="2.94" fill="#e6e6e6"/>
<ellipse cx="122.48" cy="759.14" rx="1.78" ry="2.29" fill="#dadada"/>
<ellipse cx="100.4" cy="763.12" rx="1.43" ry="2.04" fill="#dadada"/>
<ellipse cx="64.97" cy="766.23" rx="2.59" ry="2.73" fill="#f2f2f2"/>
<ellipse cx="50.42" cy="774.48" rx="1.99" ry="2.61" fill="#bdbdbd"/>
<ellipse cx="100.92" cy="769.41" rx="2.22" ry="2.93" fill="#b0b0b0"/>
<ellipse cx="49.6" cy="764.22" rx="2.48" ry="3.12" fill="#dadada"/>
<ellipse cx="53.18" cy="764.41" rx="2.6" ry="2.24" fill="#dadada"/>
<ellipse cx="91.14" cy="765.8" rx="2.47" ry="2.28" fill="#cfcfcf"/>
<ellipse cx="106.02" cy="768.02" rx="2.96" ry="2.91" fill="#b0b0b0"/>
<ellipse cx="120.59" cy="761.02" rx="2.63" ry="3.52" fill="#dadada"/>
<ellipse cx="80.93" cy="774.5" rx="2.51" ry="2.28" fill="#bdbdbd"/>
<ellipse cx="97.91" cy="769.55" rx="1.94" ry="3.11" fill="#b0b0b0"/>
<ellipse cx="42.62" cy="773.78" rx="1.41" ry="2.44" fill="#b0b0b0"/>
<ellipse cx="98.58" cy="764.07" rx="2.44" ry="2.11" fill="#e6e6e6"/>
<ellipse cx="129.17" cy="760.72" rx="2.12" ry="1.87" fill="#bdbdbd"/>
<ellipse cx="47.39" cy="764.85" rx="1.57" ry="2.75" fill="#e6e6e6"/>
<ellipse cx="27.49" cy="773.56" rx="2.32" ry="2.67" fill="#bdbdbd"/>
<ellipse cx="40.6" cy="764.59" rx="1.58" ry="1.99" fill="#f4f4f4" opacity="0.8"/>
<ellipse cx="106.28" cy="766.64" rx="2.7" ry="2.49" fill="#f4f4f4" opacity="0.8"/>
<ellipse cx="71.43" cy="769.84" rx="1.62" ry="1.57" fill="#f4f4f4" opacity="0.8"/>
<ellipse cx="85.81" cy="770.21" rx="2.09" ry="1.51" fill="#f4f4f4" opacity="0.8"/>
<ellipse cx="107.46" cy="765.67" rx="2.62" ry="1.4" fill="#f4f4f4" opacity="0.8"/>
<ellipse cx="122.09" cy="762.71" rx="3.01" ry="2.42" fill="#f4f4f4" opacity="0.8"/>
<ellipse cx="63.51" cy="765.79" rx="2.11" ry="2.37" fill="#f4f4f4" opacity="0.8"/>
<ellipse cx="78.91" cy="769.54" rx="1.8" ry="1.41" fill="#f4f4f4" opacity="0.8"/>
<ellipse cx="75.49" cy="771.17" rx="3.27" ry="2.19" fill="#f4f4f4" opacity="0.8"/>
<ellipse cx="111.16" cy="764.91" rx="3.06" ry="1.49" fill="#f4f4f4" opacity="0.8"/>
<ellipse cx="85.24" cy="768.26" rx="3.28" ry="1.37" fill="#f4f4f4" opacity="0.8"/>
<ellipse cx="92.77" cy="767.15" rx="2.79" ry="2.09" fill="#f4f4f4" opacity="0.8"/>
<ellipse cx="67.65" cy="771.52" rx="3.38" ry="2" fill="#f4f4f4" opacity="0.8"/>
<ellipse cx="136.31" cy="755.21" rx="1.61" ry="2.07" fill="#f4f4f4" opacity="0.8"/>
<ellipse cx="36.39" cy="766.62" rx="2.24" ry="2.31" fill="#f4f4f4" opacity="0.8"/>
<ellipse cx="31.13" cy="766.12" rx="1.59" ry="1.27" fill="#f4f4f4" opacity="0.8"/>
<ellipse cx="26.39" cy="764.23" rx="3.47" ry="2.29" fill="#f4f4f4" opacity="0.8"/>
<ellipse cx="129.24" cy="759.64" rx="3.38" ry="1.44" fill="#8e8e8e" opacity="0.5"/>
<ellipse cx="107.88" cy="767.71" rx="3.94" ry="1.38" fill="#8e8e8e" opacity="0.5"/>
<ellipse cx="103.09" cy="767.87" rx="2.79" ry="1.41" fill="#8e8e8e" opacity="0.5"/>
<ellipse cx="84.19" cy="772.51" rx="3.84" ry="1.14" fill="#8e8e8e" opacity="0.5"/>
<ellipse cx="122.73" cy="763.41" rx="3.06" ry="1.37" fill="#8e8e8e" opacity="0.5"/>
<ellipse cx="27.3" cy="771.25" rx="2.57" ry="1.3" fill="#8e8e8e" opacity="0.5"/>
<ellipse cx="96.22" cy="768.47" rx="3.89" ry="0.99" fill="#8e8e8e" opacity="0.5"/>
<ellipse cx="41.45" cy="770.87" rx="2.13" ry="0.88" fill="#8e8e8e" opacity="0.5"/>
<ellipse cx="111.77" cy="767.63" rx="3.08" ry="1.51" fill="#8e8e8e" opacity="0.5"/>
<ellipse cx="77.15" cy="774.05" rx="3.66" ry="0.93" fill="#8e8e8e" opacity="0.5"/>
<ellipse cx="34.71" cy="771.91" rx="3.73" ry="1.48" fill="#8e8e8e" opacity="0.5"/>
<ellipse cx="105.59" cy="775.41" rx="1.54" ry="1.23" fill="#b8b8b8"/>
<ellipse cx="127.01" cy="753.19" rx="1.38" ry="0.71" fill="#b8b8b8"/>
<ellipse cx="55.81" cy="776.04" rx="1.36" ry="0.9" fill="#b8b8b8"/>
</g></svg>
<line x1="131.2" y1="772.3" x2="137.4" y2="772.3" stroke="#d8c800" stroke-width="1.1"/>
<line x1="132.2" y1="774.1" x2="136.4" y2="774.1" stroke="#a09000" stroke-width="0.7"/>
<rect x="140.4" y="750.1" width="111" height="27" fill="#060606"/>
<svg x="140.4" y="750.1" width="111" height="27" viewBox="140.4 750.1 111 27" overflow="hidden"><g filter="url(#soft)">
<polygon points="140.3,764.3 145.5,762.5 151.6,757.3 156,761.6 163,759.9 170,762.5 178.8,760.8 185.8,764.3 192.8,758.1 199.8,759.9 208.6,758.1 217.3,759 226.1,758.1 233.1,757.3 240.1,761.6 247.1,766 251.5,766.9 251.5,773 243.6,773.9 233.1,771.3 226.1,773 217.3,771.3 205.1,772.2 192.8,771.3 182.3,770.4 170,772.2 157.8,771.3 145.5,773 140.3,772.2" fill="url(#dgrad)"/>
<ellipse cx="156.85" cy="761.32" rx="2.01" ry="2.91" fill="#e6e6e6"/>
<ellipse cx="203.25" cy="760.02" rx="2.58" ry="2.48" fill="#e6e6e6"/>
<ellipse cx="165.58" cy="762.38" rx="2.37" ry="2.6" fill="#e6e6e6"/>
<ellipse cx="196.02" cy="759.75" rx="2.19" ry="2.54" fill="#e6e6e6"/>
<ellipse cx="193.53" cy="759.32" rx="2" ry="2.15" fill="#dadada"/>
<ellipse cx="187.84" cy="764.09" rx="2.85" ry="2.1" fill="#e6e6e6"/>
<ellipse cx="163.42" cy="761.13" rx="1.6" ry="2.91" fill="#cfcfcf"/>
<ellipse cx="247.48" cy="772.92" rx="2.42" ry="2.65" fill="#b0b0b0"/>
<ellipse cx="245.58" cy="766.11" rx="2.03" ry="3.14" fill="#e6e6e6"/>
<ellipse cx="207.03" cy="770.81" rx="2.74" ry="2.47" fill="#c8c8c8"/>
<ellipse cx="145.77" cy="762.96" rx="1.89" ry="3.2" fill="#e6e6e6"/>
<ellipse cx="198.46" cy="770.26" rx="2.5" ry="3.49" fill="#b0b0b0"/>
<ellipse cx="164.05" cy="761.45" rx="2.23" ry="2.05" fill="#e6e6e6"/>
<ellipse cx="207.01" cy="757.95" rx="2.02" ry="2.07" fill="#e6e6e6"/>
<ellipse cx="153.59" cy="759.79" rx="1.83" ry="2.6" fill="#dadada"/>
<ellipse cx="222.85" cy="759.65" rx="1.44" ry="2.14" fill="#e6e6e6"/>
<ellipse cx="227.2" cy="771.59" rx="2.43" ry="2.21" fill="#bdbdbd"/>
<ellipse cx="150.71" cy="759.53" rx="2.47" ry="3.18" fill="#cfcfcf"/>
<ellipse cx="243.13" cy="773.5" rx="1.84" ry="2.19" fill="#b0b0b0"/>
<ellipse cx="212.45" cy="769.81" rx="1.65" ry="1.93" fill="#c8c8c8"/>
<ellipse cx="153.99" cy="759.53" rx="2.56" ry="3.36" fill="#e6e6e6"/>
<ellipse cx="147.1" cy="763.01" rx="1.62" ry="3.08" fill="#e6e6e6"/>
<ellipse cx="185.13" cy="770.49" rx="2.27" ry="2.64" fill="#b0b0b0"/>
<ellipse cx="227.89" cy="770.98" rx="1.41" ry="2.85" fill="#c8c8c8"/>
<ellipse cx="171.59" cy="764" rx="2.98" ry="2.15" fill="#cfcfcf"/>
<ellipse cx="150.38" cy="758.35" rx="1.45" ry="2.71" fill="#cfcfcf"/>
<ellipse cx="202.16" cy="760.1" rx="1.56" ry="3.05" fill="#dadada"/>
<ellipse cx="223.66" cy="758.5" rx="2.67" ry="3.05" fill="#f2f2f2"/>
<ellipse cx="153.93" cy="770.52" rx="2.64" ry="3.06" fill="#bdbdbd"/>
<ellipse cx="236.67" cy="760.59" rx="1.62" ry="2.41" fill="#cfcfcf"/>
<ellipse cx="192.82" cy="760.02" rx="1.73" ry="3.01" fill="#e6e6e6"/>
<ellipse cx="184.05" cy="764.58" rx="2.18" ry="3.05" fill="#dadada"/>
<ellipse cx="150.26" cy="759.66" rx="1.43" ry="2.61" fill="#e6e6e6"/>
<ellipse cx="250.81" cy="771.1" rx="2.56" ry="1.84" fill="#c8c8c8"/>
<ellipse cx="243.04" cy="772.35" rx="2.11" ry="2.61" fill="#bdbdbd"/>
<ellipse cx="182.55" cy="768.48" rx="1.81" ry="2.13" fill="#bdbdbd"/>
<ellipse cx="171.08" cy="770.67" rx="2.75" ry="2.94" fill="#bdbdbd"/>
<ellipse cx="171.88" cy="763.79" rx="1.86" ry="2.73" fill="#dadada"/>
<ellipse cx="161.79" cy="761.51" rx="1.78" ry="2.87" fill="#e6e6e6"/>
<ellipse cx="170.57" cy="772.11" rx="2.96" ry="2.59" fill="#bdbdbd"/>
<ellipse cx="242.69" cy="773.18" rx="2.52" ry="3.11" fill="#c8c8c8"/>
<ellipse cx="194.82" cy="760.14" rx="2.1" ry="2.31" fill="#f2f2f2"/>
<ellipse cx="147.58" cy="761.06" rx="2.65" ry="3.46" fill="#f2f2f2"/>
<ellipse cx="247.05" cy="767.32" rx="2.15" ry="2.46" fill="#cfcfcf"/>
<ellipse cx="235.57" cy="765.01" rx="2.97" ry="1.58" fill="#f4f4f4" opacity="0.8"/>
<ellipse cx="176.42" cy="765.82" rx="2.52" ry="2.03" fill="#f4f4f4" opacity="0.8"/>
<ellipse cx="220.75" cy="762.62" rx="2.27" ry="2.44" fill="#f4f4f4" opacity="0.8"/>
<ellipse cx="177.27" cy="765.74" rx="1.81" ry="1.22" fill="#f4f4f4" opacity="0.8"/>
<ellipse cx="196.17" cy="763" rx="2.69" ry="2.2" fill="#f4f4f4" opacity="0.8"/>
<ellipse cx="144.71" cy="766.56" rx="2.25" ry="2.38" fill="#f4f4f4" opacity="0.8"/>
<ellipse cx="234.11" cy="764.34" rx="2.98" ry="1.65" fill="#f4f4f4" opacity="0.8"/>
<ellipse cx="209.14" cy="763.46" rx="2.24" ry="1.58" fill="#f4f4f4" opacity="0.8"/>
<ellipse cx="212.42" cy="764.74" rx="1.98" ry="1.66" fill="#f4f4f4" opacity="0.8"/>
<ellipse cx="157.97" cy="764.6" rx="2.28" ry="1.32" fill="#f4f4f4" opacity="0.8"/>
<ellipse cx="212.01" cy="762.9" rx="3.11" ry="1.52" fill="#f4f4f4" opacity="0.8"/>
<ellipse cx="221.88" cy="765.29" rx="1.84" ry="1.68" fill="#f4f4f4" opacity="0.8"/>
<ellipse cx="248.24" cy="768.74" rx="2.16" ry="1.4" fill="#f4f4f4" opacity="0.8"/>
<ellipse cx="232.45" cy="762.04" rx="3.26" ry="1.93" fill="#f4f4f4" opacity="0.8"/>
<ellipse cx="160.36" cy="765.99" rx="3.3" ry="2.17" fill="#f4f4f4" opacity="0.8"/>
<ellipse cx="207.15" cy="764.38" rx="3.4" ry="1.46" fill="#f4f4f4" opacity="0.8"/>
<ellipse cx="167.18" cy="766.1" rx="2.34" ry="2.48" fill="#f4f4f4" opacity="0.8"/>
<ellipse cx="232.97" cy="762.65" rx="1.82" ry="2" fill="#f4f4f4" opacity="0.8"/>
<ellipse cx="207.17" cy="763.79" rx="3.06" ry="1.82" fill="#f4f4f4" opacity="0.8"/>
<ellipse cx="239.49" cy="765.87" rx="1.82" ry="2.27" fill="#f4f4f4" opacity="0.8"/>
<ellipse cx="159.14" cy="765.87" rx="3.35" ry="1.45" fill="#f4f4f4" opacity="0.8"/>
<ellipse cx="162.74" cy="764.94" rx="2.41" ry="1.69" fill="#f4f4f4" opacity="0.8"/>
<ellipse cx="223.78" cy="768.06" rx="2.26" ry="1.24" fill="#8e8e8e" opacity="0.5"/>
<ellipse cx="237.78" cy="770.49" rx="2.21" ry="1.4" fill="#8e8e8e" opacity="0.5"/>
<ellipse cx="176.34" cy="769.7" rx="2.78" ry="0.88" fill="#8e8e8e" opacity="0.5"/>
<ellipse cx="177.12" cy="768.44" rx="2.35" ry="1.42" fill="#8e8e8e" opacity="0.5"/>
<ellipse cx="176.96" cy="769.03" rx="2.46" ry="1.19" fill="#8e8e8e" opacity="0.5"/>
<ellipse cx="213.62" cy="767.06" rx="2.58" ry="1.47" fill="#8e8e8e" opacity="0.5"/>
<ellipse cx="184.16" cy="768.34" rx="3.24" ry="1.35" fill="#8e8e8e" opacity="0.5"/>
<ellipse cx="236.33" cy="768.78" rx="3.71" ry="1.51" fill="#8e8e8e" opacity="0.5"/>
<ellipse cx="243.28" cy="772.08" rx="3.39" ry="1.36" fill="#8e8e8e" opacity="0.5"/>
<ellipse cx="183.58" cy="767.78" rx="3.84" ry="1.13" fill="#8e8e8e" opacity="0.5"/>
<ellipse cx="177.91" cy="768.4" rx="3.51" ry="1.46" fill="#8e8e8e" opacity="0.5"/>
<ellipse cx="153.07" cy="769.26" rx="3.88" ry="1.58" fill="#8e8e8e" opacity="0.5"/>
<ellipse cx="244.97" cy="771.41" rx="3.78" ry="1.27" fill="#8e8e8e" opacity="0.5"/>
<ellipse cx="234.61" cy="769.62" rx="2.75" ry="0.9" fill="#8e8e8e" opacity="0.5"/>
<ellipse cx="222.67" cy="775.43" rx="1.26" ry="1.01" fill="#b8b8b8"/>
<ellipse cx="155.74" cy="773.77" rx="0.92" ry="0.77" fill="#b8b8b8"/>
<ellipse cx="242" cy="759" rx="0.87" ry="1.04" fill="#b8b8b8"/>
<ellipse cx="222.21" cy="774.1" rx="1.28" ry="1.27" fill="#b8b8b8"/>
<ellipse cx="240.15" cy="756.53" rx="1.69" ry="1.13" fill="#b8b8b8"/>
<ellipse cx="226.42" cy="754.05" rx="0.81" ry="1.26" fill="#b8b8b8"/>
<ellipse cx="202.65" cy="757.01" rx="1.01" ry="0.72" fill="#b8b8b8"/>
<ellipse cx="219.93" cy="755.15" rx="0.94" ry="0.72" fill="#b8b8b8"/>
<ellipse cx="221.22" cy="774.9" rx="1.51" ry="1.2" fill="#b8b8b8"/>
<ellipse cx="161.25" cy="755.79" rx="1.67" ry="1.15" fill="#b8b8b8"/>
<ellipse cx="194.59" cy="775.18" rx="1.05" ry="0.83" fill="#b8b8b8"/>
<ellipse cx="143" cy="774.43" rx="1.38" ry="1.07" fill="#b8b8b8"/>
</g></svg>
<line x1="244.5" y1="773.3" x2="250" y2="773.3" stroke="#d8c800" stroke-width="1.1"/>
<line x1="245.5" y1="775.1" x2="249" y2="775.1" stroke="#a09000" stroke-width="0.7"/>
<rect x="253.4" y="750.1" width="111.3" height="27" fill="#060606"/>
<svg x="253.4" y="750.1" width="111.3" height="27" viewBox="253.4 750.1 111.3 27" overflow="hidden"><g filter="url(#soft)">
<polygon points="253.2,759.9 260.5,759 267.5,757.6 272.8,760.8 285,760.8 295.5,759 306.1,759.9 316.6,761.6 327.1,762.5 337.6,759.9 344.6,755.5 351.6,754.6 355.1,757.3 359.5,760.8 364.8,760.8 364.8,773.9 358.6,771.3 351.6,767.8 341.1,767.8 330.6,772.2 320.1,773 311.3,773 302.6,769.5 293.8,768.7 285,767.8 272.8,768.7 264,768.7 253.2,767.8" fill="url(#dgrad)"/>
<ellipse cx="362.37" cy="762.1" rx="2.5" ry="3.44" fill="#e6e6e6"/>
<ellipse cx="335.67" cy="769.15" rx="2.8" ry="2.01" fill="#b0b0b0"/>
<ellipse cx="262.55" cy="760.16" rx="1.47" ry="3.53" fill="#f2f2f2"/>
<ellipse cx="330.36" cy="761.93" rx="2.78" ry="2.85" fill="#cfcfcf"/>
<ellipse cx="328.28" cy="763.35" rx="1.54" ry="2.16" fill="#e6e6e6"/>
<ellipse cx="277.72" cy="767.32" rx="2.54" ry="3.43" fill="#b0b0b0"/>
<ellipse cx="337.74" cy="761.32" rx="2.25" ry="3.08" fill="#cfcfcf"/>
<ellipse cx="286.4" cy="760.42" rx="2.22" ry="3.46" fill="#cfcfcf"/>
<ellipse cx="306.96" cy="761.64" rx="1.89" ry="3" fill="#f2f2f2"/>
<ellipse cx="267.23" cy="767.17" rx="2.53" ry="2.33" fill="#bdbdbd"/>
<ellipse cx="314.61" cy="761.76" rx="1.82" ry="3.4" fill="#cfcfcf"/>
<ellipse cx="273.05" cy="768.03" rx="2.8" ry="2.78" fill="#b0b0b0"/>
<ellipse cx="316.33" cy="761.63" rx="1.65" ry="1.95" fill="#cfcfcf"/>
<ellipse cx="327.97" cy="762.92" rx="2.29" ry="3.02" fill="#f2f2f2"/>
<ellipse cx="289.88" cy="766.6" rx="1.55" ry="2.62" fill="#c8c8c8"/>
<ellipse cx="297.54" cy="759.34" rx="2.52" ry="2.95" fill="#f2f2f2"/>
<ellipse cx="327.01" cy="771.5" rx="1.93" ry="2.94" fill="#bdbdbd"/>
<ellipse cx="260.83" cy="760.64" rx="2.06" ry="3.28" fill="#e6e6e6"/>
<ellipse cx="339.26" cy="767.38" rx="2.26" ry="2.55" fill="#c8c8c8"/>
<ellipse cx="283.11" cy="762.32" rx="1.93" ry="3.23" fill="#cfcfcf"/>
<ellipse cx="300.18" cy="760.83" rx="1.59" ry="3.46" fill="#f2f2f2"/>
<ellipse cx="345.88" cy="756.33" rx="2.78" ry="2.27" fill="#cfcfcf"/>
<ellipse cx="254.71" cy="766.36" rx="2.27" ry="2.91" fill="#c8c8c8"/>
<ellipse cx="268.68" cy="758.69" rx="2.6" ry="3.25" fill="#f2f2f2"/>
<ellipse cx="281.6" cy="761.38" rx="2.67" ry="3.16" fill="#f2f2f2"/>
<ellipse cx="317.9" cy="761.7" rx="2.56" ry="3.56" fill="#cfcfcf"/>
<ellipse cx="358.42" cy="760.16" rx="1.54" ry="2.65" fill="#dadada"/>
<ellipse cx="297.93" cy="767.76" rx="1.44" ry="3.22" fill="#b0b0b0"/>
<ellipse cx="311.49" cy="771.79" rx="1.87" ry="2.99" fill="#b0b0b0"/>
<ellipse cx="289.99" cy="759.61" rx="2.62" ry="3.29" fill="#dadada"/>
<ellipse cx="356.38" cy="760.01" rx="2.55" ry="2.29" fill="#dadada"/>
<ellipse cx="315.86" cy="772.4" rx="1.65" ry="3.12" fill="#b0b0b0"/>
<ellipse cx="290.67" cy="767.74" rx="2.52" ry="2.95" fill="#b0b0b0"/>
<ellipse cx="256.97" cy="760.81" rx="1.42" ry="2.28" fill="#cfcfcf"/>
<ellipse cx="352.68" cy="761.18" rx="3.34" ry="2.03" fill="#f4f4f4" opacity="0.8"/>
<ellipse cx="292.51" cy="763.95" rx="1.7" ry="1.66" fill="#f4f4f4" opacity="0.8"/>
<ellipse cx="333.57" cy="765.15" rx="2.6" ry="2.47" fill="#f4f4f4" opacity="0.8"/>
<ellipse cx="328.35" cy="766.87" rx="3.5" ry="1.45" fill="#f4f4f4" opacity="0.8"/>
<ellipse cx="284.99" cy="763.13" rx="1.71" ry="1.68" fill="#f4f4f4" opacity="0.8"/>
<ellipse cx="254.21" cy="763.05" rx="2.2" ry="1.4" fill="#f4f4f4" opacity="0.8"/>
<ellipse cx="304.18" cy="763.4" rx="1.92" ry="2.11" fill="#f4f4f4" opacity="0.8"/>
<ellipse cx="318.32" cy="766.69" rx="3.5" ry="2.15" fill="#f4f4f4" opacity="0.8"/>
<ellipse cx="343.71" cy="761.36" rx="2.15" ry="1.31" fill="#f4f4f4" opacity="0.8"/>
<ellipse cx="272.23" cy="763.42" rx="2.18" ry="1.44" fill="#f4f4f4" opacity="0.8"/>
<ellipse cx="328.08" cy="766.75" rx="3.25" ry="1.6" fill="#f4f4f4" opacity="0.8"/>
<ellipse cx="341.42" cy="762.01" rx="2.9" ry="2.5" fill="#f4f4f4" opacity="0.8"/>
<ellipse cx="272.37" cy="763.15" rx="2.71" ry="2.01" fill="#f4f4f4" opacity="0.8"/>
<ellipse cx="321.99" cy="766.87" rx="3.06" ry="1.94" fill="#f4f4f4" opacity="0.8"/>
<ellipse cx="288.96" cy="762.58" rx="2.91" ry="1.23" fill="#f4f4f4" opacity="0.8"/>
<ellipse cx="313" cy="765.21" rx="2.93" ry="1.43" fill="#f4f4f4" opacity="0.8"/>
<ellipse cx="363.36" cy="766.62" rx="3.35" ry="2.39" fill="#f4f4f4" opacity="0.8"/>
<ellipse cx="303.32" cy="766.07" rx="2.16" ry="1.38" fill="#8e8e8e" opacity="0.5"/>
<ellipse cx="334.25" cy="767.66" rx="3.72" ry="0.88" fill="#8e8e8e" opacity="0.5"/>
<ellipse cx="332.09" cy="768.54" rx="3.24" ry="1.28" fill="#8e8e8e" opacity="0.5"/>
<ellipse cx="322.53" cy="770.82" rx="2.1" ry="1.1" fill="#8e8e8e" opacity="0.5"/>
<ellipse cx="324.65" cy="770.02" rx="2.91" ry="1.32" fill="#8e8e8e" opacity="0.5"/>
<ellipse cx="267.42" cy="765.62" rx="2.37" ry="1.15" fill="#8e8e8e" opacity="0.5"/>
<ellipse cx="279.61" cy="766.54" rx="2.6" ry="1.35" fill="#8e8e8e" opacity="0.5"/>
<ellipse cx="265.93" cy="765.92" rx="3.61" ry="1.57" fill="#8e8e8e" opacity="0.5"/>
<ellipse cx="330.45" cy="768.04" rx="3.59" ry="1.35" fill="#8e8e8e" opacity="0.5"/>
<ellipse cx="308.91" cy="767.43" rx="3.07" ry="0.84" fill="#8e8e8e" opacity="0.5"/>
<ellipse cx="335.24" cy="767.8" rx="3.56" ry="1.34" fill="#8e8e8e" opacity="0.5"/>
<ellipse cx="257.65" cy="754.82" rx="1.07" ry="1.29" fill="#b8b8b8"/>
<ellipse cx="296.17" cy="756.86" rx="1.32" ry="1.12" fill="#b8b8b8"/>
<ellipse cx="265.27" cy="772.39" rx="0.93" ry="0.94" fill="#b8b8b8"/>
<ellipse cx="305.07" cy="752.42" rx="1.09" ry="0.94" fill="#b8b8b8"/>
<ellipse cx="268.76" cy="771.03" rx="1.5" ry="1.19" fill="#b8b8b8"/>
<ellipse cx="348.73" cy="773.63" rx="1.48" ry="1.37" fill="#b8b8b8"/>
</g></svg>
<line x1="352.5" y1="773.2" x2="363" y2="773.2" stroke="#d8c800" stroke-width="1.1"/>
<line x1="353.5" y1="775" x2="362" y2="775" stroke="#a09000" stroke-width="0.7"/>
<rect x="26.1" y="779.3" width="112.5" height="28" fill="#050505"/>
<svg x="26.1" y="779.3" width="112.5" height="28" viewBox="26.1 779.3 112.5 28" overflow="hidden">
<path d="M24,791 L27.5,791.4 L41.8,793.4 L50.2,790.6 L58.6,794.8 L75.4,799 L80.4,800.7 L92.2,797.3 L100.6,797.3 L109,793.9 L115.7,789.7 L125.7,787.2 L135.8,785 L140,784.5" stroke="#d2b09c" stroke-width="1.0" fill="none"/>
</svg>
<line x1="129.6" y1="802.3" x2="135.1" y2="802.3" stroke="#ddd" stroke-width="0.8"/>
<svg x="26.1" y="779.3" width="112.5" height="28" viewBox="26.1 779.3 112.5 28" overflow="hidden">
<line x1="27.52" y1="785.4" x2="27.92" y2="799.4" stroke="#3a80d8" stroke-width="1.2" stroke-linecap="round"/>
<ellipse cx="27.52" cy="789" rx="0.9" ry="1.8" fill="#4a90e6"/>
<line x1="42.63" y1="790.12" x2="43.03" y2="795.12" stroke="#3a80d8" stroke-width="1.2" stroke-linecap="round"/>
<ellipse cx="42.63" cy="791.92" rx="0.9" ry="1" fill="#4a90e6"/>
<line x1="46.82" y1="778.73" x2="47.22" y2="793.73" stroke="#3a80d8" stroke-width="1.2" stroke-linecap="round"/>
<ellipse cx="46.82" cy="786.53" rx="0.9" ry="3.9" fill="#4a90e6"/>
<line x1="49.34" y1="788.89" x2="49.74" y2="793.89" stroke="#3a80d8" stroke-width="1.2" stroke-linecap="round"/>
<ellipse cx="49.34" cy="790.09" rx="0.9" ry="1" fill="#4a90e6"/>
<line x1="59.41" y1="792" x2="59.81" y2="799" stroke="#3a80d8" stroke-width="1.2" stroke-linecap="round"/>
<ellipse cx="59.41" cy="793.8" rx="0.9" ry="1" fill="#4a90e6"/>
<line x1="63.61" y1="791.05" x2="64.01" y2="803.05" stroke="#3a80d8" stroke-width="1.2" stroke-linecap="round"/>
<ellipse cx="63.61" cy="794.05" rx="0.9" ry="1.5" fill="#4a90e6"/>
<line x1="74.52" y1="794.78" x2="74.92" y2="804.78" stroke="#3a80d8" stroke-width="1.2" stroke-linecap="round"/>
<ellipse cx="74.52" cy="797.18" rx="0.9" ry="1.2" fill="#4a90e6"/>
<line x1="77.04" y1="793.56" x2="77.44" y2="807.56" stroke="#3a80d8" stroke-width="1.2" stroke-linecap="round"/>
<ellipse cx="77.04" cy="797.16" rx="0.9" ry="1.8" fill="#4a90e6"/>
<line x1="81.24" y1="796.46" x2="81.64" y2="806.46" stroke="#3a80d8" stroke-width="1.2" stroke-linecap="round"/>
<ellipse cx="81.24" cy="798.86" rx="0.9" ry="1.2" fill="#4a90e6"/>
<line x1="82.92" y1="796.98" x2="83.32" y2="802.98" stroke="#3a80d8" stroke-width="1.2" stroke-linecap="round"/>
<ellipse cx="82.92" cy="798.78" rx="0.9" ry="1" fill="#4a90e6"/>
<line x1="93.83" y1="793.3" x2="94.23" y2="803.3" stroke="#3a80d8" stroke-width="1.2" stroke-linecap="round"/>
<ellipse cx="93.83" cy="795.7" rx="0.9" ry="1.2" fill="#4a90e6"/>
<line x1="98.02" y1="794.3" x2="98.42" y2="802.3" stroke="#3a80d8" stroke-width="1.2" stroke-linecap="round"/>
<ellipse cx="98.02" cy="796.1" rx="0.9" ry="1" fill="#4a90e6"/>
<line x1="103.9" y1="790.96" x2="104.3" y2="798.96" stroke="#3a80d8" stroke-width="1.2" stroke-linecap="round"/>
<ellipse cx="103.9" cy="793.96" rx="0.9" ry="1.5" fill="#4a90e6"/>
<line x1="108.93" y1="789.93" x2="109.33" y2="795.93" stroke="#3a80d8" stroke-width="1.2" stroke-linecap="round"/>
<ellipse cx="108.93" cy="792.33" rx="0.9" ry="1.2" fill="#4a90e6"/>
<line x1="112.29" y1="785.84" x2="112.69" y2="795.84" stroke="#3a80d8" stroke-width="1.2" stroke-linecap="round"/>
<ellipse cx="112.29" cy="789.44" rx="0.9" ry="1.8" fill="#4a90e6"/>
<line x1="115.65" y1="780.73" x2="116.05" y2="792.73" stroke="#3a80d8" stroke-width="1.2" stroke-linecap="round"/>
<ellipse cx="115.65" cy="786.13" rx="0.9" ry="2.7" fill="#4a90e6"/>
<line x1="119.01" y1="785.87" x2="119.41" y2="791.87" stroke="#3a80d8" stroke-width="1.2" stroke-linecap="round"/>
<ellipse cx="119.01" cy="787.67" rx="0.9" ry="1" fill="#4a90e6"/>
<line x1="125.72" y1="782.2" x2="126.12" y2="791.2" stroke="#3a80d8" stroke-width="1.2" stroke-linecap="round"/>
<ellipse cx="125.72" cy="785.2" rx="0.9" ry="1.5" fill="#4a90e6"/>
<line x1="127.4" y1="783.83" x2="127.8" y2="791.83" stroke="#3a80d8" stroke-width="1.2" stroke-linecap="round"/>
<ellipse cx="127.4" cy="785.63" rx="0.9" ry="1" fill="#4a90e6"/>
<line x1="132.44" y1="777.73" x2="132.84" y2="791.73" stroke="#3a80d8" stroke-width="1.2" stroke-linecap="round"/>
<ellipse cx="132.44" cy="782.53" rx="0.9" ry="2.4" fill="#4a90e6"/>
</svg>
<rect x="140.4" y="779.3" width="111" height="28" fill="#050505"/>
<svg x="140.4" y="779.3" width="111" height="28" viewBox="140.4 779.3 111 28" overflow="hidden">
<path d="M138,791.4 L150,790 L162,788 L175,790.5 L185,790 L195,787 L205,788 L222.6,785.3 L240.1,792.3 L254,795.8" stroke="#d2b09c" stroke-width="1.0" fill="none"/>
<path d="M215,792 L212,798 L205,803 L197,805" stroke="#3a7fdc" stroke-width="1.3" fill="none" stroke-linecap="round"/>
<ellipse cx="212" cy="798" rx="1.4" ry="1.2" fill="#3a7fdc"/>
<ellipse cx="205" cy="803" rx="1.4" ry="1.2" fill="#3a7fdc"/>
<ellipse cx="197" cy="805" rx="1.4" ry="1.2" fill="#3a7fdc"/>
<path d="M212,798 L220,800 L226,801" stroke="#3a7fdc" stroke-width="1.3" fill="none" stroke-linecap="round"/>
<ellipse cx="220" cy="800" rx="1.4" ry="1.2" fill="#3a7fdc"/>
<ellipse cx="226" cy="801" rx="1.4" ry="1.2" fill="#3a7fdc"/>
<path d="M238,793 L232,800 L228,805" stroke="#3a7fdc" stroke-width="1.3" fill="none" stroke-linecap="round"/>
<ellipse cx="232" cy="800" rx="1.4" ry="1.2" fill="#3a7fdc"/>
<ellipse cx="228" cy="805" rx="1.4" ry="1.2" fill="#3a7fdc"/>
<path d="M246,790 L240,797 L236,804" stroke="#3a7fdc" stroke-width="1.3" fill="none" stroke-linecap="round"/>
<ellipse cx="240" cy="797" rx="1.4" ry="1.2" fill="#3a7fdc"/>
<ellipse cx="236" cy="804" rx="1.4" ry="1.2" fill="#3a7fdc"/>
<line x1="234.84" y1="790.2" x2="233.32" y2="787.06" stroke="#3579da" stroke-width="1.78"/>
<ellipse cx="233.32" cy="787.06" rx="1.38" ry="1.86" fill="#3579da"/>
<line x1="143.96" y1="790.7" x2="144.61" y2="793.35" stroke="#2f72d4" stroke-width="1.7"/>
<ellipse cx="144.61" cy="793.35" rx="1.22" ry="1.29" fill="#2f72d4"/>
<line x1="198.03" y1="787.3" x2="198.15" y2="791.7" stroke="#4a90e6" stroke-width="1.36"/>
<ellipse cx="198.15" cy="791.7" rx="2.1" ry="2.51" fill="#4a90e6"/>
<line x1="144.95" y1="790.59" x2="142.95" y2="792.71" stroke="#3579da" stroke-width="1.21"/>
<ellipse cx="142.95" cy="792.71" rx="0.98" ry="1.34" fill="#3579da"/>
<line x1="154.85" y1="789.19" x2="155.62" y2="784.62" stroke="#3579da" stroke-width="1.79"/>
<ellipse cx="155.62" cy="784.62" rx="1.19" ry="1.5" fill="#3579da"/>
<line x1="163.72" y1="788.33" x2="165.05" y2="785.65" stroke="#4a90e6" stroke-width="1.62"/>
<ellipse cx="165.05" cy="785.65" rx="1.68" ry="2.21" fill="#4a90e6"/>
<line x1="189.3" y1="788.71" x2="187.59" y2="785.2" stroke="#4a90e6" stroke-width="1.71"/>
<ellipse cx="187.59" cy="785.2" rx="0.88" ry="0.95" fill="#4a90e6"/>
<line x1="180.5" y1="790.23" x2="179.95" y2="785.38" stroke="#4a90e6" stroke-width="1.08"/>
<ellipse cx="179.95" cy="785.38" rx="2.17" ry="2.32" fill="#4a90e6"/>
<line x1="247.21" y1="794.09" x2="249.67" y2="790.84" stroke="#2f72d4" stroke-width="1.45"/>
<ellipse cx="249.67" cy="790.84" rx="1.76" ry="2.09" fill="#2f72d4"/>
<line x1="195.05" y1="787" x2="195.8" y2="785.45" stroke="#3579da" stroke-width="1.6"/>
<ellipse cx="195.8" cy="785.45" rx="0.92" ry="1.1" fill="#3579da"/>
<line x1="163.72" y1="788.33" x2="164.48" y2="782.02" stroke="#3a82e0" stroke-width="1.4"/>
<ellipse cx="164.48" cy="782.02" rx="0.71" ry="0.77" fill="#3a82e0"/>
<line x1="225.56" y1="786.48" x2="227.87" y2="788.29" stroke="#4a90e6" stroke-width="1.6"/>
<ellipse cx="227.87" cy="788.29" rx="1.5" ry="1.97" fill="#4a90e6"/>
<line x1="168.63" y1="789.27" x2="166.99" y2="794.16" stroke="#2f72d4" stroke-width="1.36"/>
<ellipse cx="166.99" cy="794.16" rx="1.69" ry="1.85" fill="#2f72d4"/>
<line x1="208.95" y1="787.39" x2="206.75" y2="785.75" stroke="#4a90e6" stroke-width="1.4"/>
<ellipse cx="206.75" cy="785.75" rx="2.09" ry="2.67" fill="#4a90e6"/>
<line x1="204" y1="787.9" x2="205.77" y2="792.54" stroke="#4a90e6" stroke-width="1.25"/>
<ellipse cx="205.77" cy="792.54" rx="1.1" ry="1.14" fill="#4a90e6"/>
<line x1="208.95" y1="787.39" x2="208.37" y2="783.18" stroke="#3a82e0" stroke-width="1.2"/>
<ellipse cx="208.37" cy="783.18" rx="2.24" ry="2.81" fill="#3a82e0"/>
<line x1="177.5" y1="790.37" x2="178.07" y2="793.79" stroke="#4a90e6" stroke-width="1.65"/>
<ellipse cx="178.07" cy="793.79" rx="1.29" ry="1.5" fill="#4a90e6"/>
<line x1="198.03" y1="787.3" x2="196.54" y2="782.42" stroke="#3579da" stroke-width="1.27"/>
<ellipse cx="196.54" cy="782.42" rx="2.26" ry="2.93" fill="#3579da"/>
<line x1="212.9" y1="786.79" x2="211.69" y2="785" stroke="#2f72d4" stroke-width="1.65"/>
<ellipse cx="211.69" cy="785" rx="1.18" ry="1.26" fill="#2f72d4"/>
<line x1="195.05" y1="787" x2="196.97" y2="785.35" stroke="#4a90e6" stroke-width="1.16"/>
<ellipse cx="196.97" cy="785.35" rx="2.24" ry="2.37" fill="#4a90e6"/>
<line x1="245.27" y1="793.6" x2="246.61" y2="792.03" stroke="#3579da" stroke-width="1.26"/>
<ellipse cx="246.61" cy="792.03" rx="1.63" ry="1.89" fill="#3579da"/>
<line x1="222.78" y1="785.37" x2="220.9" y2="782.59" stroke="#4a90e6" stroke-width="1.21"/>
<ellipse cx="220.9" cy="782.59" rx="1.38" ry="1.48" fill="#4a90e6"/>
<line x1="163.72" y1="788.33" x2="163.28" y2="784.2" stroke="#4a90e6" stroke-width="1.36"/>
<ellipse cx="163.28" cy="784.2" rx="1.71" ry="1.87" fill="#4a90e6"/>
<line x1="164.7" y1="788.52" x2="165.75" y2="792.22" stroke="#2f72d4" stroke-width="1.43"/>
<ellipse cx="165.75" cy="792.22" rx="1.25" ry="1.62" fill="#2f72d4"/>
<line x1="147.93" y1="790.24" x2="147.09" y2="786.24" stroke="#2f72d4" stroke-width="1.29"/>
<ellipse cx="147.09" cy="786.24" rx="1.16" ry="1.53" fill="#2f72d4"/>
<line x1="213.89" y1="786.64" x2="216.22" y2="789.47" stroke="#4a90e6" stroke-width="1.43"/>
<ellipse cx="216.22" cy="789.47" rx="1.01" ry="1.31" fill="#4a90e6"/>
<line x1="186.43" y1="789.57" x2="188.23" y2="785.27" stroke="#2f72d4" stroke-width="1.56"/>
<ellipse cx="188.23" cy="785.27" rx="1.89" ry="2.21" fill="#2f72d4"/>
<line x1="172.55" y1="790.03" x2="170.38" y2="788.51" stroke="#3a82e0" stroke-width="1.4"/>
<ellipse cx="170.38" cy="788.51" rx="1.98" ry="2.62" fill="#3a82e0"/>
<line x1="227.42" y1="787.23" x2="229.39" y2="784.52" stroke="#3a82e0" stroke-width="1.58"/>
<ellipse cx="229.39" cy="784.52" rx="2.13" ry="2.74" fill="#3a82e0"/>
<line x1="169.61" y1="789.46" x2="169.72" y2="786.76" stroke="#4a90e6" stroke-width="1.67"/>
<ellipse cx="169.72" cy="786.76" rx="1.01" ry="1.27" fill="#4a90e6"/>
<line x1="220.81" y1="785.57" x2="223.3" y2="778.86" stroke="#2f72d4" stroke-width="1.71"/>
<ellipse cx="223.3" cy="778.86" rx="2.04" ry="2.49" fill="#2f72d4"/>
<line x1="217.85" y1="786.03" x2="216.68" y2="783.25" stroke="#3a82e0" stroke-width="1.27"/>
<ellipse cx="216.68" cy="783.25" rx="1.29" ry="1.78" fill="#3a82e0"/>
<line x1="165.68" y1="788.71" x2="167.97" y2="784.28" stroke="#3579da" stroke-width="1.79"/>
<ellipse cx="167.97" cy="784.28" rx="1.46" ry="1.83" fill="#3579da"/>
<line x1="249.15" y1="794.58" x2="249.28" y2="797.44" stroke="#4a90e6" stroke-width="1.69"/>
<ellipse cx="249.28" cy="797.44" rx="0.77" ry="0.8" fill="#4a90e6"/>
<line x1="192.18" y1="787.85" x2="190.5" y2="792.69" stroke="#3a82e0" stroke-width="1.05"/>
<ellipse cx="190.5" cy="792.69" rx="2.13" ry="2.86" fill="#3a82e0"/>
<line x1="142.97" y1="790.82" x2="142.37" y2="792.58" stroke="#4a90e6" stroke-width="1.71"/>
<ellipse cx="142.37" cy="792.58" rx="1.52" ry="2.13" fill="#4a90e6"/>
<line x1="147.93" y1="790.24" x2="150.15" y2="781.45" stroke="#2f72d4" stroke-width="1.31"/>
<ellipse cx="150.15" cy="781.45" rx="0.83" ry="1.03" fill="#2f72d4"/>
<line x1="139.99" y1="791.17" x2="139.14" y2="788.23" stroke="#2f72d4" stroke-width="1.74"/>
<ellipse cx="139.14" cy="788.23" rx="1.26" ry="1.42" fill="#2f72d4"/>
<line x1="186.43" y1="789.57" x2="184.54" y2="791.54" stroke="#4a90e6" stroke-width="1.52"/>
<ellipse cx="184.54" cy="791.54" rx="1.84" ry="2.27" fill="#4a90e6"/>
<line x1="214.88" y1="786.48" x2="216.43" y2="784.63" stroke="#3a82e0" stroke-width="1.36"/>
<ellipse cx="216.43" cy="784.63" rx="1.58" ry="1.86" fill="#3a82e0"/>
<line x1="143.96" y1="790.7" x2="145.33" y2="785.91" stroke="#3a82e0" stroke-width="1.29"/>
<ellipse cx="145.33" cy="785.91" rx="0.73" ry="0.74" fill="#3a82e0"/>
<line x1="241.4" y1="792.63" x2="240.45" y2="790.61" stroke="#3579da" stroke-width="1.34"/>
<ellipse cx="240.45" cy="790.61" rx="1.57" ry="1.9" fill="#3579da"/>
<line x1="145.94" y1="790.47" x2="144.8" y2="785.78" stroke="#4a90e6" stroke-width="1.31"/>
<ellipse cx="144.8" cy="785.78" rx="1.32" ry="1.62" fill="#4a90e6"/>
<line x1="183.49" y1="790.08" x2="185.19" y2="792.2" stroke="#3579da" stroke-width="1.73"/>
<ellipse cx="185.19" cy="792.2" rx="1.25" ry="1.57" fill="#3579da"/>
<line x1="194.09" y1="787.27" x2="192.06" y2="789.17" stroke="#3579da" stroke-width="1.19"/>
<ellipse cx="192.06" cy="789.17" rx="0.79" ry="1.06" fill="#3579da"/>
<line x1="233.91" y1="789.83" x2="236.35" y2="792.08" stroke="#2f72d4" stroke-width="1.61"/>
<ellipse cx="236.35" cy="792.08" rx="1.35" ry="1.44" fill="#2f72d4"/>
<line x1="210.93" y1="787.09" x2="211.98" y2="783.82" stroke="#3579da" stroke-width="1.34"/>
<ellipse cx="211.98" cy="783.82" rx="2.09" ry="2.53" fill="#3579da"/>
<line x1="201.02" y1="787.6" x2="199.81" y2="783.33" stroke="#3579da" stroke-width="1.53"/>
<ellipse cx="199.81" cy="783.33" rx="2.3" ry="3.08" fill="#3579da"/>
<line x1="204" y1="787.9" x2="201.96" y2="785.01" stroke="#3579da" stroke-width="1.66"/>
<ellipse cx="201.96" cy="785.01" rx="1.81" ry="2.29" fill="#3579da"/>
<line x1="214.88" y1="786.48" x2="215.42" y2="790.22" stroke="#2f72d4" stroke-width="1.02"/>
<ellipse cx="215.42" cy="790.22" rx="1.9" ry="2.47" fill="#2f72d4"/>
</svg>
<line x1="242.4" y1="802.3" x2="247.9" y2="802.3" stroke="#ddd" stroke-width="0.8"/>
<rect x="253.4" y="779.3" width="111.3" height="28" fill="#050505"/>
<svg x="253.4" y="779.3" width="111.3" height="28" viewBox="253.4 779.3 111.3 28" overflow="hidden">
<path d="M251,793.2 L267.5,792.3 L285,790.9 L295.5,787.9 L306.1,787 L314.8,793.2 L323.6,796.7 L334.1,794.1 L348.1,790.9 L358.6,794.9 L366,798" stroke="#d2b09c" stroke-width="1.0" fill="none"/>
<line x1="264.11" y1="792.48" x2="261.76" y2="789.26" stroke="#4a90e6" stroke-width="1.49"/>
<ellipse cx="261.76" cy="789.26" rx="2.07" ry="2.72" fill="#4a90e6"/>
<line x1="296.97" y1="787.78" x2="298.17" y2="794.29" stroke="#4a90e6" stroke-width="1.46"/>
<ellipse cx="298.17" cy="794.29" rx="1.81" ry="2.14" fill="#4a90e6"/>
<line x1="314.27" y1="792.82" x2="313.07" y2="801.8" stroke="#2f72d4" stroke-width="1.09"/>
<ellipse cx="313.07" cy="801.8" rx="2.43" ry="3.36" fill="#2f72d4"/>
<line x1="352.88" y1="792.72" x2="350.72" y2="789.54" stroke="#3579da" stroke-width="1.23"/>
<ellipse cx="350.72" cy="789.54" rx="1.52" ry="1.73" fill="#3579da"/>
<line x1="294" y1="788.33" x2="295.86" y2="783.98" stroke="#2f72d4" stroke-width="1.06"/>
<ellipse cx="295.86" cy="783.98" rx="2.2" ry="2.26" fill="#2f72d4"/>
<line x1="280.23" y1="791.28" x2="281.42" y2="787.03" stroke="#3a82e0" stroke-width="1.04"/>
<ellipse cx="281.42" cy="787.03" rx="1.05" ry="1.22" fill="#3a82e0"/>
<line x1="340.28" y1="792.69" x2="342.65" y2="794.3" stroke="#3a82e0" stroke-width="1.76"/>
<ellipse cx="342.65" cy="794.3" rx="2.58" ry="3.53" fill="#3a82e0"/>
<line x1="299.99" y1="787.52" x2="299.45" y2="791.44" stroke="#3579da" stroke-width="1.23"/>
<ellipse cx="299.45" cy="791.44" rx="0.99" ry="1.11" fill="#3579da"/>
<line x1="269.16" y1="792.17" x2="270.63" y2="802.26" stroke="#3579da" stroke-width="1.06"/>
<ellipse cx="270.63" cy="802.26" rx="0.83" ry="0.91" fill="#3579da"/>
<line x1="266.13" y1="792.37" x2="264.37" y2="795.82" stroke="#3a82e0" stroke-width="1.8"/>
<ellipse cx="264.37" cy="795.82" rx="2.49" ry="3" fill="#3a82e0"/>
<line x1="263.11" y1="792.54" x2="264.97" y2="790.05" stroke="#3579da" stroke-width="1.09"/>
<ellipse cx="264.97" cy="790.05" rx="2.44" ry="3.07" fill="#3579da"/>
<line x1="307.69" y1="788.13" x2="309.13" y2="790.06" stroke="#3a82e0" stroke-width="1.58"/>
<ellipse cx="309.13" cy="790.06" rx="2.09" ry="2.84" fill="#3a82e0"/>
<line x1="299.99" y1="787.52" x2="298.61" y2="777.45" stroke="#2f72d4" stroke-width="1.14"/>
<ellipse cx="298.61" cy="777.45" rx="1.28" ry="1.32" fill="#2f72d4"/>
<line x1="339.3" y1="792.91" x2="340.26" y2="796.26" stroke="#3a82e0" stroke-width="1.76"/>
<ellipse cx="340.26" cy="796.26" rx="0.92" ry="1.01" fill="#3a82e0"/>
<line x1="322.65" y1="796.32" x2="322.62" y2="792.52" stroke="#3a82e0" stroke-width="1.04"/>
<ellipse cx="322.62" cy="792.52" rx="1.51" ry="1.86" fill="#3a82e0"/>
<line x1="362.27" y1="796.44" x2="361.19" y2="793.65" stroke="#3579da" stroke-width="1.34"/>
<ellipse cx="361.19" cy="793.65" rx="1.91" ry="2.44" fill="#3579da"/>
<line x1="285.26" y1="790.83" x2="287" y2="780.05" stroke="#4a90e6" stroke-width="1.12"/>
<ellipse cx="287" cy="780.05" rx="2.48" ry="2.93" fill="#4a90e6"/>
<line x1="322.65" y1="796.32" x2="324.53" y2="792.78" stroke="#2f72d4" stroke-width="1.73"/>
<ellipse cx="324.53" cy="792.78" rx="1.01" ry="1.36" fill="#2f72d4"/>
<line x1="352.88" y1="792.72" x2="352.89" y2="790.61" stroke="#4a90e6" stroke-width="1.38"/>
<ellipse cx="352.89" cy="790.61" rx="2.42" ry="2.47" fill="#4a90e6"/>
<line x1="314.27" y1="792.82" x2="314.02" y2="788.82" stroke="#3a82e0" stroke-width="1.22"/>
<ellipse cx="314.02" cy="788.82" rx="1.23" ry="1.42" fill="#3a82e0"/>
<line x1="253.02" y1="793.09" x2="251.85" y2="795.96" stroke="#3a82e0" stroke-width="1.38"/>
<ellipse cx="251.85" cy="795.96" rx="1.8" ry="2.2" fill="#3a82e0"/>
<line x1="295.96" y1="787.86" x2="294.8" y2="791.48" stroke="#2f72d4" stroke-width="1.1"/>
<ellipse cx="294.8" cy="791.48" rx="1.1" ry="1.23" fill="#2f72d4"/>
<line x1="339.3" y1="792.91" x2="339.34" y2="791.23" stroke="#2f72d4" stroke-width="1.22"/>
<ellipse cx="339.34" cy="791.23" rx="1.64" ry="1.76" fill="#2f72d4"/>
<line x1="279.23" y1="791.36" x2="279.58" y2="784.08" stroke="#3a82e0" stroke-width="1.75"/>
<ellipse cx="279.58" cy="784.08" rx="1.07" ry="1.45" fill="#3a82e0"/>
<line x1="363.2" y1="796.83" x2="365.25" y2="798.37" stroke="#4a90e6" stroke-width="1.47"/>
<ellipse cx="365.25" cy="798.37" rx="1.84" ry="2.16" fill="#4a90e6"/>
<line x1="295.96" y1="787.86" x2="295.5" y2="791.8" stroke="#3579da" stroke-width="1.17"/>
<ellipse cx="295.5" cy="791.8" rx="1.13" ry="1.49" fill="#3579da"/>
<line x1="304.02" y1="787.18" x2="301.66" y2="791.85" stroke="#3a82e0" stroke-width="1.19"/>
<ellipse cx="301.66" cy="791.85" rx="2.09" ry="2.9" fill="#3a82e0"/>
<line x1="343.24" y1="792.01" x2="342.84" y2="787.18" stroke="#2f72d4" stroke-width="1.24"/>
<ellipse cx="342.84" cy="787.18" rx="2.1" ry="2.49" fill="#2f72d4"/>
<line x1="315.13" y1="793.33" x2="313.99" y2="786.91" stroke="#2f72d4" stroke-width="1.33"/>
<ellipse cx="313.99" cy="786.91" rx="1.63" ry="1.71" fill="#2f72d4"/>
<line x1="293.03" y1="788.61" x2="294.49" y2="794.66" stroke="#3579da" stroke-width="1.07"/>
<ellipse cx="294.49" cy="794.66" rx="1.79" ry="1.83" fill="#3579da"/>
<line x1="310.16" y1="789.89" x2="312.01" y2="779.6" stroke="#2f72d4" stroke-width="1.19"/>
<ellipse cx="312.01" cy="779.6" rx="0.73" ry="0.88" fill="#2f72d4"/>
<line x1="268.15" y1="792.25" x2="269.16" y2="796.14" stroke="#4a90e6" stroke-width="1.68"/>
<ellipse cx="269.16" cy="796.14" rx="0.79" ry="0.91" fill="#4a90e6"/>
<line x1="293.03" y1="788.61" x2="292.86" y2="786.29" stroke="#2f72d4" stroke-width="1.25"/>
<ellipse cx="292.86" cy="786.29" rx="1.04" ry="1.04" fill="#2f72d4"/>
<line x1="255.04" y1="792.98" x2="254.59" y2="783.07" stroke="#3579da" stroke-width="1.07"/>
<ellipse cx="254.59" cy="783.07" rx="2.2" ry="2.55" fill="#3579da"/>
<line x1="266.13" y1="792.37" x2="266.04" y2="788.45" stroke="#2f72d4" stroke-width="1.69"/>
<ellipse cx="266.04" cy="788.45" rx="1.62" ry="2.19" fill="#2f72d4"/>
<line x1="354.77" y1="793.44" x2="355.93" y2="795.07" stroke="#4a90e6" stroke-width="1.74"/>
<ellipse cx="355.93" cy="795.07" rx="1.48" ry="1.53" fill="#4a90e6"/>
<line x1="327.51" y1="795.73" x2="328.33" y2="785.83" stroke="#3a82e0" stroke-width="1.15"/>
<ellipse cx="328.33" cy="785.83" rx="1.8" ry="1.81" fill="#3a82e0"/>
<line x1="303.01" y1="787.26" x2="303.6" y2="790.89" stroke="#4a90e6" stroke-width="1.68"/>
<ellipse cx="303.6" cy="790.89" rx="1.35" ry="1.45" fill="#4a90e6"/>
<line x1="324.56" y1="796.46" x2="325.18" y2="792.28" stroke="#3a82e0" stroke-width="1.34"/>
<ellipse cx="325.18" cy="792.28" rx="2.6" ry="2.75" fill="#3a82e0"/>
<line x1="295.96" y1="787.86" x2="294.8" y2="792.77" stroke="#3579da" stroke-width="1.73"/>
<ellipse cx="294.8" cy="792.77" rx="2.55" ry="2.68" fill="#3579da"/>
<line x1="349.1" y1="791.28" x2="347.32" y2="788.86" stroke="#3579da" stroke-width="1.47"/>
<ellipse cx="347.32" cy="788.86" rx="0.92" ry="1.2" fill="#3579da"/>
<line x1="325.54" y1="796.22" x2="323.19" y2="787.24" stroke="#4a90e6" stroke-width="1.62"/>
<ellipse cx="323.19" cy="787.24" rx="0.87" ry="1.08" fill="#4a90e6"/>
</svg>
<line x1="355.7" y1="802.3" x2="361.2" y2="802.3" stroke="#ddd" stroke-width="0.8"/>
<text x="158.8" y="821.9" font-size="16.6" textLength="86" lengthAdjust="spacingAndGlyphs">Golgi staining</text>
<text x="399.8" y="744.8" font-size="9.6" textLength="98.1" lengthAdjust="spacingAndGlyphs">Dendrites spine density</text>
<line x1="414" y1="755.88" x2="414" y2="852.73" stroke="#000" stroke-width="1.45"/>
<line x1="409" y1="852" x2="414" y2="852" stroke="#000" stroke-width="1.45"/>
<text x="408.3" y="854.86" font-size="8.4" text-anchor="end">0</text>
<line x1="409" y1="820.2" x2="414" y2="820.2" stroke="#000" stroke-width="1.45"/>
<text x="408.3" y="823.06" font-size="8.4" text-anchor="end">5</text>
<line x1="409" y1="788.4" x2="414" y2="788.4" stroke="#000" stroke-width="1.45"/>
<text x="408.3" y="791.26" font-size="8.4" text-anchor="end">10</text>
<line x1="409" y1="756.6" x2="414" y2="756.6" stroke="#000" stroke-width="1.45"/>
<text x="408.3" y="759.46" font-size="8.4" text-anchor="end">15</text>
<line x1="413.27" y1="852" x2="484.2" y2="852" stroke="#000" stroke-width="1.45"/>
<line x1="428.6" y1="852" x2="428.6" y2="857" stroke="#000" stroke-width="1.45"/>
<line x1="448.6" y1="852" x2="448.6" y2="857" stroke="#000" stroke-width="1.45"/>
<line x1="467.9" y1="852" x2="467.9" y2="857" stroke="#000" stroke-width="1.45"/>
<text x="394.6" y="834" font-size="8.6" transform="rotate(-90 394.6 834)" textLength="58.5" lengthAdjust="spacingAndGlyphs">Spines per 10 μm</text>
<rect x="422.25" y="829.12" width="13.7" height="22.88" fill="#d6d7d6" stroke="#000" stroke-width="1.3"/>
<line x1="429.1" y1="825.92" x2="429.1" y2="830.38" stroke="#000" stroke-width="1.0"/>
<line x1="425.1" y1="825.92" x2="433.1" y2="825.92" stroke="#000" stroke-width="1.0"/>
<line x1="425.1" y1="830.38" x2="433.1" y2="830.38" stroke="#000" stroke-width="1.0"/>
<circle cx="429.1" cy="824.65" r="1.9" fill="#000"/>
<circle cx="425.1" cy="825.92" r="1.9" fill="#000"/>
<circle cx="433.1" cy="827.2" r="1.9" fill="#000"/>
<circle cx="427.1" cy="827.83" r="1.9" fill="#000"/>
<circle cx="431.1" cy="828.47" r="1.9" fill="#000"/>
<circle cx="425.1" cy="829.1" r="1.9" fill="#000"/>
<rect x="442.15" y="791.59" width="13" height="60.41" fill="#6a9dd6" stroke="#000" stroke-width="1.3"/>
<line x1="448.65" y1="782.68" x2="448.65" y2="797.94" stroke="#000" stroke-width="1.0"/>
<line x1="444.65" y1="782.68" x2="452.65" y2="782.68" stroke="#000" stroke-width="1.0"/>
<line x1="444.65" y1="797.94" x2="452.65" y2="797.94" stroke="#000" stroke-width="1.0"/>
<circle cx="448.65" cy="782.04" r="1.9" fill="#000"/>
<circle cx="444.65" cy="783.95" r="1.9" fill="#000"/>
<circle cx="452.65" cy="788.4" r="1.9" fill="#000"/>
<circle cx="446.65" cy="791.58" r="1.9" fill="#000"/>
<circle cx="450.65" cy="799.21" r="1.9" fill="#000"/>
<circle cx="444.65" cy="801.12" r="1.9" fill="#000"/>
<rect x="461.55" y="795.41" width="13.3" height="56.59" fill="#bf8cc7" stroke="#000" stroke-width="1.3"/>
<line x1="468.2" y1="790.94" x2="468.2" y2="797.94" stroke="#000" stroke-width="1.0"/>
<line x1="464.2" y1="790.94" x2="472.2" y2="790.94" stroke="#000" stroke-width="1.0"/>
<line x1="464.2" y1="797.94" x2="472.2" y2="797.94" stroke="#000" stroke-width="1.0"/>
<circle cx="468.2" cy="790.31" r="1.9" fill="#000"/>
<circle cx="464.2" cy="791.58" r="1.9" fill="#000"/>
<circle cx="472.2" cy="793.49" r="1.9" fill="#000"/>
<circle cx="466.2" cy="794.76" r="1.9" fill="#000"/>
<circle cx="470.2" cy="796.03" r="1.9" fill="#000"/>
<circle cx="464.2" cy="797.94" r="1.9" fill="#000"/>
<line x1="419.7" y1="759.4" x2="475.7" y2="759.4" stroke="#000" stroke-width="1.5"/>
<text x="441.6" y="759.27" font-size="11" text-rendering="geometricPrecision" style="font-family:'DejaVu Sans', sans-serif">*</text>
<text x="448" y="759.27" font-size="11" text-rendering="geometricPrecision" style="font-family:'DejaVu Sans', sans-serif">*</text>
<line x1="421.6" y1="775.5" x2="451.4" y2="775.5" stroke="#000" stroke-width="1.5"/>
<text x="430.8" y="775.67" font-size="11" text-rendering="geometricPrecision" style="font-family:'DejaVu Sans', sans-serif">*</text>
<text x="437.19" y="775.67" font-size="11" text-rendering="geometricPrecision" style="font-family:'DejaVu Sans', sans-serif">*</text>
<text x="0" y="0" font-size="7.6" transform="translate(432.2 861.5) scale(1.2 1) rotate(-45)" text-anchor="end">WT</text>
<text x="0" y="0" font-size="7.6" transform="translate(452.2 862) scale(1.2 1) rotate(-45)" text-anchor="end">ATase1</text>
<text x="0" y="0" font-size="7.6" transform="translate(471.5 862) scale(1.2 1) rotate(-45)" text-anchor="end">ATase2</text>
<text x="533.2" y="745.6" font-size="9.6" textLength="49.9" lengthAdjust="spacingAndGlyphs">Spine volume</text>
<line x1="520.5" y1="757.17" x2="520.5" y2="853.12" stroke="#000" stroke-width="1.45"/>
<line x1="516" y1="852.4" x2="520.5" y2="852.4" stroke="#000" stroke-width="1.45"/>
<text x="516.5" y="855.05" font-size="7.8" text-anchor="end" textLength="9.26" lengthAdjust="spacingAndGlyphs">0.0</text>
<line x1="516" y1="820.9" x2="520.5" y2="820.9" stroke="#000" stroke-width="1.45"/>
<text x="516.5" y="823.55" font-size="7.8" text-anchor="end" textLength="9.26" lengthAdjust="spacingAndGlyphs">0.1</text>
<line x1="516" y1="789.4" x2="520.5" y2="789.4" stroke="#000" stroke-width="1.45"/>
<text x="516.5" y="792.05" font-size="7.8" text-anchor="end" textLength="9.26" lengthAdjust="spacingAndGlyphs">0.2</text>
<line x1="516" y1="757.9" x2="520.5" y2="757.9" stroke="#000" stroke-width="1.45"/>
<text x="516.5" y="760.55" font-size="7.8" text-anchor="end" textLength="9.26" lengthAdjust="spacingAndGlyphs">0.3</text>
<line x1="519.77" y1="852.4" x2="594.9" y2="852.4" stroke="#000" stroke-width="1.45"/>
<line x1="536.6" y1="852.4" x2="536.6" y2="857.4" stroke="#000" stroke-width="1.45"/>
<line x1="557.3" y1="852.4" x2="557.3" y2="857.4" stroke="#000" stroke-width="1.45"/>
<line x1="577.8" y1="852.4" x2="577.8" y2="857.4" stroke="#000" stroke-width="1.45"/>
<text x="507.3" y="811" font-size="8" transform="rotate(-90 507.3 811)">μm</text>
<text x="502.5" y="798.8" font-size="5.5" transform="rotate(-90 502.5 798.8)">3</text>
<rect x="530.05" y="776.82" width="13.9" height="75.58" fill="#d6d7d6" stroke="#000" stroke-width="1.3"/>
<line x1="537" y1="768.92" x2="537" y2="783.1" stroke="#000" stroke-width="1.0"/>
<line x1="533" y1="768.92" x2="541" y2="768.92" stroke="#000" stroke-width="1.0"/>
<line x1="533" y1="783.1" x2="541" y2="783.1" stroke="#000" stroke-width="1.0"/>
<circle cx="537" cy="766.72" r="1.9" fill="#000"/>
<circle cx="533" cy="768.92" r="1.9" fill="#000"/>
<circle cx="541" cy="773.65" r="1.9" fill="#000"/>
<circle cx="535" cy="778.38" r="1.9" fill="#000"/>
<circle cx="539" cy="781.52" r="1.9" fill="#000"/>
<circle cx="533" cy="784.67" r="1.9" fill="#000"/>
<rect x="550.35" y="791.31" width="14.5" height="61.09" fill="#6a9dd6" stroke="#000" stroke-width="1.3"/>
<line x1="557.6" y1="785.62" x2="557.6" y2="795.7" stroke="#000" stroke-width="1.0"/>
<line x1="553.6" y1="785.62" x2="561.6" y2="785.62" stroke="#000" stroke-width="1.0"/>
<line x1="553.6" y1="795.7" x2="561.6" y2="795.7" stroke="#000" stroke-width="1.0"/>
<circle cx="557.6" cy="781.52" r="1.9" fill="#000"/>
<circle cx="553.6" cy="787.82" r="1.9" fill="#000"/>
<circle cx="561.6" cy="789.4" r="1.9" fill="#000"/>
<circle cx="555.6" cy="790.98" r="1.9" fill="#000"/>
<circle cx="559.6" cy="792.55" r="1.9" fill="#000"/>
<circle cx="553.6" cy="795.7" r="1.9" fill="#000"/>
<rect x="570.85" y="786.9" width="14.5" height="65.5" fill="#bf8cc7" stroke="#000" stroke-width="1.3"/>
<line x1="578.1" y1="772.39" x2="578.1" y2="799.48" stroke="#000" stroke-width="1.0"/>
<line x1="574.1" y1="772.39" x2="582.1" y2="772.39" stroke="#000" stroke-width="1.0"/>
<line x1="574.1" y1="799.48" x2="582.1" y2="799.48" stroke="#000" stroke-width="1.0"/>
<circle cx="578.1" cy="767.35" r="1.9" fill="#000"/>
<circle cx="574.1" cy="775.23" r="1.9" fill="#000"/>
<circle cx="582.1" cy="778.38" r="1.9" fill="#000"/>
<circle cx="576.1" cy="795.7" r="1.9" fill="#000"/>
<circle cx="580.1" cy="797.27" r="1.9" fill="#000"/>
<circle cx="574.1" cy="802" r="1.9" fill="#000"/>
<line x1="526.2" y1="759.8" x2="557.3" y2="759.8" stroke="#000" stroke-width="1.5"/>
<text x="539.52" y="759.21" font-size="10.5" text-rendering="geometricPrecision" style="font-family:'DejaVu Sans', sans-serif">*</text>
<text x="0" y="0" font-size="7.5" transform="translate(539.6 862) scale(1 1) rotate(-45)" text-anchor="end">WT</text>
<text x="0" y="0" font-size="7.5" transform="translate(560.5 862.5) scale(1 1) rotate(-45)" text-anchor="end">ATase1</text>
<text x="0" y="0" font-size="7.5" transform="translate(581 862.5) scale(1 1) rotate(-45)" text-anchor="end">ATase2</text>
</svg>
</body></html>
